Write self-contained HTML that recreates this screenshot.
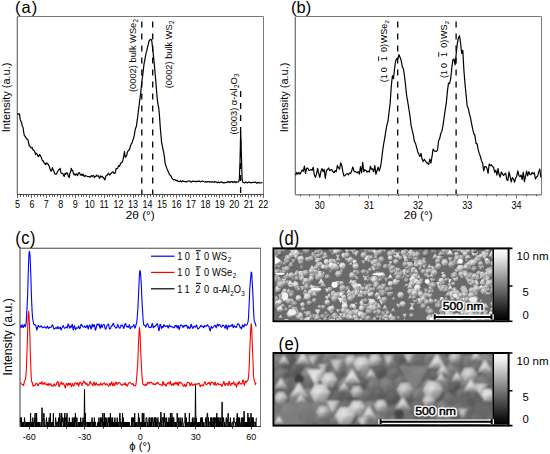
<!DOCTYPE html>
<html><head><meta charset="utf-8"><style>
html,body{margin:0;padding:0;background:#fff;width:550px;height:454px;overflow:hidden}
svg{display:block}
text{font-family:"Liberation Sans", sans-serif}
</style></head><body>
<svg xmlns="http://www.w3.org/2000/svg" width="550" height="454" viewBox="0 0 550 454" font-family='"Liberation Sans", sans-serif'><path d="M17.5 194.5V16.5H263.5V194.5" fill="none" stroke="#7a7a7a" stroke-width="1"/>
<path d="M17.0 194.5H264.0" fill="none" stroke="#484848" stroke-width="1"/>
<path d="M16.5 17V194" stroke="#d4d4d4" stroke-width="1" fill="none"/>
<path d="M17.5 195v3M31.5 195v3M46.5 195v3M60.5 195v3M75.5 195v3M89.5 195v3M104.5 195v3M118.5 195v3M133.5 195v3M147.5 195v3M162.5 195v3M176.5 195v3M190.5 195v3M205.5 195v3M219.5 195v3M234.5 195v3M248.5 195v3M263.5 195v3" stroke="#666" stroke-width="1" fill="none"/>
<path d="M20.5 195v1.8M23.5 195v1.8M26.5 195v1.8M28.5 195v1.8M34.5 195v1.8M37.5 195v1.8M40.5 195v1.8M43.5 195v1.8M49.5 195v1.8M52.5 195v1.8M54.5 195v1.8M57.5 195v1.8M63.5 195v1.8M66.5 195v1.8M69.5 195v1.8M72.5 195v1.8M78.5 195v1.8M81.5 195v1.8M83.5 195v1.8M86.5 195v1.8M92.5 195v1.8M95.5 195v1.8M98.5 195v1.8M101.5 195v1.8M107.5 195v1.8M109.5 195v1.8M112.5 195v1.8M115.5 195v1.8M121.5 195v1.8M124.5 195v1.8M127.5 195v1.8M130.5 195v1.8M135.5 195v1.8M138.5 195v1.8M141.5 195v1.8M144.5 195v1.8M150.5 195v1.8M153.5 195v1.8M156.5 195v1.8M159.5 195v1.8M164.5 195v1.8M167.5 195v1.8M170.5 195v1.8M173.5 195v1.8M179.5 195v1.8M182.5 195v1.8M185.5 195v1.8M188.5 195v1.8M193.5 195v1.8M196.5 195v1.8M199.5 195v1.8M202.5 195v1.8M208.5 195v1.8M211.5 195v1.8M214.5 195v1.8M216.5 195v1.8M222.5 195v1.8M225.5 195v1.8M228.5 195v1.8M231.5 195v1.8M237.5 195v1.8M240.5 195v1.8M242.5 195v1.8M245.5 195v1.8M251.5 195v1.8M254.5 195v1.8M257.5 195v1.8M260.5 195v1.8" stroke="#555" stroke-width="1" fill="none"/>
<text x="17.4" y="207.6" font-size="9" text-anchor="middle" fill="#000" transform="matrix(1.0 0 0 1.15 0.00 -31.14)">5</text>
<text x="31.9" y="207.6" font-size="9" text-anchor="middle" fill="#000" transform="matrix(1.0 0 0 1.15 0.00 -31.14)">6</text>
<text x="46.3" y="207.6" font-size="9" text-anchor="middle" fill="#000" transform="matrix(1.0 0 0 1.15 0.00 -31.14)">7</text>
<text x="60.8" y="207.6" font-size="9" text-anchor="middle" fill="#000" transform="matrix(1.0 0 0 1.15 0.00 -31.14)">8</text>
<text x="75.2" y="207.6" font-size="9" text-anchor="middle" fill="#000" transform="matrix(1.0 0 0 1.15 0.00 -31.14)">9</text>
<text x="89.7" y="207.6" font-size="9" text-anchor="middle" fill="#000" transform="matrix(1.0 0 0 1.15 0.00 -31.14)">10</text>
<text x="104.2" y="207.6" font-size="9" text-anchor="middle" fill="#000" transform="matrix(1.0 0 0 1.15 0.00 -31.14)">11</text>
<text x="118.6" y="207.6" font-size="9" text-anchor="middle" fill="#000" transform="matrix(1.0 0 0 1.15 0.00 -31.14)">12</text>
<text x="133.1" y="207.6" font-size="9" text-anchor="middle" fill="#000" transform="matrix(1.0 0 0 1.15 0.00 -31.14)">13</text>
<text x="147.5" y="207.6" font-size="9" text-anchor="middle" fill="#000" transform="matrix(1.0 0 0 1.15 0.00 -31.14)">14</text>
<text x="162.0" y="207.6" font-size="9" text-anchor="middle" fill="#000" transform="matrix(1.0 0 0 1.15 0.00 -31.14)">15</text>
<text x="176.5" y="207.6" font-size="9" text-anchor="middle" fill="#000" transform="matrix(1.0 0 0 1.15 0.00 -31.14)">16</text>
<text x="190.9" y="207.6" font-size="9" text-anchor="middle" fill="#000" transform="matrix(1.0 0 0 1.15 0.00 -31.14)">17</text>
<text x="205.4" y="207.6" font-size="9" text-anchor="middle" fill="#000" transform="matrix(1.0 0 0 1.15 0.00 -31.14)">18</text>
<text x="219.8" y="207.6" font-size="9" text-anchor="middle" fill="#000" transform="matrix(1.0 0 0 1.15 0.00 -31.14)">19</text>
<text x="234.3" y="207.6" font-size="9" text-anchor="middle" fill="#000" transform="matrix(1.0 0 0 1.15 0.00 -31.14)">20</text>
<text x="248.8" y="207.6" font-size="9" text-anchor="middle" fill="#000" transform="matrix(1.0 0 0 1.15 0.00 -31.14)">21</text>
<text x="263.2" y="207.6" font-size="9" text-anchor="middle" fill="#000" transform="matrix(1.0 0 0 1.15 0.00 -31.14)">22</text>
<text x="140.3" y="218.6" font-size="11.8" text-anchor="middle" fill="#000">2θ (°)</text>
<text x="10.2" y="97.4" font-size="11" text-anchor="middle" fill="#000" transform="rotate(-90 10.2 97.4)">Intensity (a.u.)</text>
<text x="15.0" y="13.0" font-size="16.5" text-anchor="start" fill="#000" transform="matrix(1.0 0 0 0.95 0.00 0.65)" letter-spacing="1">(a)</text>
<path d="M17.4 113.6L18.1 114.3L18.8 113.8L19.5 114.3L20.2 119.2L20.9 121.2L21.6 122.7L22.3 126.2L23.0 127.3L23.7 132.0L24.4 136.0L25.1 136.0L25.8 137.9L26.5 138.0L27.2 139.4L27.9 139.6L28.6 143.1L29.3 146.0L30.0 146.2L30.7 147.5L31.4 148.0L32.1 147.3L32.8 149.6L33.5 149.9L34.2 150.9L34.9 152.0L35.6 154.5L36.3 153.2L37.0 153.9L37.7 155.7L38.4 156.6L39.1 155.4L39.8 154.4L40.5 156.5L41.2 156.8L41.9 159.2L42.6 160.9L43.3 160.9L44.0 162.8L44.7 163.4L45.4 164.5L46.1 162.9L46.8 163.8L47.5 163.4L48.2 164.4L48.9 165.6L49.6 167.4L50.3 169.8L51.0 171.1L51.7 170.1L52.4 167.7L53.1 169.5L53.8 171.1L54.5 173.1L55.2 174.2L55.9 174.2L56.6 173.8L57.3 172.0L58.0 171.0L58.7 169.7L59.4 169.6L60.1 168.3L60.8 171.9L61.5 173.5L62.2 173.5L62.9 173.4L63.6 175.8L64.3 176.3L65.0 173.4L65.7 174.4L66.4 172.8L67.1 172.8L67.8 174.3L68.5 176.6L69.2 177.5L69.9 173.1L70.6 172.1L71.3 168.3L72.0 170.2L72.7 170.6L73.4 173.3L74.1 174.8L74.8 173.9L75.5 175.3L76.2 173.9L76.9 174.3L77.6 175.6L78.3 173.2L79.0 172.6L79.7 173.1L80.4 175.0L81.1 175.1L81.8 174.1L82.5 175.4L83.2 174.2L83.9 176.1L84.6 176.3L85.3 175.4L86.0 175.9L86.7 176.2L87.4 176.6L88.1 176.6L88.8 176.6L89.5 176.7L90.2 177.2L90.9 176.0L91.6 175.7L92.3 176.5L93.0 175.5L93.7 175.8L94.4 177.6L95.1 176.5L95.8 176.4L96.5 175.0L97.2 175.9L97.9 176.2L98.6 175.8L99.3 178.2L100.0 178.0L100.7 175.9L101.4 176.6L102.1 176.3L102.8 177.5L103.5 177.4L104.2 179.0L104.9 179.8L105.6 176.8L106.3 175.4L107.0 175.3L107.7 174.4L108.4 173.2L109.1 174.2L109.8 175.0L110.5 173.9L111.2 173.3L111.9 172.5L112.6 171.9L113.3 172.1L114.0 173.5L114.7 173.5L115.4 172.4L116.1 168.6L116.8 168.7L117.5 168.4L118.2 166.6L118.9 165.7L119.6 166.4L120.3 164.1L121.0 162.9L121.7 162.5L122.4 162.1L123.1 159.2L123.8 155.7L124.5 151.7L125.2 157.2L125.9 156.6L126.6 155.8L127.3 152.4L128.0 151.0L128.7 150.2L129.4 149.6L130.1 147.3L130.8 145.3L131.5 143.4L132.2 142.6L132.9 139.9L133.6 138.0L134.3 135.2L135.0 130.6L135.7 127.9L136.4 126.3L137.1 120.9L137.8 116.0L138.5 109.6L139.2 104.5L139.9 99.2L140.6 94.2L141.3 86.5L142.0 80.5L142.7 75.5L143.4 69.1L144.1 63.4L144.8 60.1L145.5 56.1L146.2 52.6L146.9 50.2L147.6 46.9L148.3 44.3L149.0 40.9L149.7 40.4L150.4 39.4L151.1 39.3L151.8 40.9L152.5 47.1L153.2 53.7L153.9 60.4L154.6 67.4L155.3 75.7L156.0 83.7L156.7 92.5L157.4 100.3L158.1 104.7L158.8 108.3L159.5 116.0L160.2 126.4L160.9 134.5L161.6 142.3L162.3 145.8L163.0 149.3L163.7 152.4L164.4 156.9L165.1 163.0L165.8 165.5L166.5 167.3L167.2 169.4L167.9 170.9L168.6 172.4L169.3 174.3L170.0 175.0L170.7 175.7L171.4 176.7L172.1 178.4L172.8 179.0L173.5 179.9L174.2 179.6L174.9 179.6L175.6 180.2L176.3 180.7L177.0 180.2L177.7 181.1L178.4 181.4L179.1 181.5L179.8 181.6L180.5 180.7L181.2 181.5L181.9 181.8L182.6 180.9L183.3 181.2L184.0 181.3L184.7 181.6L185.4 181.5L186.1 181.6L186.8 181.9L187.5 181.0L188.2 181.0L188.9 181.1L189.6 181.1L190.3 181.0L191.0 182.1L191.7 182.0L192.4 181.1L193.1 181.5L193.8 181.3L194.5 181.3L195.2 181.4L195.9 181.7L196.6 181.6L197.3 181.4L198.0 181.1L198.7 181.3L199.4 181.1L200.1 181.6L200.8 181.8L201.5 181.4L202.2 181.1L202.9 181.2L203.6 181.5L204.3 181.8L205.0 182.0L205.7 181.6L206.4 182.1L207.1 181.9L207.8 181.7L208.5 181.7L209.2 181.8L209.9 182.1L210.6 181.8L211.3 182.2L212.0 181.9L212.7 181.7L213.4 182.0L214.1 182.3L214.8 181.5L215.5 182.0L216.2 182.0L216.9 182.6L217.6 182.7L218.3 182.0L219.0 182.7L219.7 182.6L220.4 182.0L221.1 182.2L221.8 181.9L222.5 182.7L223.2 182.6L223.9 182.9L224.6 182.7L225.3 182.6L226.0 182.6L226.7 182.4L227.4 181.8L228.1 182.4L228.8 181.7L229.5 181.8L230.2 182.6L230.9 181.7L231.6 181.7L232.3 181.7L233.0 182.6L233.7 181.8L234.4 181.5L235.1 182.5L235.8 181.6L236.5 182.5L237.2 182.0L237.9 182.0L238.6 182.0L239.3 179.5L240.0 162.0L240.7 131.6L241.4 154.7L242.1 179.1L242.8 182.5L243.5 182.5L244.2 182.8L244.9 183.0L245.6 182.0L246.3 182.3L247.0 182.6L247.7 182.9L248.4 182.2L249.1 182.2L249.8 182.3L250.5 182.7L251.2 182.9L251.9 182.5L252.6 182.4L253.3 182.5L254.0 182.4L254.7 182.5L255.4 182.1L256.1 182.6L256.8 183.2L257.5 182.5L258.2 182.9L258.9 182.3L259.6 182.9L260.3 183.0L261.0 182.9L261.7 182.7L262.4 182.7" fill="none" stroke="#000" stroke-width="1.2" stroke-linejoin="round"/>
<path d="M141.8 21.5V194M152.7 21.5V194M240.6 91V194" stroke="#000" stroke-width="1.3" stroke-dasharray="6 6" fill="none"/>
<g transform="rotate(-90 136.2 92.0)"><text x="136.20" y="92.00" font-size="9.30" fill="#000">(</text><text x="139.30" y="92.00" font-size="9.30" fill="#000">0</text><text x="144.47" y="92.00" font-size="9.30" fill="#000">0</text><text x="149.64" y="92.00" font-size="9.30" fill="#000">0</text><text x="154.81" y="92.00" font-size="9.30" fill="#000">2</text><text x="159.99" y="92.00" font-size="9.30" fill="#000">)</text><text x="165.67" y="92.00" font-size="9.30" fill="#000">b</text><text x="170.84" y="92.00" font-size="9.30" fill="#000">u</text><text x="176.01" y="92.00" font-size="9.30" fill="#000">l</text><text x="178.08" y="92.00" font-size="9.30" fill="#000">k</text><text x="185.31" y="92.00" font-size="9.30" fill="#000">W</text><text x="194.09" y="92.00" font-size="9.30" fill="#000">S</text><text x="200.29" y="92.00" font-size="9.30" fill="#000">e</text><text x="205.76" y="94.05" font-size="6.32" fill="#000">2</text></g>
<g transform="rotate(-90 172.0 88.3)"><text x="172.00" y="88.30" font-size="9.30" fill="#000">(</text><text x="175.10" y="88.30" font-size="9.30" fill="#000">0</text><text x="180.27" y="88.30" font-size="9.30" fill="#000">0</text><text x="185.44" y="88.30" font-size="9.30" fill="#000">0</text><text x="190.61" y="88.30" font-size="9.30" fill="#000">2</text><text x="195.79" y="88.30" font-size="9.30" fill="#000">)</text><text x="201.47" y="88.30" font-size="9.30" fill="#000">b</text><text x="206.64" y="88.30" font-size="9.30" fill="#000">u</text><text x="211.81" y="88.30" font-size="9.30" fill="#000">l</text><text x="213.88" y="88.30" font-size="9.30" fill="#000">k</text><text x="221.11" y="88.30" font-size="9.30" fill="#000">W</text><text x="229.89" y="88.30" font-size="9.30" fill="#000">S</text><text x="236.39" y="90.35" font-size="6.32" fill="#000">2</text></g>
<g transform="rotate(-90 237.0 134.6)"><text x="237.00" y="134.60" font-size="9.30" fill="#000">(</text><text x="240.10" y="134.60" font-size="9.30" fill="#000">0</text><text x="245.27" y="134.60" font-size="9.30" fill="#000">0</text><text x="250.44" y="134.60" font-size="9.30" fill="#000">0</text><text x="255.61" y="134.60" font-size="9.30" fill="#000">3</text><text x="260.79" y="134.60" font-size="9.30" fill="#000">)</text><text x="266.47" y="134.60" font-size="9.30" fill="#000">α</text><text x="271.84" y="134.60" font-size="9.30" fill="#000">-</text><text x="274.94" y="134.60" font-size="9.30" fill="#000">A</text><text x="281.14" y="134.60" font-size="9.30" fill="#000">l</text><text x="283.51" y="136.65" font-size="6.32" fill="#000">2</text><text x="287.03" y="134.60" font-size="9.30" fill="#000">O</text><text x="294.56" y="136.65" font-size="6.32" fill="#000">3</text></g>
<path d="M295.5 194.7V16.5H541.5V194.7" fill="none" stroke="#7a7a7a" stroke-width="1"/>
<path d="M295.0 194.7H542.0" fill="none" stroke="#8c8c8c" stroke-width="1.4"/>
<path d="M294.5 17V194" stroke="#d0d0d0" stroke-width="1" fill="none"/>
<path d="M319.5 195v3.5M368.5 195v3.5M418.5 195v3.5M467.5 195v3.5M516.5 195v3.5" stroke="#777" stroke-width="1" fill="none"/>
<path d="M300.5 195v1.2M309.5 195v1.2M329.5 195v1.2M339.5 195v1.2M349.5 195v1.2M359.5 195v1.2M378.5 195v1.2M388.5 195v1.2M398.5 195v1.2M408.5 195v1.2M427.5 195v1.2M437.5 195v1.2M447.5 195v1.2M457.5 195v1.2M477.5 195v1.2M486.5 195v1.2M496.5 195v1.2M506.5 195v1.2M526.5 195v1.2M536.5 195v1.2" stroke="#444" stroke-width="1" fill="none"/>
<text x="319.8" y="208.9" font-size="9" text-anchor="middle" fill="#000" transform="matrix(1.0 0 0 1.15 0.00 -31.33)">30</text>
<text x="368.9" y="208.9" font-size="9" text-anchor="middle" fill="#000" transform="matrix(1.0 0 0 1.15 0.00 -31.33)">31</text>
<text x="418.1" y="208.9" font-size="9" text-anchor="middle" fill="#000" transform="matrix(1.0 0 0 1.15 0.00 -31.33)">32</text>
<text x="467.2" y="208.9" font-size="9" text-anchor="middle" fill="#000" transform="matrix(1.0 0 0 1.15 0.00 -31.33)">33</text>
<text x="516.4" y="208.9" font-size="9" text-anchor="middle" fill="#000" transform="matrix(1.0 0 0 1.15 0.00 -31.33)">34</text>
<text x="418.2" y="219.4" font-size="11.8" text-anchor="middle" fill="#000">2θ (°)</text>
<text x="288.0" y="97.4" font-size="11" text-anchor="middle" fill="#000" transform="rotate(-90 288.0 97.4)">Intensity (a.u.)</text>
<text x="291.0" y="13.2" font-size="16.5" text-anchor="start" fill="#000" transform="matrix(1.0 0 0 0.95 0.00 0.66)">(b)</text>
<path d="M295.6 175.3L296.7 172.4L297.8 174.1L298.9 172.5L300.0 174.1L301.1 172.1L302.2 169.9L303.3 171.3L304.4 166.2L305.5 173.3L306.6 168.3L307.7 168.1L308.8 170.1L309.9 170.4L311.0 169.4L312.1 170.3L313.2 167.3L314.3 174.8L315.4 177.3L316.5 174.1L317.6 168.3L318.7 173.3L319.8 177.5L320.9 171.4L322.0 168.5L323.1 171.7L324.2 169.3L325.3 178.3L326.4 170.8L327.5 169.5L328.6 168.0L329.7 170.7L330.8 169.7L331.9 169.9L333.0 171.8L334.1 172.7L335.2 170.6L336.3 171.5L337.4 165.4L338.5 167.9L339.6 169.2L340.7 162.9L341.8 165.3L342.9 171.9L344.0 176.1L345.1 175.4L346.2 174.0L347.3 173.8L348.4 174.8L349.5 173.0L350.6 173.4L351.7 170.8L352.8 167.0L353.9 170.9L355.0 171.7L356.1 171.8L357.2 172.9L358.3 171.7L359.4 174.1L360.5 166.7L361.6 173.0L362.7 162.3L363.8 171.7L364.9 169.7L366.0 170.4L367.1 172.2L368.2 171.1L369.3 172.2L370.4 166.3L371.5 169.3L372.6 168.8L373.7 171.9L374.8 165.6L375.9 174.2L377.0 170.8L378.1 167.1L379.2 170.8L380.3 167.8L381.4 161.5L382.5 152.0L383.6 144.3L384.7 138.2L385.8 131.4L386.9 124.9L388.0 121.2L389.1 111.8L390.2 102.8L391.3 86.0L392.4 75.8L393.5 78.7L394.6 68.4L395.7 60.6L396.8 58.5L397.9 58.6L399.0 54.6L400.1 57.5L401.2 60.5L402.3 66.9L403.4 68.7L404.5 76.1L405.6 85.8L406.7 96.0L407.8 102.1L408.9 109.0L410.0 116.4L411.1 125.3L412.2 130.3L413.3 134.9L414.4 141.5L415.5 143.4L416.6 147.4L417.7 151.7L418.8 154.3L419.9 156.4L421.0 153.4L422.1 159.3L423.2 161.5L424.3 159.3L425.4 160.8L426.5 162.6L427.6 163.1L428.7 164.3L429.8 159.0L430.9 163.1L432.0 156.6L433.1 149.2L434.2 150.9L435.3 151.2L436.4 151.5L437.5 150.1L438.6 140.8L439.7 138.6L440.8 133.4L441.9 131.2L443.0 125.7L444.1 117.5L445.2 109.9L446.3 103.1L447.4 91.4L448.5 83.2L449.6 83.3L450.7 78.7L451.8 67.9L452.9 59.7L454.0 59.1L455.1 64.9L456.2 53.7L457.3 43.7L458.4 37.9L459.5 35.7L460.6 43.3L461.7 53.5L462.8 50.3L463.9 70.1L465.0 83.9L466.1 94.8L467.2 106.2L468.3 108.4L469.4 113.6L470.5 117.9L471.6 123.6L472.7 129.2L473.8 133.6L474.9 135.4L476.0 143.4L477.1 143.9L478.2 149.9L479.3 153.4L480.4 156.5L481.5 160.7L482.6 162.9L483.7 170.8L484.8 166.6L485.9 166.5L487.0 168.5L488.1 173.3L489.2 164.1L490.3 165.7L491.4 164.8L492.5 166.4L493.6 167.5L494.7 172.3L495.8 170.4L496.9 175.1L498.0 168.6L499.1 174.6L500.2 177.2L501.3 172.1L502.4 173.8L503.5 175.5L504.6 174.2L505.7 173.1L506.8 179.8L507.9 180.4L509.0 171.8L510.1 176.4L511.2 182.0L512.3 177.6L513.4 179.0L514.5 182.1L515.6 178.3L516.7 176.2L517.8 170.9L518.9 175.6L520.0 176.7L521.1 175.0L522.2 179.7L523.3 172.0L524.4 181.6L525.5 176.5L526.6 171.2L527.7 175.9L528.8 171.6L529.9 174.2L531.0 174.7L532.1 172.4L533.2 173.9L534.3 172.7L535.4 179.0L536.5 177.0L537.6 176.3L538.7 172.0L539.8 169.0L540.9 177.5" fill="none" stroke="#000" stroke-width="1.2" stroke-linejoin="round"/>
<path d="M397.7 21.5V194M456.1 21.5V194" stroke="#000" stroke-width="1.3" stroke-dasharray="6 6" fill="none"/>
<g transform="rotate(-90 386.8 82.3)"><text x="386.80" y="82.30" font-size="9.00" fill="#000">(</text><text x="389.80" y="82.30" font-size="9.00" fill="#000">1</text><text x="396.80" y="82.30" font-size="9.00" fill="#000">0</text><text x="407.81" y="82.30" font-size="9.00" fill="#000">1</text><text x="417.01" y="82.30" font-size="9.00" fill="#000">0</text><text x="422.02" y="82.30" font-size="9.00" fill="#000">)</text><text x="425.82" y="82.30" font-size="9.00" fill="#000">W</text><text x="434.31" y="82.30" font-size="9.00" fill="#000">S</text><text x="440.31" y="82.30" font-size="9.00" fill="#000">e</text><text x="445.62" y="84.28" font-size="6.12" fill="#000">2</text><path d="M407.99 74.11h4.68" stroke="#000" stroke-width="0.9" fill="none"/></g>
<g transform="rotate(-90 446.9 78.0)"><text x="446.90" y="78.00" font-size="9.00" fill="#000">(</text><text x="449.90" y="78.00" font-size="9.00" fill="#000">1</text><text x="456.90" y="78.00" font-size="9.00" fill="#000">0</text><text x="467.91" y="78.00" font-size="9.00" fill="#000">1</text><text x="477.11" y="78.00" font-size="9.00" fill="#000">0</text><text x="482.12" y="78.00" font-size="9.00" fill="#000">)</text><text x="485.92" y="78.00" font-size="9.00" fill="#000">W</text><text x="494.41" y="78.00" font-size="9.00" fill="#000">S</text><text x="500.71" y="79.98" font-size="6.12" fill="#000">2</text><path d="M468.09 69.81h4.68" stroke="#000" stroke-width="0.9" fill="none"/></g>
<path d="M20.0 426.5V248.3H260.5V426.5" fill="none" stroke="#7a7a7a" stroke-width="1"/>
<path d="M19.5 426.5H261.0" fill="none" stroke="#3a3a3a" stroke-width="1"/>
<path d="M20 248.3V426.5" stroke="#9c9c9c" stroke-width="2" fill="none"/>
<path d="M19 248.3H261" stroke="#777" stroke-width="1.3" fill="none"/>
<path d="M29.5 427v2.5M84.5 427v2.5M140.5 427v2.5M195.5 427v2.5M251.5 427v2.5" stroke="#3a3a3a" stroke-width="1" fill="none"/>
<path d="M47.5 427v1.8M66.5 427v1.8M103.5 427v1.8M121.5 427v1.8M158.5 427v1.8M177.5 427v1.8M214.5 427v1.8M232.5 427v1.8" stroke="#3a3a3a" stroke-width="1" fill="none"/>
<text x="29.3" y="439.7" font-size="9" text-anchor="middle" fill="#000" transform="matrix(1.0 0 0 1.1 0.00 -43.97)">-60</text>
<text x="84.8" y="439.7" font-size="9" text-anchor="middle" fill="#000" transform="matrix(1.0 0 0 1.1 0.00 -43.97)">-30</text>
<text x="140.3" y="439.7" font-size="9" text-anchor="middle" fill="#000" transform="matrix(1.0 0 0 1.1 0.00 -43.97)">0</text>
<text x="195.8" y="439.7" font-size="9" text-anchor="middle" fill="#000" transform="matrix(1.0 0 0 1.1 0.00 -43.97)">30</text>
<text x="251.3" y="439.7" font-size="9" text-anchor="middle" fill="#000" transform="matrix(1.0 0 0 1.1 0.00 -43.97)">60</text>
<text x="140.0" y="450.3" font-size="11.3" text-anchor="middle" fill="#000">ϕ (°)</text>
<text x="12.0" y="336.9" font-size="12.2" text-anchor="middle" fill="#000" transform="rotate(-90 12.0 336.9)">Intensity (a.u.)</text>
<text x="15.2" y="244.4" font-size="16.5" text-anchor="start" fill="#000" transform="matrix(1.0 0 0 1.12 0.00 -29.33)" letter-spacing="0.5">(c)</text>
<path d="M20.3 325.4L20.8 326.8L21.2 327.5L21.7 325.8L22.1 324.7L22.6 326.0L23.1 327.6L23.5 327.3L24.0 325.0L24.4 324.5L24.9 326.1L25.4 326.6L25.8 325.3L26.3 320.9L26.7 313.0L27.2 304.4L27.7 293.7L28.1 278.1L28.6 262.8L29.0 253.4L29.5 251.2L30.0 255.1L30.4 264.1L30.9 277.3L31.3 291.9L31.8 304.9L32.3 314.4L32.7 318.9L33.2 321.3L33.6 323.8L34.1 324.6L34.6 324.5L35.0 324.7L35.5 325.2L35.9 325.8L36.4 328.1L36.9 330.2L37.3 328.7L37.8 326.7L38.2 325.3L38.7 325.8L39.2 327.0L39.6 327.0L40.1 326.9L40.5 326.3L41.0 325.8L41.5 326.1L41.9 326.9L42.4 327.8L42.8 327.4L43.3 327.0L43.8 327.4L44.2 327.2L44.7 326.9L45.1 327.2L45.6 327.6L46.1 328.2L46.5 328.0L47.0 326.6L47.4 326.1L47.9 327.2L48.4 328.3L48.8 328.4L49.3 327.3L49.7 327.2L50.2 327.5L50.7 327.2L51.1 327.0L51.6 326.5L52.0 325.4L52.5 324.8L53.0 325.8L53.4 327.8L53.9 329.0L54.3 329.0L54.8 328.6L55.3 328.3L55.7 327.8L56.2 327.5L56.6 328.4L57.1 328.7L57.6 326.7L58.0 326.6L58.5 328.4L58.9 328.4L59.4 328.2L59.9 327.4L60.3 327.1L60.8 329.5L61.2 329.9L61.7 328.1L62.2 327.5L62.6 326.6L63.1 325.5L63.5 326.1L64.0 327.5L64.5 328.3L64.9 327.9L65.4 327.7L65.8 327.6L66.3 326.8L66.8 327.6L67.2 328.0L67.7 325.8L68.1 323.9L68.6 324.6L69.1 326.6L69.5 328.1L70.0 327.9L70.4 326.2L70.9 326.3L71.4 327.1L71.8 325.4L72.3 324.3L72.7 327.4L73.2 330.0L73.7 328.4L74.1 325.8L74.6 325.7L75.0 327.9L75.5 329.7L76.0 328.6L76.4 327.8L76.9 328.2L77.3 328.3L77.8 328.1L78.3 326.5L78.7 326.0L79.2 327.8L79.6 328.8L80.1 328.2L80.6 326.2L81.0 324.3L81.5 324.4L81.9 325.1L82.4 325.9L82.9 326.7L83.3 326.9L83.8 327.2L84.2 326.8L84.7 326.2L85.2 326.7L85.6 327.5L86.1 327.4L86.5 326.3L87.0 325.2L87.5 325.8L87.9 328.3L88.4 328.9L88.8 326.8L89.3 325.2L89.8 325.0L90.2 326.1L90.7 328.0L91.1 329.1L91.6 327.5L92.1 324.4L92.5 324.2L93.0 326.8L93.4 326.6L93.9 324.9L94.4 324.9L94.8 326.7L95.3 330.1L95.7 330.0L96.2 327.6L96.7 325.4L97.1 324.0L97.6 324.3L98.0 325.0L98.5 325.1L99.0 324.0L99.4 325.0L99.9 328.2L100.3 328.3L100.8 325.3L101.3 324.6L101.7 327.1L102.2 327.4L102.6 325.5L103.1 324.8L103.6 324.7L104.0 324.4L104.5 325.8L104.9 327.9L105.4 329.1L105.9 329.1L106.3 327.5L106.8 325.8L107.2 325.3L107.7 325.1L108.2 324.0L108.6 324.2L109.1 327.1L109.5 328.9L110.0 328.9L110.5 328.6L110.9 327.1L111.4 325.9L111.8 326.0L112.3 325.5L112.8 324.1L113.2 323.2L113.7 323.9L114.1 325.8L114.6 326.4L115.1 326.8L115.5 327.9L116.0 327.8L116.4 327.9L116.9 327.7L117.4 325.2L117.8 324.3L118.3 325.9L118.7 326.9L119.2 327.7L119.7 328.1L120.1 328.2L120.6 326.7L121.0 325.0L121.5 325.8L122.0 325.7L122.4 325.1L122.9 326.0L123.3 327.6L123.8 328.5L124.3 327.2L124.7 324.9L125.2 323.6L125.6 323.5L126.1 325.4L126.6 326.7L127.0 326.1L127.5 326.5L127.9 327.4L128.4 327.3L128.9 325.7L129.3 324.7L129.8 326.2L130.2 328.6L130.7 328.6L131.2 327.1L131.6 326.7L132.1 326.9L132.5 326.7L133.0 326.2L133.5 325.3L133.9 324.6L134.4 326.0L134.8 328.1L135.3 327.7L135.8 325.9L136.2 324.4L136.7 322.6L137.1 318.8L137.6 312.5L138.1 304.9L138.5 295.2L139.0 284.1L139.4 275.2L139.9 270.4L140.4 271.6L140.8 277.0L141.3 284.3L141.7 294.6L142.2 304.9L142.7 312.8L143.1 319.7L143.6 324.1L144.0 325.4L144.5 325.3L145.0 325.4L145.4 326.4L145.9 327.2L146.3 325.9L146.8 324.3L147.3 323.9L147.7 323.8L148.2 325.0L148.6 327.1L149.1 327.4L149.6 327.2L150.0 327.6L150.5 327.0L150.9 327.4L151.4 326.9L151.9 324.4L152.3 323.4L152.8 325.1L153.2 327.7L153.7 327.7L154.2 326.4L154.6 326.8L155.1 326.4L155.5 325.6L156.0 325.5L156.5 324.8L156.9 323.8L157.4 323.7L157.8 324.9L158.3 327.5L158.8 330.6L159.2 330.5L159.7 326.7L160.1 324.2L160.6 324.6L161.1 326.3L161.5 328.5L162.0 327.8L162.4 326.5L162.9 327.4L163.4 326.7L163.8 324.7L164.3 324.9L164.7 326.0L165.2 326.5L165.7 326.5L166.1 326.3L166.6 326.2L167.0 325.5L167.5 326.0L168.0 327.9L168.4 328.0L168.9 326.3L169.3 324.9L169.8 325.9L170.3 326.6L170.7 326.1L171.2 326.8L171.6 326.9L172.1 326.7L172.6 326.7L173.0 327.3L173.5 327.7L173.9 327.6L174.4 327.6L174.9 326.0L175.3 325.4L175.8 326.2L176.2 325.5L176.7 326.0L177.2 328.0L177.6 327.4L178.1 325.5L178.5 327.1L179.0 329.5L179.5 328.7L179.9 326.6L180.4 325.5L180.8 325.2L181.3 324.9L181.8 325.5L182.2 326.1L182.7 326.9L183.1 327.6L183.6 326.1L184.1 325.3L184.5 326.3L185.0 325.7L185.4 325.3L185.9 325.9L186.4 325.5L186.8 325.1L187.3 326.9L187.7 328.4L188.2 327.0L188.7 326.6L189.1 328.1L189.6 328.4L190.0 328.2L190.5 326.8L191.0 324.3L191.4 324.5L191.9 326.4L192.3 327.8L192.8 328.5L193.3 327.6L193.7 326.5L194.2 326.3L194.6 326.4L195.1 327.0L195.6 327.2L196.0 326.0L196.5 324.9L196.9 325.7L197.4 327.9L197.9 329.1L198.3 328.8L198.8 328.4L199.2 327.9L199.7 327.3L200.2 326.7L200.6 325.6L201.1 325.3L201.5 326.0L202.0 326.6L202.5 326.2L202.9 326.3L203.4 327.6L203.8 327.8L204.3 325.9L204.8 325.5L205.2 326.3L205.7 326.0L206.1 326.1L206.6 326.1L207.1 325.1L207.5 324.8L208.0 326.0L208.4 325.8L208.9 326.4L209.4 328.7L209.8 330.4L210.3 331.0L210.7 328.7L211.2 326.4L211.7 327.3L212.1 328.3L212.6 327.6L213.0 327.3L213.5 326.8L214.0 325.9L214.4 325.9L214.9 325.3L215.3 325.3L215.8 327.1L216.3 327.8L216.7 326.4L217.2 324.4L217.6 324.1L218.1 325.9L218.6 325.7L219.0 324.6L219.5 324.7L219.9 324.8L220.4 325.7L220.9 326.8L221.3 327.1L221.8 327.0L222.2 326.2L222.7 325.1L223.2 325.2L223.6 325.6L224.1 326.1L224.5 327.0L225.0 328.2L225.5 327.2L225.9 324.8L226.4 325.4L226.8 327.8L227.3 329.4L227.8 327.9L228.2 325.4L228.7 325.7L229.1 326.7L229.6 326.7L230.1 325.8L230.5 325.7L231.0 326.2L231.4 326.0L231.9 324.8L232.4 324.4L232.8 326.5L233.3 327.8L233.7 326.4L234.2 325.5L234.7 326.5L235.1 327.1L235.6 326.6L236.0 327.2L236.5 327.4L237.0 325.7L237.4 324.2L237.9 323.7L238.3 324.3L238.8 324.8L239.3 324.7L239.7 326.2L240.2 328.0L240.6 327.2L241.1 327.5L241.6 328.8L242.0 326.7L242.5 324.8L242.9 325.5L243.4 326.6L243.9 327.1L244.3 325.7L244.8 324.3L245.2 324.4L245.7 325.1L246.2 325.2L246.6 325.1L247.1 324.5L247.5 323.3L248.0 322.1L248.5 317.7L248.9 309.3L249.4 298.7L249.8 288.6L250.3 281.8L250.8 276.5L251.2 272.1L251.7 272.9L252.1 279.7L252.6 288.9L253.1 299.3L253.5 310.0L254.0 318.1L254.4 321.7L254.9 322.4L255.4 323.4L255.8 325.4L256.3 326.4" fill="none" stroke="#0000ff" stroke-width="1.1" stroke-linejoin="round"/>
<path d="M20.3 382.5L20.8 383.3L21.2 383.6L21.7 383.9L22.1 384.8L22.6 384.5L23.1 384.7L23.5 385.5L24.0 383.6L24.4 381.1L24.9 380.2L25.4 379.7L25.8 377.3L26.3 370.6L26.7 359.8L27.2 345.6L27.7 329.5L28.1 316.3L28.6 311.2L29.0 314.3L29.5 325.2L30.0 341.3L30.4 356.3L30.9 368.9L31.3 378.5L31.8 382.2L32.3 382.5L32.7 384.6L33.2 386.4L33.6 385.5L34.1 385.1L34.6 385.5L35.0 385.4L35.5 384.8L35.9 383.7L36.4 383.2L36.9 383.5L37.3 384.1L37.8 385.7L38.2 385.8L38.7 384.3L39.2 383.7L39.6 382.9L40.1 382.7L40.5 383.5L41.0 383.9L41.5 382.2L41.9 381.7L42.4 384.1L42.8 384.2L43.3 383.6L43.8 384.2L44.2 383.0L44.7 382.5L45.1 384.1L45.6 384.4L46.1 383.9L46.5 384.8L47.0 384.4L47.4 384.0L47.9 385.6L48.4 384.8L48.8 383.3L49.3 384.1L49.7 385.1L50.2 384.5L50.7 383.7L51.1 385.1L51.6 386.1L52.0 385.8L52.5 385.9L53.0 386.3L53.4 385.7L53.9 384.2L54.3 383.9L54.8 385.4L55.3 386.0L55.7 385.1L56.2 384.9L56.6 383.6L57.1 381.9L57.6 381.7L58.0 381.6L58.5 383.6L58.9 386.5L59.4 386.6L59.9 384.9L60.3 384.3L60.8 383.0L61.2 382.0L61.7 383.7L62.2 384.5L62.6 383.6L63.1 383.1L63.5 383.6L64.0 384.9L64.5 385.7L64.9 387.1L65.4 387.9L65.8 385.4L66.3 383.6L66.8 383.4L67.2 384.0L67.7 385.7L68.1 385.0L68.6 383.1L69.1 384.2L69.5 384.7L70.0 383.2L70.4 383.3L70.9 385.2L71.4 386.8L71.8 385.6L72.3 383.6L72.7 384.3L73.2 385.6L73.7 385.9L74.1 385.5L74.6 383.5L75.0 382.9L75.5 383.3L76.0 383.1L76.4 383.9L76.9 384.4L77.3 382.9L77.8 382.9L78.3 385.6L78.7 386.1L79.2 384.3L79.6 382.6L80.1 382.0L80.6 383.1L81.0 382.9L81.5 383.9L81.9 385.5L82.4 383.9L82.9 382.8L83.3 381.9L83.8 380.8L84.2 381.9L84.7 383.0L85.2 382.5L85.6 383.1L86.1 384.5L86.5 383.6L87.0 383.4L87.5 385.1L87.9 385.9L88.4 385.2L88.8 384.7L89.3 384.6L89.8 382.6L90.2 381.2L90.7 382.4L91.1 383.6L91.6 383.9L92.1 384.0L92.5 385.2L93.0 385.6L93.4 383.4L93.9 382.0L94.4 383.3L94.8 385.2L95.3 385.3L95.7 383.6L96.2 382.8L96.7 384.1L97.1 384.8L97.6 384.6L98.0 385.3L98.5 385.2L99.0 384.2L99.4 384.3L99.9 385.3L100.3 384.1L100.8 382.9L101.3 383.9L101.7 384.7L102.2 385.2L102.6 384.5L103.1 383.6L103.6 383.7L104.0 383.2L104.5 382.9L104.9 384.1L105.4 385.1L105.9 384.6L106.3 383.7L106.8 383.7L107.2 384.6L107.7 385.3L108.2 385.5L108.6 386.2L109.1 385.8L109.5 383.5L110.0 383.5L110.5 385.2L110.9 384.5L111.4 382.2L111.8 381.9L112.3 384.0L112.8 385.9L113.2 385.1L113.7 383.1L114.1 384.0L114.6 385.5L115.1 384.2L115.5 382.6L116.0 382.0L116.4 382.9L116.9 384.5L117.4 384.2L117.8 383.0L118.3 382.8L118.7 382.9L119.2 382.5L119.7 382.5L120.1 383.4L120.6 384.1L121.0 384.6L121.5 385.2L122.0 385.5L122.4 384.8L122.9 384.5L123.3 384.0L123.8 384.0L124.3 384.7L124.7 383.2L125.2 382.7L125.6 385.0L126.1 385.2L126.6 384.4L127.0 385.4L127.5 386.1L127.9 384.8L128.4 383.3L128.9 383.1L129.3 382.7L129.8 382.5L130.2 382.7L130.7 383.1L131.2 383.7L131.6 383.8L132.1 384.4L132.5 384.3L133.0 383.6L133.5 384.3L133.9 385.6L134.4 385.6L134.8 385.3L135.3 385.9L135.8 385.5L136.2 382.7L136.7 377.4L137.1 372.1L137.6 365.5L138.1 354.5L138.5 343.1L139.0 333.3L139.4 327.6L139.9 331.6L140.4 342.0L140.8 352.7L141.3 363.1L141.7 372.1L142.2 378.4L142.7 382.8L143.1 384.7L143.6 384.5L144.0 384.6L144.5 385.1L145.0 385.5L145.4 384.8L145.9 384.0L146.3 385.3L146.8 385.1L147.3 383.2L147.7 382.4L148.2 382.2L148.6 383.1L149.1 383.7L149.6 382.6L150.0 382.1L150.5 382.3L150.9 382.4L151.4 382.3L151.9 382.8L152.3 384.0L152.8 383.7L153.2 383.6L153.7 384.4L154.2 384.5L154.6 384.1L155.1 384.0L155.5 384.7L156.0 383.8L156.5 383.0L156.9 383.3L157.4 382.2L157.8 382.3L158.3 383.5L158.8 383.9L159.2 384.3L159.7 384.6L160.1 384.5L160.6 384.8L161.1 384.9L161.5 385.1L162.0 385.8L162.4 384.7L162.9 381.5L163.4 381.9L163.8 384.6L164.3 384.6L164.7 384.0L165.2 384.2L165.7 385.5L166.1 386.3L166.6 384.6L167.0 383.8L167.5 383.5L168.0 382.4L168.4 382.4L168.9 383.3L169.3 384.1L169.8 383.4L170.3 381.3L170.7 382.2L171.2 384.9L171.6 385.3L172.1 384.7L172.6 383.7L173.0 384.2L173.5 385.3L173.9 383.4L174.4 382.8L174.9 384.3L175.3 383.6L175.8 382.4L176.2 383.7L176.7 384.1L177.2 382.5L177.6 383.1L178.1 385.7L178.5 385.3L179.0 382.2L179.5 382.0L179.9 383.2L180.4 382.6L180.8 382.3L181.3 383.3L181.8 383.8L182.2 383.7L182.7 384.9L183.1 385.9L183.6 386.3L184.1 386.0L184.5 384.3L185.0 384.3L185.4 385.9L185.9 386.6L186.4 385.6L186.8 383.8L187.3 382.6L187.7 382.1L188.2 382.4L188.7 382.6L189.1 382.8L189.6 383.9L190.0 385.3L190.5 385.5L191.0 383.9L191.4 382.8L191.9 383.6L192.3 385.0L192.8 385.4L193.3 385.2L193.7 384.7L194.2 384.2L194.6 384.8L195.1 385.1L195.6 383.7L196.0 383.7L196.5 384.5L196.9 384.0L197.4 384.1L197.9 384.0L198.3 383.4L198.8 383.4L199.2 383.4L199.7 384.8L200.2 386.8L200.6 386.6L201.1 385.0L201.5 385.0L202.0 385.1L202.5 385.1L202.9 385.9L203.4 385.5L203.8 384.3L204.3 382.8L204.8 381.8L205.2 382.0L205.7 383.4L206.1 384.7L206.6 384.8L207.1 384.6L207.5 383.6L208.0 382.9L208.4 383.5L208.9 382.8L209.4 382.1L209.8 383.9L210.3 385.3L210.7 383.8L211.2 382.2L211.7 381.9L212.1 382.2L212.6 382.6L213.0 382.8L213.5 383.5L214.0 384.9L214.4 385.0L214.9 382.4L215.3 382.1L215.8 385.0L216.3 385.2L216.7 384.2L217.2 383.9L217.6 383.1L218.1 383.6L218.6 384.5L219.0 384.2L219.5 384.3L219.9 384.7L220.4 384.3L220.9 384.2L221.3 385.2L221.8 386.5L222.2 385.7L222.7 384.2L223.2 383.4L223.6 381.6L224.1 381.7L224.5 384.0L225.0 385.6L225.5 384.9L225.9 383.5L226.4 384.0L226.8 383.8L227.3 383.5L227.8 385.1L228.2 385.4L228.7 382.9L229.1 381.3L229.6 382.4L230.1 384.3L230.5 385.5L231.0 385.0L231.4 383.7L231.9 383.1L232.4 383.8L232.8 384.0L233.3 382.4L233.7 381.9L234.2 383.3L234.7 384.9L235.1 384.5L235.6 383.8L236.0 385.6L236.5 387.2L237.0 385.6L237.4 383.1L237.9 383.7L238.3 384.2L238.8 382.0L239.3 381.5L239.7 383.2L240.2 384.0L240.6 383.5L241.1 383.7L241.6 384.1L242.0 383.7L242.5 381.7L242.9 379.8L243.4 380.6L243.9 383.6L244.3 385.5L244.8 384.2L245.2 381.6L245.7 381.1L246.2 382.2L246.6 381.8L247.1 380.8L247.5 380.8L248.0 379.9L248.5 377.2L248.9 371.7L249.4 362.1L249.8 350.0L250.3 337.6L250.8 327.5L251.2 323.5L251.7 328.2L252.1 339.0L252.6 351.3L253.1 364.2L253.5 375.1L254.0 379.6L254.4 380.0L254.9 382.5L255.4 384.6L255.8 383.6L256.3 383.0" fill="none" stroke="#ff0000" stroke-width="1.1" stroke-linejoin="round"/>
<path d="M20.3 422.1L20.7 417.6L21.1 426.6L21.4 417.6L21.8 426.6L22.2 422.1L22.6 426.6L23.0 422.1L23.3 426.6L23.7 422.1L24.1 426.6L24.5 417.6L24.9 422.1L25.2 422.1L25.6 426.6L26.0 422.1L26.4 426.6L26.8 422.1L27.1 426.6L27.5 422.1L27.9 426.6L28.3 422.1L28.7 426.6L29.0 422.1L29.4 426.6L29.8 422.1L30.2 426.6L30.6 413.1L30.9 426.6L31.3 422.1L31.7 426.6L32.1 422.1L32.5 426.6L32.8 417.6L33.2 426.6L33.6 422.1L34.0 426.6L34.4 422.1L34.7 417.6L35.1 413.1L35.5 426.6L35.9 417.6L36.3 426.6L36.6 413.1L37.0 426.6L37.4 422.1L37.8 426.6L38.2 422.1L38.5 426.6L38.9 422.1L39.3 426.6L39.7 422.1L40.1 426.6L40.4 426.6L40.8 426.6L41.2 422.1L41.6 426.6L42.0 407.7L42.3 417.6L42.7 422.1L43.1 426.6L43.5 417.6L43.9 413.1L44.2 417.6L44.6 426.6L45.0 426.6L45.4 426.6L45.8 426.6L46.1 422.1L46.5 417.6L46.9 426.6L47.3 422.1L47.7 426.6L48.0 422.1L48.4 426.6L48.8 422.1L49.2 417.6L49.6 422.1L49.9 426.6L50.3 413.1L50.7 426.6L51.1 426.6L51.5 426.6L51.8 422.1L52.2 426.6L52.6 422.1L53.0 426.6L53.4 413.1L53.7 426.6L54.1 426.6L54.5 426.6L54.9 426.6L55.3 426.6L55.6 417.6L56.0 422.1L56.4 422.1L56.8 426.6L57.2 426.6L57.5 422.1L57.9 422.1L58.3 426.6L58.7 417.6L59.1 426.6L59.4 422.1L59.8 413.0L60.2 417.6L60.6 426.6L61.0 422.1L61.3 426.6L61.7 413.1L62.1 422.1L62.5 417.6L62.9 422.1L63.2 426.6L63.6 426.6L64.0 417.6L64.4 426.6L64.8 413.1L65.1 426.6L65.5 417.6L65.9 417.6L66.3 417.6L66.7 426.6L67.0 413.1L67.4 426.6L67.8 426.6L68.2 426.6L68.6 422.1L68.9 426.6L69.3 417.6L69.7 426.6L70.1 422.1L70.5 426.6L70.8 422.1L71.2 426.6L71.6 422.1L72.0 426.6L72.4 417.6L72.7 426.6L73.1 422.1L73.5 426.6L73.9 417.6L74.3 426.6L74.6 417.6L75.0 426.6L75.4 413.1L75.8 422.1L76.2 422.1L76.5 426.6L76.9 417.6L77.3 426.6L77.7 426.6L78.1 426.6L78.4 422.1L78.8 426.6L79.2 422.1L79.6 426.6L80.0 422.1L80.3 426.6L80.7 417.6L81.1 426.6L81.5 422.1L81.9 426.6L82.2 422.1L82.6 426.6L83.0 417.6L83.4 422.1L83.8 422.1L84.1 426.6L84.5 389.3L84.9 426.6L85.3 413.1L85.7 426.6L86.0 422.1L86.4 422.1L86.8 422.1L87.2 426.6L87.6 422.1L87.9 426.6L88.3 422.1L88.7 426.6L89.1 422.1L89.5 426.6L89.8 422.1L90.2 426.6L90.6 422.1L91.0 426.6L91.4 422.1L91.7 422.1L92.1 417.6L92.5 426.6L92.9 422.1L93.3 426.6L93.6 422.1L94.0 426.6L94.4 417.6L94.8 426.6L95.2 422.1L95.5 422.1L95.9 426.6L96.3 426.6L96.7 426.6L97.1 426.6L97.4 426.6L97.8 422.1L98.2 422.1L98.6 426.6L99.0 417.6L99.3 426.6L99.7 422.1L100.1 426.6L100.5 417.6L100.9 426.6L101.2 417.6L101.6 422.1L102.0 422.1L102.4 426.6L102.8 413.1L103.1 426.6L103.5 422.1L103.9 426.6L104.3 413.1L104.7 426.6L105.0 417.6L105.4 426.6L105.8 422.1L106.2 417.6L106.6 422.1L106.9 426.6L107.3 422.1L107.7 426.6L108.1 417.6L108.5 422.1L108.8 417.6L109.2 426.6L109.6 417.6L110.0 426.6L110.4 413.1L110.7 426.6L111.1 422.1L111.5 426.6L111.9 417.6L112.3 426.6L112.6 417.6L113.0 426.6L113.4 422.1L113.8 426.6L114.2 422.1L114.5 426.6L114.9 417.6L115.3 426.6L115.7 422.1L116.1 426.6L116.4 422.1L116.8 426.6L117.2 417.6L117.6 426.6L118.0 422.1L118.3 426.6L118.7 422.1L119.1 426.6L119.5 417.6L119.9 413.0L120.2 417.6L120.6 426.6L121.0 422.1L121.4 426.6L121.8 422.1L122.1 426.6L122.5 413.1L122.9 426.6L123.3 417.6L123.7 426.6L124.0 422.1L124.4 426.6L124.8 422.1L125.2 426.6L125.6 422.1L125.9 426.6L126.3 422.1L126.7 426.6L127.1 422.1L127.5 426.6L127.8 422.1L128.2 426.6L128.6 422.1L129.0 426.6L129.4 422.1L129.7 426.6L130.1 426.6L130.5 426.6L130.9 426.6L131.3 426.6L131.6 417.6L132.0 426.6L132.4 417.6L132.8 426.6L133.2 422.1L133.5 417.6L133.9 422.1L134.3 426.6L134.7 413.1L135.1 426.6L135.4 422.1L135.8 426.6L136.2 422.1L136.6 426.6L137.0 422.1L137.3 426.6L137.7 426.6L138.1 426.6L138.5 413.1L138.9 426.6L139.2 417.6L139.6 422.1L140.0 426.6L140.4 426.6L140.8 422.1L141.1 426.6L141.5 422.1L141.9 426.6L142.3 413.1L142.7 426.6L143.0 422.1L143.4 426.6L143.8 413.1L144.2 426.6L144.6 422.1L144.9 426.6L145.3 422.1L145.7 426.6L146.1 417.6L146.5 417.6L146.8 417.6L147.2 426.6L147.6 422.1L148.0 426.6L148.4 426.6L148.7 426.6L149.1 417.6L149.5 426.6L149.9 417.6L150.3 426.6L150.6 422.1L151.0 426.6L151.4 417.6L151.8 426.6L152.2 422.1L152.5 417.6L152.9 417.6L153.3 426.6L153.7 422.1L154.1 426.6L154.4 417.6L154.8 422.1L155.2 417.6L155.6 426.6L156.0 417.6L156.3 426.6L156.7 422.1L157.1 426.6L157.5 422.1L157.9 417.6L158.2 422.1L158.6 422.1L159.0 426.6L159.4 426.6L159.8 422.1L160.1 426.6L160.5 422.1L160.9 412.0L161.3 422.1L161.7 426.6L162.0 417.6L162.4 417.6L162.8 417.6L163.2 426.6L163.6 417.6L163.9 426.6L164.3 413.1L164.7 422.1L165.1 417.6L165.5 426.6L165.8 422.1L166.2 426.6L166.6 417.6L167.0 426.6L167.4 422.1L167.7 426.6L168.1 422.1L168.5 426.6L168.9 417.6L169.3 426.6L169.6 422.1L170.0 426.6L170.4 413.1L170.8 426.6L171.2 417.6L171.5 426.6L171.9 413.1L172.3 426.6L172.7 417.6L173.1 426.6L173.4 417.6L173.8 417.6L174.2 426.6L174.6 426.6L175.0 422.1L175.3 426.6L175.7 422.1L176.1 426.6L176.5 422.1L176.9 426.6L177.2 413.1L177.6 422.1L178.0 422.1L178.4 426.6L178.8 417.6L179.1 426.6L179.5 422.1L179.9 422.1L180.3 417.6L180.7 426.6L181.0 422.1L181.4 426.6L181.8 422.1L182.2 417.6L182.6 422.1L182.9 426.6L183.3 426.6L183.7 426.6L184.1 422.1L184.5 422.1L184.8 422.1L185.2 413.1L185.6 426.6L186.0 422.1L186.4 417.6L186.7 426.6L187.1 422.1L187.5 426.6L187.9 426.6L188.3 422.1L188.6 422.1L189.0 426.6L189.4 413.1L189.8 426.6L190.2 422.1L190.5 426.6L190.9 426.6L191.3 426.6L191.7 422.1L192.1 426.6L192.4 417.6L192.8 426.6L193.2 422.1L193.6 426.6L194.0 417.6L194.3 426.6L194.7 422.1L195.1 426.6L195.5 385.5L195.9 426.6L196.2 417.6L196.6 426.6L197.0 422.1L197.4 426.6L197.8 422.1L198.1 426.6L198.5 422.1L198.9 426.6L199.3 422.1L199.7 426.6L200.0 422.1L200.4 426.6L200.8 417.6L201.2 422.1L201.6 417.6L201.9 426.6L202.3 417.6L202.7 426.6L203.1 422.1L203.5 426.6L203.8 422.1L204.2 426.6L204.6 426.6L205.0 426.6L205.4 422.1L205.7 417.6L206.1 417.6L206.5 426.6L206.9 417.6L207.3 413.1L207.6 413.1L208.0 426.6L208.4 417.6L208.8 426.6L209.2 422.1L209.5 422.1L209.9 422.1L210.3 426.6L210.7 417.6L211.1 426.6L211.4 417.6L211.8 426.6L212.2 426.6L212.6 426.6L213.0 417.6L213.3 426.6L213.7 417.6L214.1 426.6L214.5 417.6L214.9 426.6L215.2 422.1L215.6 417.6L216.0 422.1L216.4 426.6L216.8 413.1L217.1 426.6L217.5 417.6L217.9 426.6L218.3 417.6L218.7 426.6L219.0 417.6L219.4 426.6L219.8 422.1L220.2 426.6L220.6 417.6L220.9 422.1L221.3 422.1L221.7 426.6L222.1 402.0L222.5 426.6L222.8 417.6L223.2 422.1L223.6 417.6L224.0 426.6L224.4 422.1L224.7 426.6L225.1 426.6L225.5 426.6L225.9 422.1L226.3 417.6L226.6 422.1L227.0 426.6L227.4 422.1L227.8 417.6L228.2 413.1L228.5 426.6L228.9 422.1L229.3 426.6L229.7 422.1L230.1 426.6L230.4 417.6L230.8 426.6L231.2 426.6L231.6 426.6L232.0 422.1L232.3 422.1L232.7 422.1L233.1 426.6L233.5 422.1L233.9 417.6L234.2 422.1L234.6 422.1L235.0 422.1L235.4 426.6L235.8 422.1L236.1 426.6L236.5 422.1L236.9 417.6L237.3 413.1L237.7 426.6L238.0 417.6L238.4 426.6L238.8 417.6L239.2 426.6L239.6 417.6L239.9 422.1L240.3 426.6L240.7 426.6L241.1 422.1L241.5 426.6L241.8 417.6L242.2 426.6L242.6 417.6L243.0 422.1L243.4 417.6L243.7 426.6L244.1 411.0L244.5 426.6L244.9 426.6L245.3 426.6L245.6 422.1L246.0 426.6L246.4 422.1L246.8 426.6L247.2 422.1L247.5 426.6L247.9 413.0L248.3 426.6L248.7 417.6L249.1 426.6L249.4 417.6L249.8 426.6L250.2 422.1L250.6 426.6L251.0 413.1L251.3 426.6L251.7 417.6L252.1 426.6L252.5 417.6L252.9 426.6L253.2 417.6L253.6 426.6L254.0 422.1L254.4 422.1L254.8 422.1L255.1 426.6L255.5 422.1L255.9 426.6L256.3 417.6" fill="none" stroke="#000" stroke-width="1.0"/>
<path d="M151 256.2H174.5" stroke="#0000ff" stroke-width="1.2"/>
<path d="M151 272.4H174.5" stroke="#ff0000" stroke-width="1.2"/>
<path d="M151 288.8H174.5" stroke="#000" stroke-width="1.2"/>
<g transform="matrix(1 0 0 1.17 0 -44.15)"><text x="177.30" y="259.70" font-size="9.30" fill="#000">1</text><text x="184.87" y="259.70" font-size="9.30" fill="#000">0</text><text x="195.14" y="259.70" font-size="9.30" fill="#000">1</text><text x="204.12" y="259.70" font-size="9.30" fill="#000">0</text><text x="212.09" y="259.70" font-size="9.30" fill="#000">W</text><text x="220.87" y="259.70" font-size="9.30" fill="#000">S</text><text x="227.67" y="261.75" font-size="6.32" fill="#000">2</text><path d="M195.93 252.00h4.84" stroke="#000" stroke-width="0.9" fill="none"/></g>
<g transform="matrix(1 0 0 1.17 0 -46.90)"><text x="177.30" y="275.90" font-size="9.30" fill="#000">1</text><text x="184.87" y="275.90" font-size="9.30" fill="#000">0</text><text x="195.14" y="275.90" font-size="9.30" fill="#000">1</text><text x="204.12" y="275.90" font-size="9.30" fill="#000">0</text><text x="212.09" y="275.90" font-size="9.30" fill="#000">W</text><text x="220.87" y="275.90" font-size="9.30" fill="#000">S</text><text x="227.07" y="275.90" font-size="9.30" fill="#000">e</text><text x="232.64" y="277.95" font-size="6.32" fill="#000">2</text><path d="M195.93 268.20h4.84" stroke="#000" stroke-width="0.9" fill="none"/></g>
<g transform="matrix(1 0 0 1.17 0 -49.84)"><text x="177.30" y="293.20" font-size="9.30" fill="#000">1</text><text x="184.47" y="293.20" font-size="9.30" fill="#000">1</text><text x="195.34" y="293.20" font-size="9.30" fill="#000">2</text><text x="204.12" y="293.20" font-size="9.30" fill="#000">0</text><text x="213.09" y="293.20" font-size="9.30" fill="#000">α</text><text x="218.47" y="293.20" font-size="9.30" fill="#000">-</text><text x="221.56" y="293.20" font-size="9.30" fill="#000">A</text><text x="227.77" y="293.20" font-size="9.30" fill="#000">l</text><text x="230.13" y="295.25" font-size="6.32" fill="#000">2</text><text x="233.65" y="293.20" font-size="9.30" fill="#000">O</text><text x="241.18" y="295.25" font-size="6.32" fill="#000">3</text><path d="M196.13 284.80h4.84" stroke="#000" stroke-width="0.9" fill="none"/></g>
<text x="278.6" y="245.3" font-size="16.5" text-anchor="start" fill="#000" transform="matrix(1.0 0 0 1.18 0.00 -44.15)" letter-spacing="0.3">(d)</text>
<text x="278.6" y="349.6" font-size="16.5" text-anchor="start" fill="#000" transform="matrix(1.0 0 0 1.16 0.00 -55.94)" letter-spacing="0.3">(e)</text>
<defs><radialGradient id="rg" cx=".45" cy=".42" r=".55"><stop offset="0" stop-color="#fff" stop-opacity=".5"/><stop offset="1" stop-color="#fff" stop-opacity="0"/></radialGradient><g id="H"><path d="M1 0L.5 .866L-.5 .866L-1 0L-.5-.866L.5-.866Z"/><path d="M0 0L-1 0L-.5-.866L.5-.866Z" fill="#fff" fill-opacity=".22"/><path d="M0 0L1 0L.5 .866L-.5 .866Z" fill="#000" fill-opacity=".2"/><path d="M1 0L.5 .866L-.5 .866L-1 0L-.5-.866L.5-.866Z" fill="url(#rg)"/></g><g id="U"><path d="M0-1L.866 .5L-.866 .5Z"/><path d="M0 0L0-1L-.866 .5Z" fill="#fff" fill-opacity=".22"/><path d="M0 0L.866 .5L-.866 .5Z" fill="#000" fill-opacity=".2"/><path d="M0-1L.866 .5L-.866 .5Z" fill="url(#rg)"/></g><g id="D"><path d="M0 1L-.866-.5L.866-.5Z"/><path d="M0 0L-.866-.5L.866-.5Z" fill="#fff" fill-opacity=".22"/><path d="M0 0L.866-.5L0 1Z" fill="#000" fill-opacity=".2"/><path d="M0 1L-.866-.5L.866-.5Z" fill="url(#rg)"/></g><linearGradient id="cb" x1="0" y1="0" x2="0" y2="1"><stop offset="0" stop-color="#fafafa"/><stop offset="0.1" stop-color="#ececec"/><stop offset="0.5" stop-color="#7c7c7c"/><stop offset="0.9" stop-color="#141414"/><stop offset="1" stop-color="#000"/></linearGradient><filter id="bl" x="-0.05" y="-0.1" width="1.1" height="1.2"><feGaussianBlur stdDeviation="0.75"/></filter><filter id="bl3" x="-0.1" y="-0.3" width="1.2" height="1.6"><feGaussianBlur stdDeviation="0.4"/></filter><filter id="bl2" x="-0.05" y="-0.1" width="1.1" height="1.2"><feGaussianBlur stdDeviation="1.1"/></filter><clipPath id="cd"><rect x="274.5" y="249" width="218" height="71"/></clipPath><clipPath id="ce"><rect x="274.5" y="354" width="218" height="71"/></clipPath></defs>
<g clip-path="url(#cd)"><g filter="url(#bl)"><rect x="270" y="245" width="227" height="80" fill="#6a6a6a"/><use href="#D" transform="matrix(3.31 0 0 3.31 378.8 263.4)" fill="#c0c0c0"/><use href="#D" transform="matrix(3.30 0 0 3.30 312.9 287.1)" fill="#5c5c5c"/><use href="#H" transform="matrix(3.25 0 0 3.25 367.5 258.0)" fill="#d5d5d5"/><use href="#U" transform="matrix(3.28 0 0 3.28 369.4 322.6)" fill="#959595"/><use href="#H" transform="matrix(2.90 0 0 2.90 279.6 272.0)" fill="#757575"/><use href="#H" transform="matrix(2.32 0 0 2.32 277.2 303.3)" fill="#c0c0c0"/><use href="#H" transform="matrix(2.68 0 0 2.68 373.0 289.0)" fill="#9c9c9c"/><use href="#H" transform="matrix(3.35 0 0 3.35 420.3 282.7)" fill="#6d6d6d"/><use href="#D" transform="matrix(3.45 0 0 3.45 318.5 320.6)" fill="#b9b9b9"/><use href="#U" transform="matrix(2.98 0 0 2.98 492.5 252.4)" fill="#a3a3a3"/><use href="#H" transform="matrix(3.44 0 0 3.44 316.8 317.2)" fill="#959595"/><use href="#H" transform="matrix(2.65 0 0 2.65 484.9 285.1)" fill="#9c9c9c"/><use href="#U" transform="matrix(3.21 0 0 3.21 278.0 254.1)" fill="#eeeeee"/><use href="#D" transform="matrix(3.04 0 0 3.04 272.6 252.3)" fill="#9f9f9f"/><use href="#H" transform="matrix(3.04 0 0 3.04 478.7 273.3)" fill="#8c8c8c"/><use href="#H" transform="matrix(2.44 0 0 2.44 309.6 317.2)" fill="#979797"/><use href="#U" transform="matrix(3.46 0 0 3.46 424.4 298.4)" fill="#dfdfdf"/><use href="#H" transform="matrix(3.24 0 0 3.24 476.7 259.4)" fill="#5d5d5d"/><use href="#H" transform="matrix(2.55 0 0 2.55 381.5 275.5)" fill="#cccccc"/><use href="#H" transform="matrix(2.77 0 0 2.77 397.3 280.4)" fill="#b7b7b7"/><use href="#U" transform="matrix(2.56 0 0 2.56 458.7 251.0)" fill="#8a8a8a"/><use href="#H" transform="matrix(3.10 0 0 3.10 327.4 277.0)" fill="#797979"/><use href="#D" transform="matrix(2.55 0 0 2.55 438.3 283.4)" fill="#dfdfdf"/><use href="#H" transform="matrix(3.53 0 0 3.53 475.3 283.4)" fill="#d0d0d0"/><use href="#D" transform="matrix(3.04 0 0 3.04 449.3 314.0)" fill="#979797"/><use href="#H" transform="matrix(2.39 0 0 2.39 473.3 283.2)" fill="#a6a6a6"/><use href="#H" transform="matrix(3.16 0 0 3.16 443.3 247.8)" fill="#dedede"/><use href="#H" transform="matrix(3.16 0 0 3.16 485.1 279.0)" fill="#b9b9b9"/><use href="#U" transform="matrix(2.33 0 0 2.33 301.8 254.2)" fill="#616161"/><use href="#H" transform="matrix(2.37 0 0 2.37 447.3 252.5)" fill="#898989"/><use href="#H" transform="matrix(2.89 0 0 2.89 392.1 271.6)" fill="#838383"/><use href="#H" transform="matrix(3.05 0 0 3.05 438.0 304.5)" fill="#9e9e9e"/><use href="#D" transform="matrix(2.85 0 0 2.85 448.3 247.6)" fill="#6b6b6b"/><use href="#H" transform="matrix(2.26 0 0 2.26 427.4 270.8)" fill="#949494"/><use href="#U" transform="matrix(3.34 0 0 3.34 433.9 322.3)" fill="#c0c0c0"/><use href="#H" transform="matrix(3.04 0 0 3.04 483.5 254.5)" fill="#9e9e9e"/><use href="#D" transform="matrix(3.18 0 0 3.18 487.7 270.6)" fill="#a0a0a0"/><use href="#H" transform="matrix(2.66 0 0 2.66 314.3 293.9)" fill="#808080"/><use href="#H" transform="matrix(2.35 0 0 2.35 342.9 322.5)" fill="#6e6e6e"/><use href="#U" transform="matrix(2.91 0 0 2.91 411.7 308.4)" fill="#dbdbdb"/><use href="#H" transform="matrix(3.43 0 0 3.43 377.0 286.0)" fill="#6c6c6c"/><use href="#U" transform="matrix(2.55 0 0 2.55 282.9 280.0)" fill="#b3b3b3"/><use href="#U" transform="matrix(2.53 0 0 2.53 433.4 281.7)" fill="#939393"/><use href="#H" transform="matrix(3.12 0 0 3.12 322.8 316.5)" fill="#656565"/><use href="#D" transform="matrix(3.45 0 0 3.45 381.7 301.5)" fill="#bcbcbc"/><use href="#D" transform="matrix(3.48 0 0 3.48 424.3 265.6)" fill="#939393"/><use href="#H" transform="matrix(3.20 0 0 3.20 357.2 286.8)" fill="#d2d2d2"/><use href="#D" transform="matrix(2.75 0 0 2.75 341.7 270.7)" fill="#797979"/><use href="#U" transform="matrix(3.07 0 0 3.07 311.1 286.7)" fill="#929292"/><use href="#H" transform="matrix(2.43 0 0 2.43 491.2 322.3)" fill="#979797"/><use href="#H" transform="matrix(2.46 0 0 2.46 355.0 291.2)" fill="#6f6f6f"/><use href="#D" transform="matrix(3.38 0 0 3.38 343.8 266.3)" fill="#7a7a7a"/><use href="#U" transform="matrix(2.59 0 0 2.59 316.6 292.4)" fill="#939393"/><use href="#H" transform="matrix(3.06 0 0 3.06 376.1 280.2)" fill="#898989"/><use href="#H" transform="matrix(2.34 0 0 2.34 420.9 294.3)" fill="#e5e5e5"/><use href="#H" transform="matrix(3.51 0 0 3.51 279.7 308.6)" fill="#b3b3b3"/><use href="#U" transform="matrix(2.76 0 0 2.76 288.7 291.1)" fill="#989898"/><use href="#H" transform="matrix(2.96 0 0 2.96 325.6 247.6)" fill="#717171"/><use href="#D" transform="matrix(2.20 0 0 2.20 314.4 275.2)" fill="#7c7c7c"/><use href="#H" transform="matrix(2.94 0 0 2.94 448.6 309.5)" fill="#686868"/><use href="#D" transform="matrix(2.54 0 0 2.54 365.0 314.1)" fill="#a4a4a4"/><use href="#H" transform="matrix(2.22 0 0 2.22 478.3 314.2)" fill="#a5a5a5"/><use href="#H" transform="matrix(3.58 0 0 3.58 369.2 310.3)" fill="#adadad"/><use href="#U" transform="matrix(3.05 0 0 3.05 285.3 309.0)" fill="#a9a9a9"/><use href="#H" transform="matrix(2.41 0 0 2.41 423.5 298.4)" fill="#7a7a7a"/><use href="#H" transform="matrix(3.45 0 0 3.45 338.5 294.7)" fill="#6d6d6d"/><use href="#H" transform="matrix(2.70 0 0 2.70 313.6 254.5)" fill="#909090"/><use href="#H" transform="matrix(3.15 0 0 3.15 280.3 284.6)" fill="#adadad"/><use href="#H" transform="matrix(2.70 0 0 2.70 279.2 264.7)" fill="#868686"/><use href="#H" transform="matrix(2.93 0 0 2.93 426.1 302.3)" fill="#6e6e6e"/><use href="#H" transform="matrix(2.69 0 0 2.69 319.7 250.1)" fill="#a0a0a0"/><use href="#U" transform="matrix(2.87 0 0 2.87 276.7 275.0)" fill="#c9c9c9"/><use href="#D" transform="matrix(3.15 0 0 3.15 451.9 315.9)" fill="#828282"/><use href="#U" transform="matrix(3.56 0 0 3.56 390.9 316.0)" fill="#949494"/><use href="#D" transform="matrix(2.22 0 0 2.22 480.9 307.3)" fill="#909090"/><use href="#H" transform="matrix(2.73 0 0 2.73 331.1 248.9)" fill="#b8b8b8"/><use href="#D" transform="matrix(3.43 0 0 3.43 479.6 287.8)" fill="#818181"/><use href="#H" transform="matrix(2.32 0 0 2.32 468.9 274.5)" fill="#959595"/><use href="#H" transform="matrix(3.41 0 0 3.41 350.5 298.1)" fill="#a4a4a4"/><use href="#H" transform="matrix(3.26 0 0 3.26 475.3 319.6)" fill="#e9e9e9"/><use href="#D" transform="matrix(2.95 0 0 2.95 437.4 263.2)" fill="#929292"/><use href="#U" transform="matrix(3.13 0 0 3.13 338.0 259.2)" fill="#a8a8a8"/><use href="#U" transform="matrix(3.11 0 0 3.11 443.9 304.1)" fill="#868686"/><use href="#U" transform="matrix(2.87 0 0 2.87 456.4 263.9)" fill="#656565"/><use href="#H" transform="matrix(2.40 0 0 2.40 370.2 269.9)" fill="#838383"/><use href="#D" transform="matrix(2.21 0 0 2.21 356.0 276.9)" fill="#aeaeae"/><use href="#D" transform="matrix(2.84 0 0 2.84 338.1 310.3)" fill="#9c9c9c"/><use href="#H" transform="matrix(2.28 0 0 2.28 453.2 283.7)" fill="#929292"/><use href="#H" transform="matrix(3.17 0 0 3.17 412.1 292.5)" fill="#cacaca"/><use href="#H" transform="matrix(3.29 0 0 3.29 355.6 266.0)" fill="#bebebe"/><use href="#H" transform="matrix(3.39 0 0 3.39 404.8 272.3)" fill="#b8b8b8"/><use href="#D" transform="matrix(3.36 0 0 3.36 413.3 258.1)" fill="#888888"/><use href="#U" transform="matrix(2.49 0 0 2.49 338.0 263.6)" fill="#9d9d9d"/><use href="#H" transform="matrix(2.47 0 0 2.47 416.8 275.0)" fill="#787878"/><use href="#D" transform="matrix(2.28 0 0 2.28 330.5 309.7)" fill="#b9b9b9"/><use href="#U" transform="matrix(3.21 0 0 3.21 418.0 248.6)" fill="#a6a6a6"/><use href="#H" transform="matrix(2.97 0 0 2.97 380.8 287.9)" fill="#979797"/><use href="#U" transform="matrix(2.68 0 0 2.68 413.8 274.8)" fill="#b9b9b9"/><use href="#U" transform="matrix(2.81 0 0 2.81 432.3 291.6)" fill="#848484"/><use href="#H" transform="matrix(3.46 0 0 3.46 460.1 305.9)" fill="#b8b8b8"/><use href="#H" transform="matrix(3.32 0 0 3.32 381.3 259.5)" fill="#8e8e8e"/><use href="#H" transform="matrix(2.84 0 0 2.84 338.7 320.3)" fill="#818181"/><use href="#H" transform="matrix(2.36 0 0 2.36 296.9 287.6)" fill="#959595"/><use href="#H" transform="matrix(3.04 0 0 3.04 291.0 265.4)" fill="#717171"/><use href="#H" transform="matrix(3.50 0 0 3.50 368.3 306.9)" fill="#b2b2b2"/><use href="#U" transform="matrix(3.33 0 0 3.33 361.1 319.9)" fill="#b1b1b1"/><use href="#D" transform="matrix(3.45 0 0 3.45 279.7 284.9)" fill="#bbbbbb"/><use href="#H" transform="matrix(3.10 0 0 3.10 379.5 249.9)" fill="#bcbcbc"/><use href="#H" transform="matrix(2.94 0 0 2.94 445.1 301.7)" fill="#7c7c7c"/><use href="#H" transform="matrix(2.57 0 0 2.57 354.8 284.3)" fill="#d4d4d4"/><use href="#H" transform="matrix(2.33 0 0 2.33 283.9 268.8)" fill="#8e8e8e"/><use href="#U" transform="matrix(2.63 0 0 2.63 440.0 258.4)" fill="#747474"/><use href="#D" transform="matrix(3.24 0 0 3.24 474.2 250.7)" fill="#c3c3c3"/><use href="#H" transform="matrix(2.86 0 0 2.86 426.1 294.7)" fill="#a3a3a3"/><use href="#U" transform="matrix(3.08 0 0 3.08 433.8 250.6)" fill="#a8a8a8"/><use href="#H" transform="matrix(2.80 0 0 2.80 313.6 316.4)" fill="#808080"/><use href="#H" transform="matrix(3.55 0 0 3.55 320.5 259.6)" fill="#5c5c5c"/><use href="#U" transform="matrix(2.55 0 0 2.55 461.6 320.3)" fill="#909090"/><use href="#H" transform="matrix(2.45 0 0 2.45 314.3 300.3)" fill="#929292"/><use href="#H" transform="matrix(3.38 0 0 3.38 345.3 314.7)" fill="#797979"/><use href="#U" transform="matrix(3.60 0 0 3.60 468.0 265.7)" fill="#8e8e8e"/><use href="#D" transform="matrix(3.21 0 0 3.21 455.1 306.5)" fill="#626262"/><use href="#H" transform="matrix(3.31 0 0 3.31 332.9 267.3)" fill="#a8a8a8"/><use href="#H" transform="matrix(3.45 0 0 3.45 448.2 313.3)" fill="#c3c3c3"/><use href="#U" transform="matrix(2.92 0 0 2.92 383.3 300.3)" fill="#e3e3e3"/><use href="#H" transform="matrix(3.28 0 0 3.28 356.9 317.6)" fill="#9f9f9f"/><use href="#U" transform="matrix(2.33 0 0 2.33 302.5 247.3)" fill="#999999"/><use href="#H" transform="matrix(2.36 0 0 2.36 282.8 295.4)" fill="#9e9e9e"/><use href="#H" transform="matrix(2.98 0 0 2.98 443.0 319.3)" fill="#898989"/><use href="#H" transform="matrix(3.57 0 0 3.57 428.5 310.5)" fill="#878787"/><use href="#H" transform="matrix(2.69 0 0 2.69 468.6 267.2)" fill="#a0a0a0"/><use href="#H" transform="matrix(2.33 0 0 2.33 317.7 259.2)" fill="#bebebe"/><use href="#H" transform="matrix(2.43 0 0 2.43 272.8 272.9)" fill="#909090"/><use href="#D" transform="matrix(2.24 0 0 2.24 384.5 250.2)" fill="#8e8e8e"/><use href="#D" transform="matrix(2.65 0 0 2.65 323.7 256.7)" fill="#b4b4b4"/><use href="#H" transform="matrix(3.50 0 0 3.50 441.7 254.4)" fill="#8c8c8c"/><use href="#H" transform="matrix(2.74 0 0 2.74 344.8 302.3)" fill="#bebebe"/><use href="#H" transform="matrix(2.54 0 0 2.54 438.4 302.4)" fill="#8d8d8d"/><use href="#D" transform="matrix(2.47 0 0 2.47 455.2 305.5)" fill="#dedede"/><use href="#H" transform="matrix(2.85 0 0 2.85 487.1 316.8)" fill="#b1b1b1"/><use href="#U" transform="matrix(3.57 0 0 3.57 313.7 293.8)" fill="#cccccc"/><use href="#H" transform="matrix(2.88 0 0 2.88 290.9 301.3)" fill="#d2d2d2"/><use href="#H" transform="matrix(3.06 0 0 3.06 454.2 316.1)" fill="#5a5a5a"/><use href="#H" transform="matrix(3.21 0 0 3.21 492.3 286.6)" fill="#545454"/><use href="#U" transform="matrix(3.54 0 0 3.54 466.3 322.0)" fill="#707070"/><use href="#H" transform="matrix(2.76 0 0 2.76 353.1 293.1)" fill="#989898"/><use href="#H" transform="matrix(3.27 0 0 3.27 313.6 269.7)" fill="#838383"/><use href="#D" transform="matrix(3.49 0 0 3.49 478.8 257.8)" fill="#adadad"/><use href="#H" transform="matrix(2.27 0 0 2.27 297.9 287.5)" fill="#6e6e6e"/><use href="#H" transform="matrix(2.86 0 0 2.86 470.1 282.0)" fill="#9f9f9f"/><use href="#H" transform="matrix(3.28 0 0 3.28 418.7 283.0)" fill="#b0b0b0"/><use href="#H" transform="matrix(2.88 0 0 2.88 342.6 291.8)" fill="#969696"/><use href="#U" transform="matrix(3.21 0 0 3.21 473.9 254.2)" fill="#888888"/><use href="#D" transform="matrix(2.55 0 0 2.55 366.4 287.7)" fill="#878787"/><use href="#H" transform="matrix(2.36 0 0 2.36 415.5 294.8)" fill="#8b8b8b"/><use href="#D" transform="matrix(3.18 0 0 3.18 317.3 287.9)" fill="#9e9e9e"/><use href="#U" transform="matrix(3.09 0 0 3.09 384.9 307.7)" fill="#ababab"/><use href="#H" transform="matrix(2.76 0 0 2.76 494.2 311.4)" fill="#a9a9a9"/><use href="#H" transform="matrix(2.61 0 0 2.61 368.2 248.2)" fill="#929292"/><use href="#U" transform="matrix(2.57 0 0 2.57 470.9 296.9)" fill="#b5b5b5"/><use href="#H" transform="matrix(3.45 0 0 3.45 381.6 291.6)" fill="#6a6a6a"/><use href="#H" transform="matrix(2.94 0 0 2.94 328.2 320.0)" fill="#9f9f9f"/><use href="#D" transform="matrix(3.32 0 0 3.32 313.4 272.4)" fill="#838383"/><use href="#H" transform="matrix(3.21 0 0 3.21 310.5 292.2)" fill="#afafaf"/><use href="#D" transform="matrix(3.14 0 0 3.14 279.5 250.9)" fill="#c3c3c3"/><use href="#U" transform="matrix(2.76 0 0 2.76 406.0 259.8)" fill="#c2c2c2"/><use href="#U" transform="matrix(2.40 0 0 2.40 447.2 321.6)" fill="#d9d9d9"/><use href="#H" transform="matrix(2.77 0 0 2.77 415.6 281.0)" fill="#e0e0e0"/><use href="#H" transform="matrix(3.10 0 0 3.10 298.4 297.9)" fill="#c4c4c4"/><use href="#H" transform="matrix(2.36 0 0 2.36 297.3 272.6)" fill="#939393"/><use href="#D" transform="matrix(2.76 0 0 2.76 290.8 302.3)" fill="#b9b9b9"/><use href="#H" transform="matrix(2.92 0 0 2.92 400.4 258.2)" fill="#707070"/><use href="#H" transform="matrix(2.83 0 0 2.83 373.8 278.3)" fill="#9b9b9b"/><use href="#H" transform="matrix(2.78 0 0 2.78 469.1 307.9)" fill="#acacac"/><use href="#H" transform="matrix(3.00 0 0 3.00 444.0 303.3)" fill="#858585"/><use href="#U" transform="matrix(2.80 0 0 2.80 332.6 307.4)" fill="#bcbcbc"/><use href="#H" transform="matrix(3.47 0 0 3.47 356.8 273.0)" fill="#7f7f7f"/><use href="#H" transform="matrix(3.35 0 0 3.35 459.6 268.6)" fill="#b0b0b0"/><use href="#U" transform="matrix(2.58 0 0 2.58 486.4 253.9)" fill="#aeaeae"/><use href="#H" transform="matrix(3.31 0 0 3.31 483.2 282.7)" fill="#e4e4e4"/><use href="#H" transform="matrix(2.31 0 0 2.31 358.9 287.0)" fill="#c7c7c7"/><use href="#D" transform="matrix(2.48 0 0 2.48 393.9 317.7)" fill="#aaaaaa"/><use href="#D" transform="matrix(2.76 0 0 2.76 394.4 318.9)" fill="#737373"/><use href="#U" transform="matrix(3.33 0 0 3.33 439.8 258.0)" fill="#949494"/><use href="#H" transform="matrix(3.11 0 0 3.11 454.4 248.4)" fill="#818181"/><use href="#D" transform="matrix(2.59 0 0 2.59 398.5 317.5)" fill="#717171"/><use href="#H" transform="matrix(3.27 0 0 3.27 476.2 313.7)" fill="#646464"/><use href="#U" transform="matrix(2.79 0 0 2.79 476.7 307.6)" fill="#6b6b6b"/><use href="#H" transform="matrix(2.23 0 0 2.23 437.7 267.7)" fill="#cfcfcf"/><use href="#U" transform="matrix(3.02 0 0 3.02 488.0 288.9)" fill="#8d8d8d"/><use href="#H" transform="matrix(3.01 0 0 3.01 430.3 316.2)" fill="#888888"/><use href="#D" transform="matrix(2.46 0 0 2.46 330.4 271.1)" fill="#666666"/><use href="#H" transform="matrix(3.36 0 0 3.36 471.8 290.3)" fill="#9e9e9e"/><use href="#H" transform="matrix(3.31 0 0 3.31 358.7 286.7)" fill="#e6e6e6"/><use href="#U" transform="matrix(2.32 0 0 2.32 368.5 295.5)" fill="#a0a0a0"/><use href="#H" transform="matrix(2.55 0 0 2.55 377.8 306.6)" fill="#9c9c9c"/><use href="#U" transform="matrix(2.50 0 0 2.50 326.4 297.6)" fill="#7b7b7b"/><use href="#H" transform="matrix(2.75 0 0 2.75 429.8 295.2)" fill="#a5a5a5"/><use href="#H" transform="matrix(2.56 0 0 2.56 390.3 283.5)" fill="#d4d4d4"/><use href="#H" transform="matrix(2.87 0 0 2.87 475.4 290.7)" fill="#ababab"/><use href="#H" transform="matrix(2.88 0 0 2.88 317.1 274.8)" fill="#686868"/><use href="#H" transform="matrix(2.79 0 0 2.79 301.1 273.4)" fill="#dedede"/><use href="#H" transform="matrix(3.42 0 0 3.42 352.2 275.2)" fill="#a7a7a7"/><use href="#H" transform="matrix(3.30 0 0 3.30 466.5 249.5)" fill="#868686"/><use href="#H" transform="matrix(2.77 0 0 2.77 413.8 290.9)" fill="#acacac"/><use href="#H" transform="matrix(3.24 0 0 3.24 347.6 288.9)" fill="#676767"/><use href="#D" transform="matrix(3.14 0 0 3.14 450.3 258.9)" fill="#999999"/><use href="#H" transform="matrix(2.81 0 0 2.81 306.5 320.3)" fill="#b0b0b0"/><use href="#U" transform="matrix(2.92 0 0 2.92 305.0 313.3)" fill="#666666"/><use href="#U" transform="matrix(2.91 0 0 2.91 298.6 289.4)" fill="#8d8d8d"/><use href="#U" transform="matrix(2.23 0 0 2.23 480.8 268.6)" fill="#868686"/><use href="#H" transform="matrix(2.66 0 0 2.66 455.5 261.2)" fill="#9a9a9a"/><use href="#U" transform="matrix(3.40 0 0 3.40 370.8 321.7)" fill="#919191"/><use href="#H" transform="matrix(3.06 0 0 3.06 406.5 265.5)" fill="#c9c9c9"/><use href="#D" transform="matrix(3.44 0 0 3.44 356.0 252.8)" fill="#c0c0c0"/><use href="#H" transform="matrix(3.59 0 0 3.59 463.6 288.9)" fill="#9b9b9b"/><use href="#D" transform="matrix(3.00 0 0 3.00 290.0 275.8)" fill="#c2c2c2"/><use href="#H" transform="matrix(2.62 0 0 2.62 284.7 271.6)" fill="#a1a1a1"/><use href="#H" transform="matrix(3.12 0 0 3.12 405.8 248.6)" fill="#515151"/><use href="#H" transform="matrix(3.37 0 0 3.37 371.6 307.4)" fill="#b0b0b0"/><use href="#D" transform="matrix(3.14 0 0 3.14 278.9 265.1)" fill="#979797"/><use href="#D" transform="matrix(2.49 0 0 2.49 423.9 259.1)" fill="#989898"/><use href="#H" transform="matrix(2.89 0 0 2.89 289.6 314.7)" fill="#a8a8a8"/><use href="#H" transform="matrix(3.03 0 0 3.03 379.7 279.7)" fill="#787878"/><use href="#H" transform="matrix(3.10 0 0 3.10 493.3 290.0)" fill="#909090"/><use href="#D" transform="matrix(3.08 0 0 3.08 341.2 294.4)" fill="#ececec"/><use href="#D" transform="matrix(2.70 0 0 2.70 293.4 260.5)" fill="#949494"/><use href="#H" transform="matrix(2.83 0 0 2.83 329.9 289.5)" fill="#8c8c8c"/><use href="#U" transform="matrix(2.38 0 0 2.38 368.8 321.4)" fill="#d0d0d0"/><use href="#U" transform="matrix(3.21 0 0 3.21 460.8 269.1)" fill="#a1a1a1"/><use href="#H" transform="matrix(2.33 0 0 2.33 430.9 287.4)" fill="#c9c9c9"/><use href="#H" transform="matrix(2.79 0 0 2.79 322.3 267.0)" fill="#717171"/><use href="#H" transform="matrix(2.67 0 0 2.67 274.0 322.2)" fill="#e1e1e1"/><use href="#H" transform="matrix(3.12 0 0 3.12 465.1 301.9)" fill="#c1c1c1"/><use href="#H" transform="matrix(2.40 0 0 2.40 299.7 276.8)" fill="#6a6a6a"/><use href="#U" transform="matrix(3.48 0 0 3.48 435.1 256.8)" fill="#a7a7a7"/><use href="#H" transform="matrix(2.99 0 0 2.99 385.5 266.7)" fill="#7b7b7b"/><use href="#H" transform="matrix(2.81 0 0 2.81 489.8 274.4)" fill="#8a8a8a"/><use href="#H" transform="matrix(2.90 0 0 2.90 319.9 264.5)" fill="#d8d8d8"/><use href="#H" transform="matrix(2.63 0 0 2.63 380.0 251.8)" fill="#989898"/><use href="#D" transform="matrix(3.12 0 0 3.12 367.9 278.6)" fill="#898989"/><use href="#H" transform="matrix(3.08 0 0 3.08 369.7 259.1)" fill="#c9c9c9"/><use href="#H" transform="matrix(2.83 0 0 2.83 291.2 307.7)" fill="#b5b5b5"/><use href="#H" transform="matrix(3.33 0 0 3.33 477.4 319.5)" fill="#8b8b8b"/><use href="#H" transform="matrix(3.10 0 0 3.10 332.0 261.7)" fill="#727272"/><use href="#U" transform="matrix(2.67 0 0 2.67 272.8 322.6)" fill="#666666"/><use href="#D" transform="matrix(2.66 0 0 2.66 440.9 288.9)" fill="#9e9e9e"/><use href="#D" transform="matrix(2.50 0 0 2.50 478.7 256.5)" fill="#bdbdbd"/><use href="#U" transform="matrix(3.21 0 0 3.21 449.8 247.3)" fill="#aaaaaa"/><use href="#H" transform="matrix(2.38 0 0 2.38 476.6 321.4)" fill="#626262"/><use href="#H" transform="matrix(3.33 0 0 3.33 387.0 313.2)" fill="#808080"/><use href="#H" transform="matrix(2.40 0 0 2.40 333.4 316.4)" fill="#868686"/><use href="#D" transform="matrix(3.22 0 0 3.22 486.9 275.3)" fill="#a3a3a3"/><use href="#U" transform="matrix(2.98 0 0 2.98 381.1 249.3)" fill="#c7c7c7"/><use href="#U" transform="matrix(2.35 0 0 2.35 398.9 253.3)" fill="#7b7b7b"/><use href="#U" transform="matrix(3.54 0 0 3.54 323.0 285.0)" fill="#a6a6a6"/><use href="#H" transform="matrix(3.01 0 0 3.01 312.0 275.1)" fill="#939393"/><use href="#H" transform="matrix(2.21 0 0 2.21 390.1 316.9)" fill="#bebebe"/><use href="#H" transform="matrix(2.66 0 0 2.66 336.6 267.5)" fill="#a1a1a1"/><use href="#U" transform="matrix(2.96 0 0 2.96 428.3 308.2)" fill="#8d8d8d"/><use href="#U" transform="matrix(2.24 0 0 2.24 432.9 247.0)" fill="#b9b9b9"/><use href="#H" transform="matrix(2.94 0 0 2.94 376.2 254.7)" fill="#747474"/><use href="#U" transform="matrix(2.83 0 0 2.83 344.2 316.4)" fill="#b3b3b3"/><use href="#H" transform="matrix(2.24 0 0 2.24 321.4 252.0)" fill="#767676"/><use href="#H" transform="matrix(2.84 0 0 2.84 279.4 301.4)" fill="#a6a6a6"/><use href="#H" transform="matrix(2.78 0 0 2.78 476.4 277.3)" fill="#c3c3c3"/><use href="#U" transform="matrix(3.38 0 0 3.38 316.6 318.0)" fill="#a9a9a9"/><use href="#U" transform="matrix(2.32 0 0 2.32 350.9 263.8)" fill="#b4b4b4"/><use href="#H" transform="matrix(2.23 0 0 2.23 321.8 275.5)" fill="#c8c8c8"/><use href="#D" transform="matrix(3.31 0 0 3.31 386.3 279.1)" fill="#777777"/><use href="#H" transform="matrix(3.58 0 0 3.58 287.5 280.0)" fill="#5b5b5b"/><use href="#U" transform="matrix(3.56 0 0 3.56 491.7 254.8)" fill="#e2e2e2"/><use href="#H" transform="matrix(2.27 0 0 2.27 292.1 292.6)" fill="#999999"/><use href="#H" transform="matrix(2.36 0 0 2.36 439.9 306.3)" fill="#a7a7a7"/><use href="#D" transform="matrix(3.39 0 0 3.39 476.0 302.9)" fill="#8c8c8c"/><use href="#U" transform="matrix(2.29 0 0 2.29 376.9 265.1)" fill="#a5a5a5"/><use href="#H" transform="matrix(3.05 0 0 3.05 334.9 315.3)" fill="#9a9a9a"/><use href="#H" transform="matrix(3.05 0 0 3.05 422.8 296.5)" fill="#a4a4a4"/><use href="#D" transform="matrix(3.13 0 0 3.13 478.2 315.0)" fill="#8f8f8f"/><use href="#H" transform="matrix(2.99 0 0 2.99 377.5 295.1)" fill="#9d9d9d"/><use href="#H" transform="matrix(2.48 0 0 2.48 470.9 304.3)" fill="#8f8f8f"/><use href="#D" transform="matrix(2.77 0 0 2.77 456.5 270.3)" fill="#9f9f9f"/><use href="#H" transform="matrix(3.28 0 0 3.28 298.7 316.7)" fill="#858585"/><use href="#H" transform="matrix(3.33 0 0 3.33 382.3 275.4)" fill="#a6a6a6"/><use href="#H" transform="matrix(2.23 0 0 2.23 291.2 309.5)" fill="#cfcfcf"/><use href="#D" transform="matrix(2.68 0 0 2.68 290.6 294.5)" fill="#979797"/><use href="#H" transform="matrix(2.84 0 0 2.84 455.6 278.5)" fill="#bebebe"/><use href="#H" transform="matrix(3.58 0 0 3.58 390.3 253.8)" fill="#949494"/><use href="#U" transform="matrix(2.46 0 0 2.46 457.7 250.7)" fill="#606060"/><use href="#H" transform="matrix(2.36 0 0 2.36 409.5 274.0)" fill="#cecece"/><use href="#D" transform="matrix(3.57 0 0 3.57 288.9 282.5)" fill="#e3e3e3"/><use href="#H" transform="matrix(3.51 0 0 3.51 286.1 278.0)" fill="#6a6a6a"/><use href="#H" transform="matrix(3.12 0 0 3.12 377.0 251.6)" fill="#d4d4d4"/><use href="#H" transform="matrix(2.30 0 0 2.30 394.8 254.6)" fill="#696969"/><use href="#U" transform="matrix(3.35 0 0 3.35 294.9 283.1)" fill="#808080"/><use href="#U" transform="matrix(3.26 0 0 3.26 410.4 297.4)" fill="#8e8e8e"/><use href="#D" transform="matrix(2.23 0 0 2.23 454.6 320.2)" fill="#6a6a6a"/><use href="#H" transform="matrix(2.81 0 0 2.81 467.9 251.0)" fill="#9a9a9a"/><use href="#D" transform="matrix(2.42 0 0 2.42 366.9 305.2)" fill="#989898"/><use href="#U" transform="matrix(3.40 0 0 3.40 376.4 261.1)" fill="#919191"/><use href="#U" transform="matrix(2.37 0 0 2.37 342.2 309.9)" fill="#afafaf"/><use href="#H" transform="matrix(3.57 0 0 3.57 412.0 278.5)" fill="#e2e2e2"/><use href="#H" transform="matrix(3.06 0 0 3.06 321.6 253.8)" fill="#777777"/><use href="#H" transform="matrix(2.32 0 0 2.32 443.8 275.9)" fill="#bababa"/><use href="#H" transform="matrix(2.44 0 0 2.44 301.9 319.6)" fill="#7e7e7e"/><use href="#H" transform="matrix(2.42 0 0 2.42 293.6 254.9)" fill="#a5a5a5"/><use href="#H" transform="matrix(2.22 0 0 2.22 283.4 293.1)" fill="#b0b0b0"/><use href="#U" transform="matrix(3.15 0 0 3.15 355.5 293.0)" fill="#767676"/><use href="#H" transform="matrix(3.39 0 0 3.39 370.2 286.1)" fill="#5f5f5f"/><use href="#H" transform="matrix(2.35 0 0 2.35 477.4 310.1)" fill="#7c7c7c"/><use href="#H" transform="matrix(2.82 0 0 2.82 364.3 306.9)" fill="#7d7d7d"/><use href="#U" transform="matrix(2.73 0 0 2.73 449.2 281.0)" fill="#777777"/><use href="#H" transform="matrix(3.04 0 0 3.04 410.2 257.3)" fill="#717171"/><use href="#U" transform="matrix(3.48 0 0 3.48 378.2 306.2)" fill="#c6c6c6"/><use href="#D" transform="matrix(2.51 0 0 2.51 405.0 273.0)" fill="#b5b5b5"/><use href="#U" transform="matrix(2.29 0 0 2.29 314.5 271.0)" fill="#999999"/><use href="#H" transform="matrix(3.30 0 0 3.30 417.1 263.9)" fill="#cecece"/><use href="#H" transform="matrix(2.30 0 0 2.30 369.6 300.4)" fill="#a4a4a4"/><use href="#H" transform="matrix(3.30 0 0 3.30 278.0 262.4)" fill="#7b7b7b"/><use href="#H" transform="matrix(3.43 0 0 3.43 366.0 276.6)" fill="#949494"/><use href="#H" transform="matrix(2.67 0 0 2.67 395.7 254.7)" fill="#dedede"/><use href="#H" transform="matrix(2.61 0 0 2.61 333.2 293.5)" fill="#cacaca"/><use href="#D" transform="matrix(3.31 0 0 3.31 404.4 255.4)" fill="#a5a5a5"/><use href="#H" transform="matrix(3.27 0 0 3.27 476.6 260.3)" fill="#959595"/><use href="#H" transform="matrix(3.39 0 0 3.39 307.3 282.0)" fill="#a5a5a5"/><use href="#D" transform="matrix(2.66 0 0 2.66 476.0 287.0)" fill="#979797"/><use href="#H" transform="matrix(3.53 0 0 3.53 464.6 290.7)" fill="#a1a1a1"/><use href="#U" transform="matrix(2.56 0 0 2.56 409.4 269.4)" fill="#565656"/><use href="#U" transform="matrix(2.27 0 0 2.27 285.5 259.7)" fill="#d6d6d6"/><use href="#H" transform="matrix(2.81 0 0 2.81 445.9 288.2)" fill="#8f8f8f"/><use href="#H" transform="matrix(2.93 0 0 2.93 284.0 271.2)" fill="#7b7b7b"/><use href="#U" transform="matrix(3.24 0 0 3.24 493.2 302.3)" fill="#9f9f9f"/><use href="#H" transform="matrix(2.26 0 0 2.26 449.5 285.0)" fill="#7c7c7c"/><use href="#H" transform="matrix(2.71 0 0 2.71 326.3 261.7)" fill="#d1d1d1"/><use href="#H" transform="matrix(3.18 0 0 3.18 309.4 303.1)" fill="#787878"/><use href="#U" transform="matrix(3.09 0 0 3.09 450.3 287.9)" fill="#c9c9c9"/><use href="#U" transform="matrix(2.64 0 0 2.64 342.9 309.2)" fill="#727272"/><use href="#H" transform="matrix(2.29 0 0 2.29 344.2 298.8)" fill="#8e8e8e"/><use href="#H" transform="matrix(2.58 0 0 2.58 362.7 291.6)" fill="#888888"/><use href="#H" transform="matrix(2.46 0 0 2.46 441.2 255.8)" fill="#a1a1a1"/><use href="#H" transform="matrix(2.29 0 0 2.29 317.2 261.1)" fill="#b3b3b3"/><use href="#H" transform="matrix(2.94 0 0 2.94 442.5 281.6)" fill="#808080"/><use href="#U" transform="matrix(3.23 0 0 3.23 287.5 275.4)" fill="#ababab"/><use href="#H" transform="matrix(3.20 0 0 3.20 466.5 265.7)" fill="#757575"/><use href="#D" transform="matrix(2.93 0 0 2.93 465.6 316.9)" fill="#919191"/><use href="#H" transform="matrix(2.60 0 0 2.60 461.7 267.4)" fill="#aeaeae"/><use href="#U" transform="matrix(2.40 0 0 2.40 427.1 271.5)" fill="#cecece"/><use href="#H" transform="matrix(3.09 0 0 3.09 405.2 264.2)" fill="#888888"/><use href="#H" transform="matrix(2.86 0 0 2.86 347.3 258.4)" fill="#949494"/><use href="#U" transform="matrix(3.23 0 0 3.23 360.1 295.2)" fill="#cacaca"/><use href="#H" transform="matrix(2.91 0 0 2.91 423.7 262.2)" fill="#999999"/><use href="#H" transform="matrix(3.02 0 0 3.02 438.1 267.9)" fill="#6d6d6d"/><use href="#H" transform="matrix(3.20 0 0 3.20 291.3 275.2)" fill="#a6a6a6"/><use href="#D" transform="matrix(2.87 0 0 2.87 332.8 252.6)" fill="#818181"/><use href="#D" transform="matrix(2.96 0 0 2.96 393.2 250.7)" fill="#acacac"/><use href="#H" transform="matrix(2.52 0 0 2.52 456.7 292.2)" fill="#c7c7c7"/><use href="#H" transform="matrix(3.54 0 0 3.54 332.8 249.8)" fill="#8d8d8d"/><use href="#D" transform="matrix(2.71 0 0 2.71 420.0 268.0)" fill="#898989"/><use href="#D" transform="matrix(3.17 0 0 3.17 353.4 310.6)" fill="#c4c4c4"/><use href="#U" transform="matrix(3.48 0 0 3.48 295.6 312.6)" fill="#969696"/><use href="#U" transform="matrix(2.67 0 0 2.67 434.8 315.1)" fill="#bdbdbd"/><use href="#D" transform="matrix(3.02 0 0 3.02 421.2 280.0)" fill="#939393"/><use href="#D" transform="matrix(3.54 0 0 3.54 343.9 300.8)" fill="#e5e5e5"/><use href="#D" transform="matrix(3.55 0 0 3.55 367.8 257.5)" fill="#646464"/><use href="#H" transform="matrix(3.11 0 0 3.11 296.8 278.4)" fill="#757575"/><use href="#H" transform="matrix(2.67 0 0 2.67 456.6 259.0)" fill="#868686"/><use href="#U" transform="matrix(2.29 0 0 2.29 333.2 292.6)" fill="#b6b6b6"/><use href="#H" transform="matrix(2.40 0 0 2.40 298.3 254.5)" fill="#9b9b9b"/><use href="#H" transform="matrix(3.60 0 0 3.60 278.0 279.8)" fill="#969696"/><use href="#H" transform="matrix(3.01 0 0 3.01 375.2 304.4)" fill="#939393"/><use href="#H" transform="matrix(3.38 0 0 3.38 416.0 258.9)" fill="#6d6d6d"/><use href="#U" transform="matrix(2.38 0 0 2.38 477.7 322.5)" fill="#7e7e7e"/><use href="#H" transform="matrix(3.38 0 0 3.38 277.9 302.5)" fill="#c0c0c0"/><use href="#H" transform="matrix(2.31 0 0 2.31 328.8 309.0)" fill="#757575"/><use href="#H" transform="matrix(2.22 0 0 2.22 381.1 288.4)" fill="#a9a9a9"/><use href="#H" transform="matrix(3.37 0 0 3.37 473.8 276.3)" fill="#b9b9b9"/><use href="#D" transform="matrix(2.97 0 0 2.97 290.3 307.1)" fill="#888888"/><use href="#H" transform="matrix(2.93 0 0 2.93 306.3 286.7)" fill="#979797"/><use href="#D" transform="matrix(2.98 0 0 2.98 310.2 316.2)" fill="#727272"/><use href="#D" transform="matrix(3.24 0 0 3.24 332.6 320.4)" fill="#c6c6c6"/><use href="#H" transform="matrix(3.43 0 0 3.43 474.8 252.5)" fill="#d9d9d9"/><use href="#D" transform="matrix(3.12 0 0 3.12 357.9 287.9)" fill="#838383"/><use href="#D" transform="matrix(2.91 0 0 2.91 394.4 269.0)" fill="#d1d1d1"/><use href="#H" transform="matrix(3.16 0 0 3.16 411.2 252.8)" fill="#d5d5d5"/><use href="#D" transform="matrix(3.22 0 0 3.22 481.4 304.5)" fill="#9e9e9e"/><use href="#H" transform="matrix(2.38 0 0 2.38 282.9 294.8)" fill="#c8c8c8"/><use href="#U" transform="matrix(2.70 0 0 2.70 392.5 318.8)" fill="#c1c1c1"/><use href="#U" transform="matrix(2.55 0 0 2.55 323.6 273.5)" fill="#8a8a8a"/><use href="#H" transform="matrix(2.36 0 0 2.36 302.5 304.5)" fill="#c2c2c2"/><use href="#H" transform="matrix(3.56 0 0 3.56 468.6 276.7)" fill="#969696"/><use href="#H" transform="matrix(3.17 0 0 3.17 305.8 250.5)" fill="#838383"/><use href="#H" transform="matrix(2.75 0 0 2.75 478.1 260.4)" fill="#acacac"/><use href="#U" transform="matrix(3.38 0 0 3.38 292.4 309.0)" fill="#b6b6b6"/><use href="#H" transform="matrix(3.32 0 0 3.32 451.8 293.6)" fill="#b7b7b7"/><use href="#D" transform="matrix(3.56 0 0 3.56 274.6 265.1)" fill="#d3d3d3"/><use href="#H" transform="matrix(2.31 0 0 2.31 343.2 310.3)" fill="#c0c0c0"/><use href="#H" transform="matrix(2.93 0 0 2.93 375.2 319.3)" fill="#858585"/><use href="#U" transform="matrix(3.25 0 0 3.25 418.7 277.4)" fill="#a1a1a1"/><use href="#H" transform="matrix(2.85 0 0 2.85 275.1 252.4)" fill="#939393"/><use href="#H" transform="matrix(2.71 0 0 2.71 493.7 272.6)" fill="#a2a2a2"/><use href="#H" transform="matrix(3.44 0 0 3.44 305.5 249.5)" fill="#919191"/><use href="#U" transform="matrix(3.51 0 0 3.51 442.3 317.7)" fill="#888888"/><use href="#H" transform="matrix(3.49 0 0 3.49 411.5 284.1)" fill="#a3a3a3"/><use href="#U" transform="matrix(2.39 0 0 2.39 295.5 274.2)" fill="#b5b5b5"/><use href="#U" transform="matrix(3.37 0 0 3.37 481.6 287.3)" fill="#d3d3d3"/><use href="#D" transform="matrix(2.43 0 0 2.43 303.5 282.8)" fill="#afafaf"/><use href="#D" transform="matrix(3.23 0 0 3.23 419.7 292.0)" fill="#979797"/><use href="#H" transform="matrix(3.00 0 0 3.00 443.2 285.4)" fill="#c0c0c0"/><use href="#H" transform="matrix(2.32 0 0 2.32 441.8 299.0)" fill="#c0c0c0"/><use href="#H" transform="matrix(3.41 0 0 3.41 384.2 316.8)" fill="#a1a1a1"/><use href="#D" transform="matrix(2.86 0 0 2.86 319.6 272.7)" fill="#e0e0e0"/><use href="#H" transform="matrix(3.32 0 0 3.32 475.0 250.1)" fill="#656565"/><use href="#D" transform="matrix(2.34 0 0 2.34 390.6 262.5)" fill="#bbbbbb"/><use href="#H" transform="matrix(3.44 0 0 3.44 419.4 301.1)" fill="#b3b3b3"/><use href="#H" transform="matrix(2.72 0 0 2.72 300.7 261.4)" fill="#aeaeae"/><use href="#H" transform="matrix(2.58 0 0 2.58 442.0 311.6)" fill="#cdcdcd"/><use href="#H" transform="matrix(3.08 0 0 3.08 467.7 257.7)" fill="#a5a5a5"/><use href="#D" transform="matrix(2.39 0 0 2.39 445.1 309.1)" fill="#b5b5b5"/><use href="#H" transform="matrix(2.85 0 0 2.85 485.7 253.3)" fill="#e2e2e2"/><use href="#D" transform="matrix(3.46 0 0 3.46 484.5 253.1)" fill="#c1c1c1"/><use href="#H" transform="matrix(3.08 0 0 3.08 334.2 321.9)" fill="#666666"/><use href="#H" transform="matrix(3.19 0 0 3.19 327.6 316.7)" fill="#bebebe"/><use href="#H" transform="matrix(2.20 0 0 2.20 491.3 270.1)" fill="#b7b7b7"/><use href="#D" transform="matrix(3.32 0 0 3.32 358.6 315.8)" fill="#a4a4a4"/><use href="#H" transform="matrix(3.32 0 0 3.32 372.7 279.4)" fill="#797979"/><use href="#H" transform="matrix(2.33 0 0 2.33 480.9 256.0)" fill="#bbbbbb"/><use href="#U" transform="matrix(3.21 0 0 3.21 475.8 302.8)" fill="#626262"/><use href="#U" transform="matrix(3.51 0 0 3.51 361.0 293.0)" fill="#c5c5c5"/><use href="#H" transform="matrix(2.68 0 0 2.68 418.0 287.7)" fill="#969696"/><use href="#D" transform="matrix(2.96 0 0 2.96 398.5 305.2)" fill="#9e9e9e"/><use href="#H" transform="matrix(2.48 0 0 2.48 390.2 257.8)" fill="#c9c9c9"/><use href="#H" transform="matrix(2.66 0 0 2.66 291.0 284.8)" fill="#d1d1d1"/><use href="#U" transform="matrix(2.74 0 0 2.74 446.2 299.1)" fill="#7e7e7e"/><use href="#H" transform="matrix(2.92 0 0 2.92 357.1 321.5)" fill="#8b8b8b"/><use href="#U" transform="matrix(2.28 0 0 2.28 472.8 298.0)" fill="#6c6c6c"/><use href="#D" transform="matrix(2.97 0 0 2.97 430.8 312.7)" fill="#dddddd"/><use href="#D" transform="matrix(2.71 0 0 2.71 406.9 278.1)" fill="#828282"/><use href="#H" transform="matrix(3.11 0 0 3.11 485.4 287.0)" fill="#a4a4a4"/><use href="#U" transform="matrix(2.21 0 0 2.21 430.2 300.0)" fill="#e1e1e1"/><use href="#D" transform="matrix(3.09 0 0 3.09 276.2 305.6)" fill="#595959"/><use href="#U" transform="matrix(3.23 0 0 3.23 405.8 250.0)" fill="#afafaf"/><use href="#H" transform="matrix(2.78 0 0 2.78 377.7 316.9)" fill="#575757"/><use href="#D" transform="matrix(2.53 0 0 2.53 396.5 269.1)" fill="#707070"/><use href="#D" transform="matrix(2.70 0 0 2.70 470.1 317.6)" fill="#9d9d9d"/><use href="#H" transform="matrix(2.94 0 0 2.94 413.3 269.9)" fill="#bdbdbd"/><use href="#U" transform="matrix(3.19 0 0 3.19 395.8 274.1)" fill="#949494"/><use href="#D" transform="matrix(3.56 0 0 3.56 426.2 290.2)" fill="#7c7c7c"/><use href="#U" transform="matrix(2.59 0 0 2.59 393.6 299.0)" fill="#808080"/><use href="#H" transform="matrix(2.22 0 0 2.22 331.8 312.1)" fill="#7f7f7f"/><use href="#D" transform="matrix(2.39 0 0 2.39 420.6 262.3)" fill="#afafaf"/><use href="#U" transform="matrix(3.25 0 0 3.25 494.4 318.6)" fill="#6f6f6f"/><use href="#D" transform="matrix(2.23 0 0 2.23 369.6 287.4)" fill="#5c5c5c"/><use href="#U" transform="matrix(3.59 0 0 3.59 404.4 322.2)" fill="#939393"/><use href="#D" transform="matrix(2.32 0 0 2.32 467.1 317.8)" fill="#c4c4c4"/><use href="#U" transform="matrix(2.74 0 0 2.74 487.8 293.0)" fill="#dddddd"/><use href="#D" transform="matrix(2.84 0 0 2.84 441.0 282.9)" fill="#7d7d7d"/><use href="#H" transform="matrix(3.59 0 0 3.59 465.2 313.3)" fill="#afafaf"/><use href="#U" transform="matrix(3.08 0 0 3.08 451.8 266.5)" fill="#8a8a8a"/><use href="#D" transform="matrix(3.17 0 0 3.17 340.1 320.1)" fill="#a0a0a0"/><use href="#D" transform="matrix(3.41 0 0 3.41 351.3 260.1)" fill="#a6a6a6"/><use href="#D" transform="matrix(2.49 0 0 2.49 337.6 282.8)" fill="#818181"/><use href="#U" transform="matrix(2.40 0 0 2.40 356.3 303.9)" fill="#707070"/><use href="#H" transform="matrix(3.36 0 0 3.36 468.2 300.5)" fill="#6f6f6f"/><use href="#H" transform="matrix(2.44 0 0 2.44 362.1 306.6)" fill="#8a8a8a"/><use href="#H" transform="matrix(3.50 0 0 3.50 430.5 311.7)" fill="#868686"/><use href="#U" transform="matrix(2.64 0 0 2.64 361.7 249.0)" fill="#767676"/><use href="#H" transform="matrix(3.35 0 0 3.35 377.8 266.1)" fill="#bdbdbd"/><use href="#H" transform="matrix(3.24 0 0 3.24 395.4 281.9)" fill="#b8b8b8"/><use href="#U" transform="matrix(2.83 0 0 2.83 312.0 268.0)" fill="#d3d3d3"/><use href="#U" transform="matrix(2.81 0 0 2.81 408.1 272.4)" fill="#8d8d8d"/><use href="#H" transform="matrix(2.55 0 0 2.55 442.5 322.2)" fill="#9e9e9e"/><use href="#H" transform="matrix(3.55 0 0 3.55 465.2 273.3)" fill="#868686"/><use href="#U" transform="matrix(2.75 0 0 2.75 481.4 277.6)" fill="#969696"/><use href="#U" transform="matrix(2.36 0 0 2.36 466.4 292.0)" fill="#a5a5a5"/><use href="#H" transform="matrix(2.28 0 0 2.28 316.3 272.1)" fill="#a9a9a9"/><use href="#H" transform="matrix(2.70 0 0 2.70 362.0 303.0)" fill="#bbbbbb"/><use href="#H" transform="matrix(2.29 0 0 2.29 281.3 298.2)" fill="#a6a6a6"/><use href="#H" transform="matrix(2.91 0 0 2.91 285.5 296.2)" fill="#909090"/><use href="#H" transform="matrix(3.16 0 0 3.16 378.8 265.6)" fill="#868686"/><use href="#H" transform="matrix(3.29 0 0 3.29 318.1 277.2)" fill="#9a9a9a"/><use href="#D" transform="matrix(2.88 0 0 2.88 288.5 291.3)" fill="#9d9d9d"/><use href="#U" transform="matrix(2.90 0 0 2.90 494.5 287.6)" fill="#b9b9b9"/><use href="#H" transform="matrix(2.49 0 0 2.49 447.9 280.3)" fill="#949494"/><use href="#H" transform="matrix(2.47 0 0 2.47 463.7 251.6)" fill="#929292"/><use href="#D" transform="matrix(2.54 0 0 2.54 379.3 273.2)" fill="#9a9a9a"/><use href="#D" transform="matrix(2.26 0 0 2.26 370.4 247.7)" fill="#b6b6b6"/><use href="#H" transform="matrix(2.65 0 0 2.65 451.6 314.4)" fill="#999999"/><use href="#U" transform="matrix(3.55 0 0 3.55 307.5 281.1)" fill="#949494"/><use href="#H" transform="matrix(2.56 0 0 2.56 366.5 272.1)" fill="#888888"/><use href="#H" transform="matrix(3.54 0 0 3.54 374.7 279.4)" fill="#c8c8c8"/><use href="#H" transform="matrix(3.33 0 0 3.33 299.9 315.5)" fill="#c3c3c3"/><use href="#H" transform="matrix(3.15 0 0 3.15 337.1 296.1)" fill="#ababab"/><use href="#D" transform="matrix(3.50 0 0 3.50 467.2 278.3)" fill="#818181"/><use href="#H" transform="matrix(3.45 0 0 3.45 378.4 312.3)" fill="#8f8f8f"/><use href="#U" transform="matrix(2.31 0 0 2.31 436.1 314.9)" fill="#b5b5b5"/><use href="#H" transform="matrix(3.10 0 0 3.10 294.3 305.4)" fill="#9f9f9f"/><use href="#D" transform="matrix(2.91 0 0 2.91 479.9 312.6)" fill="#b1b1b1"/><use href="#H" transform="matrix(2.76 0 0 2.76 403.4 252.4)" fill="#b0b0b0"/><use href="#D" transform="matrix(2.47 0 0 2.47 290.7 263.4)" fill="#9b9b9b"/><use href="#H" transform="matrix(3.10 0 0 3.10 408.3 275.9)" fill="#717171"/><use href="#D" transform="matrix(2.69 0 0 2.69 278.3 304.3)" fill="#717171"/><use href="#D" transform="matrix(2.61 0 0 2.61 315.8 256.8)" fill="#969696"/><use href="#D" transform="matrix(3.33 0 0 3.33 429.4 283.8)" fill="#8a8a8a"/><use href="#D" transform="matrix(2.61 0 0 2.61 479.3 260.3)" fill="#888888"/><use href="#H" transform="matrix(3.08 0 0 3.08 465.5 295.4)" fill="#a7a7a7"/><use href="#H" transform="matrix(3.27 0 0 3.27 398.9 272.1)" fill="#989898"/><use href="#H" transform="matrix(3.43 0 0 3.43 364.6 322.3)" fill="#808080"/><use href="#H" transform="matrix(3.07 0 0 3.07 423.4 271.6)" fill="#868686"/><use href="#H" transform="matrix(2.83 0 0 2.83 279.5 283.8)" fill="#7b7b7b"/><use href="#U" transform="matrix(2.89 0 0 2.89 394.6 253.8)" fill="#7b7b7b"/><use href="#H" transform="matrix(2.24 0 0 2.24 345.8 247.2)" fill="#c8c8c8"/><use href="#H" transform="matrix(2.28 0 0 2.28 319.6 307.0)" fill="#7e7e7e"/><use href="#U" transform="matrix(3.59 0 0 3.59 321.2 281.9)" fill="#d4d4d4"/><use href="#H" transform="matrix(3.48 0 0 3.48 400.6 295.1)" fill="#afafaf"/><use href="#D" transform="matrix(3.47 0 0 3.47 459.7 316.8)" fill="#707070"/><use href="#H" transform="matrix(2.99 0 0 2.99 447.5 249.8)" fill="#9f9f9f"/><use href="#H" transform="matrix(2.91 0 0 2.91 301.5 278.8)" fill="#777777"/><use href="#H" transform="matrix(2.21 0 0 2.21 356.2 322.2)" fill="#7a7a7a"/><use href="#D" transform="matrix(3.37 0 0 3.37 386.3 319.0)" fill="#afafaf"/><use href="#H" transform="matrix(2.61 0 0 2.61 452.4 295.9)" fill="#a7a7a7"/><use href="#D" transform="matrix(2.42 0 0 2.42 318.8 253.0)" fill="#7b7b7b"/><use href="#H" transform="matrix(3.28 0 0 3.28 473.7 320.2)" fill="#c3c3c3"/><use href="#D" transform="matrix(2.57 0 0 2.57 336.1 262.1)" fill="#5a5a5a"/><use href="#U" transform="matrix(2.66 0 0 2.66 284.4 263.6)" fill="#939393"/><use href="#H" transform="matrix(3.05 0 0 3.05 458.7 320.0)" fill="#999999"/><use href="#H" transform="matrix(3.56 0 0 3.56 372.1 302.0)" fill="#d0d0d0"/><use href="#U" transform="matrix(2.90 0 0 2.90 434.3 280.4)" fill="#575757"/><use href="#H" transform="matrix(3.57 0 0 3.57 419.9 262.6)" fill="#9a9a9a"/><use href="#U" transform="matrix(2.39 0 0 2.39 383.5 301.7)" fill="#c1c1c1"/><use href="#D" transform="matrix(3.23 0 0 3.23 280.3 295.8)" fill="#888888"/><use href="#H" transform="matrix(3.27 0 0 3.27 441.9 316.7)" fill="#929292"/><use href="#D" transform="matrix(3.57 0 0 3.57 456.9 307.7)" fill="#939393"/><use href="#H" transform="matrix(2.45 0 0 2.45 430.0 291.7)" fill="#858585"/><use href="#D" transform="matrix(2.81 0 0 2.81 274.8 263.9)" fill="#898989"/><use href="#D" transform="matrix(2.75 0 0 2.75 341.1 314.5)" fill="#b8b8b8"/><use href="#H" transform="matrix(2.97 0 0 2.97 441.2 280.5)" fill="#bfbfbf"/><use href="#D" transform="matrix(2.47 0 0 2.47 343.2 265.1)" fill="#aeaeae"/><use href="#H" transform="matrix(2.44 0 0 2.44 402.1 276.4)" fill="#acacac"/><use href="#U" transform="matrix(2.60 0 0 2.60 416.2 271.5)" fill="#d0d0d0"/><use href="#H" transform="matrix(3.42 0 0 3.42 449.8 317.0)" fill="#bfbfbf"/><use href="#U" transform="matrix(3.46 0 0 3.46 406.8 285.2)" fill="#8b8b8b"/><use href="#H" transform="matrix(2.42 0 0 2.42 329.4 248.2)" fill="#a0a0a0"/><use href="#H" transform="matrix(3.02 0 0 3.02 376.0 265.2)" fill="#bebebe"/><use href="#H" transform="matrix(2.98 0 0 2.98 395.8 261.6)" fill="#9d9d9d"/><use href="#D" transform="matrix(3.30 0 0 3.30 451.6 307.3)" fill="#b9b9b9"/><use href="#H" transform="matrix(2.97 0 0 2.97 415.5 300.6)" fill="#838383"/><use href="#D" transform="matrix(3.45 0 0 3.45 426.6 250.2)" fill="#787878"/><use href="#H" transform="matrix(2.98 0 0 2.98 469.8 311.4)" fill="#cacaca"/><use href="#H" transform="matrix(2.37 0 0 2.37 280.6 263.0)" fill="#939393"/><use href="#H" transform="matrix(3.49 0 0 3.49 300.6 258.4)" fill="#bebebe"/><use href="#H" transform="matrix(2.64 0 0 2.64 298.7 253.9)" fill="#6b6b6b"/><use href="#U" transform="matrix(2.67 0 0 2.67 392.2 319.4)" fill="#8f8f8f"/><use href="#D" transform="matrix(2.95 0 0 2.95 306.6 250.9)" fill="#cbcbcb"/><use href="#H" transform="matrix(2.75 0 0 2.75 353.5 307.6)" fill="#9f9f9f"/><use href="#D" transform="matrix(3.27 0 0 3.27 380.4 317.0)" fill="#767676"/><use href="#D" transform="matrix(2.73 0 0 2.73 347.1 250.0)" fill="#d4d4d4"/><use href="#H" transform="matrix(3.50 0 0 3.50 363.3 302.8)" fill="#959595"/><use href="#H" transform="matrix(2.35 0 0 2.35 393.2 267.6)" fill="#838383"/><use href="#H" transform="matrix(2.97 0 0 2.97 295.7 284.4)" fill="#cdcdcd"/><use href="#H" transform="matrix(3.29 0 0 3.29 460.9 257.8)" fill="#8f8f8f"/><use href="#D" transform="matrix(2.37 0 0 2.37 413.4 270.1)" fill="#a2a2a2"/><use href="#H" transform="matrix(2.94 0 0 2.94 428.9 318.5)" fill="#b1b1b1"/><use href="#D" transform="matrix(2.97 0 0 2.97 409.2 263.7)" fill="#d3d3d3"/><use href="#D" transform="matrix(2.91 0 0 2.91 354.0 295.8)" fill="#9f9f9f"/><use href="#H" transform="matrix(2.95 0 0 2.95 474.9 297.8)" fill="#7f7f7f"/><use href="#H" transform="matrix(2.79 0 0 2.79 302.6 274.1)" fill="#b2b2b2"/><use href="#D" transform="matrix(3.49 0 0 3.49 274.3 256.5)" fill="#9d9d9d"/><use href="#H" transform="matrix(2.68 0 0 2.68 361.5 308.1)" fill="#cfcfcf"/><use href="#U" transform="matrix(3.47 0 0 3.47 481.1 265.6)" fill="#cfcfcf"/><use href="#H" transform="matrix(3.36 0 0 3.36 476.1 288.7)" fill="#b5b5b5"/><use href="#U" transform="matrix(2.83 0 0 2.83 467.8 318.4)" fill="#9b9b9b"/><use href="#H" transform="matrix(2.70 0 0 2.70 417.4 247.6)" fill="#8e8e8e"/><use href="#D" transform="matrix(3.26 0 0 3.26 453.6 275.2)" fill="#cecece"/><use href="#H" transform="matrix(2.43 0 0 2.43 349.9 248.9)" fill="#c0c0c0"/><use href="#D" transform="matrix(2.23 0 0 2.23 368.4 294.0)" fill="#aaaaaa"/><use href="#U" transform="matrix(3.17 0 0 3.17 409.8 286.8)" fill="#bdbdbd"/><use href="#H" transform="matrix(2.95 0 0 2.95 318.3 255.4)" fill="#888888"/><use href="#H" transform="matrix(3.47 0 0 3.47 277.8 290.8)" fill="#666666"/><use href="#D" transform="matrix(2.50 0 0 2.50 423.8 306.9)" fill="#5c5c5c"/><use href="#H" transform="matrix(2.87 0 0 2.87 471.1 314.2)" fill="#b6b6b6"/><use href="#D" transform="matrix(3.46 0 0 3.46 487.5 318.6)" fill="#656565"/><use href="#H" transform="matrix(3.12 0 0 3.12 433.4 247.2)" fill="#7e7e7e"/><use href="#H" transform="matrix(3.55 0 0 3.55 356.7 312.3)" fill="#a4a4a4"/><use href="#H" transform="matrix(3.54 0 0 3.54 342.6 288.1)" fill="#989898"/><use href="#H" transform="matrix(2.90 0 0 2.90 373.3 262.6)" fill="#adadad"/><use href="#H" transform="matrix(3.52 0 0 3.52 365.7 293.3)" fill="#838383"/><use href="#H" transform="matrix(2.32 0 0 2.32 491.2 313.2)" fill="#d8d8d8"/><use href="#H" transform="matrix(3.34 0 0 3.34 464.5 295.0)" fill="#909090"/><use href="#H" transform="matrix(3.43 0 0 3.43 310.8 258.7)" fill="#878787"/><use href="#D" transform="matrix(2.31 0 0 2.31 293.0 278.5)" fill="#6b6b6b"/><use href="#H" transform="matrix(2.77 0 0 2.77 284.3 272.1)" fill="#787878"/><use href="#H" transform="matrix(2.99 0 0 2.99 491.1 269.3)" fill="#838383"/><use href="#D" transform="matrix(2.65 0 0 2.65 308.6 317.9)" fill="#e6e6e6"/><use href="#H" transform="matrix(2.99 0 0 2.99 295.7 310.3)" fill="#858585"/><use href="#U" transform="matrix(3.28 0 0 3.28 448.0 294.1)" fill="#b5b5b5"/><use href="#H" transform="matrix(3.36 0 0 3.36 365.8 273.0)" fill="#8c8c8c"/><use href="#H" transform="matrix(3.32 0 0 3.32 410.3 291.6)" fill="#9f9f9f"/><use href="#H" transform="matrix(2.78 0 0 2.78 463.1 300.1)" fill="#f2f2f2"/><use href="#D" transform="matrix(2.57 0 0 2.57 492.0 322.5)" fill="#959595"/><use href="#U" transform="matrix(3.42 0 0 3.42 470.4 304.4)" fill="#969696"/><use href="#H" transform="matrix(3.03 0 0 3.03 373.1 250.7)" fill="#858585"/><use href="#H" transform="matrix(2.33 0 0 2.33 277.8 270.9)" fill="#8b8b8b"/><use href="#D" transform="matrix(2.86 0 0 2.86 457.2 314.4)" fill="#a4a4a4"/><use href="#H" transform="matrix(2.39 0 0 2.39 492.3 309.5)" fill="#808080"/><use href="#H" transform="matrix(2.99 0 0 2.99 282.8 306.9)" fill="#737373"/><use href="#H" transform="matrix(2.32 0 0 2.32 463.6 294.8)" fill="#cccccc"/><use href="#H" transform="matrix(2.80 0 0 2.80 370.3 258.7)" fill="#cacaca"/><use href="#D" transform="matrix(2.80 0 0 2.80 416.3 275.8)" fill="#959595"/><use href="#H" transform="matrix(2.91 0 0 2.91 487.7 262.0)" fill="#ababab"/><use href="#H" transform="matrix(3.14 0 0 3.14 330.8 308.7)" fill="#c3c3c3"/><use href="#U" transform="matrix(2.33 0 0 2.33 382.0 274.1)" fill="#b4b4b4"/><use href="#H" transform="matrix(3.35 0 0 3.35 342.3 265.6)" fill="#d0d0d0"/><use href="#H" transform="matrix(2.37 0 0 2.37 412.6 271.5)" fill="#8a8a8a"/><use href="#H" transform="matrix(2.89 0 0 2.89 333.2 261.6)" fill="#bdbdbd"/><use href="#U" transform="matrix(3.09 0 0 3.09 379.4 322.6)" fill="#959595"/><use href="#D" transform="matrix(2.74 0 0 2.74 358.1 321.5)" fill="#888888"/><use href="#H" transform="matrix(2.24 0 0 2.24 343.9 296.8)" fill="#c0c0c0"/><use href="#H" transform="matrix(3.17 0 0 3.17 414.4 292.9)" fill="#bbbbbb"/><use href="#U" transform="matrix(2.83 0 0 2.83 374.3 307.2)" fill="#c6c6c6"/><use href="#H" transform="matrix(3.24 0 0 3.24 363.2 302.4)" fill="#d3d3d3"/><use href="#H" transform="matrix(2.34 0 0 2.34 492.5 304.0)" fill="#8b8b8b"/><use href="#D" transform="matrix(2.32 0 0 2.32 405.2 252.1)" fill="#949494"/><use href="#H" transform="matrix(3.57 0 0 3.57 283.2 248.1)" fill="#b2b2b2"/><use href="#H" transform="matrix(2.27 0 0 2.27 303.0 309.1)" fill="#8e8e8e"/><use href="#U" transform="matrix(3.28 0 0 3.28 316.1 252.3)" fill="#838383"/><use href="#D" transform="matrix(2.88 0 0 2.88 296.6 314.7)" fill="#a1a1a1"/><use href="#H" transform="matrix(2.82 0 0 2.82 286.0 298.7)" fill="#9d9d9d"/><use href="#H" transform="matrix(2.79 0 0 2.79 476.2 299.2)" fill="#8e8e8e"/><use href="#D" transform="matrix(2.61 0 0 2.61 344.6 300.8)" fill="#777777"/><use href="#U" transform="matrix(3.42 0 0 3.42 355.6 320.2)" fill="#a1a1a1"/><use href="#U" transform="matrix(2.42 0 0 2.42 364.9 285.1)" fill="#5a5a5a"/><use href="#U" transform="matrix(3.10 0 0 3.10 393.3 310.6)" fill="#888888"/><use href="#U" transform="matrix(3.58 0 0 3.58 379.0 288.0)" fill="#9d9d9d"/><use href="#D" transform="matrix(2.96 0 0 2.96 327.2 289.9)" fill="#bdbdbd"/><use href="#H" transform="matrix(3.36 0 0 3.36 292.0 313.4)" fill="#adadad"/><use href="#H" transform="matrix(2.34 0 0 2.34 380.0 275.8)" fill="#959595"/><use href="#D" transform="matrix(2.84 0 0 2.84 337.8 282.4)" fill="#acacac"/><use href="#U" transform="matrix(2.83 0 0 2.83 390.3 276.8)" fill="#e2e2e2"/><use href="#D" transform="matrix(2.23 0 0 2.23 442.8 273.0)" fill="#afafaf"/><use href="#H" transform="matrix(3.35 0 0 3.35 352.8 306.7)" fill="#d4d4d4"/><use href="#H" transform="matrix(2.95 0 0 2.95 391.1 267.8)" fill="#acacac"/><use href="#D" transform="matrix(2.62 0 0 2.62 449.7 280.6)" fill="#dfdfdf"/><use href="#D" transform="matrix(3.47 0 0 3.47 427.1 247.4)" fill="#b6b6b6"/><use href="#H" transform="matrix(2.22 0 0 2.22 323.5 266.7)" fill="#e9e9e9"/><use href="#H" transform="matrix(3.25 0 0 3.25 273.1 253.1)" fill="#a1a1a1"/><use href="#D" transform="matrix(2.26 0 0 2.26 343.8 303.4)" fill="#cdcdcd"/><use href="#H" transform="matrix(2.90 0 0 2.90 452.7 299.1)" fill="#767676"/><use href="#D" transform="matrix(3.39 0 0 3.39 353.4 251.3)" fill="#adadad"/><use href="#D" transform="matrix(2.51 0 0 2.51 440.7 317.4)" fill="#dadada"/><use href="#H" transform="matrix(3.32 0 0 3.32 441.8 288.4)" fill="#aaaaaa"/><use href="#D" transform="matrix(3.44 0 0 3.44 318.6 250.9)" fill="#787878"/><use href="#H" transform="matrix(3.55 0 0 3.55 316.8 322.7)" fill="#636363"/><use href="#H" transform="matrix(3.18 0 0 3.18 330.9 261.6)" fill="#a0a0a0"/><use href="#U" transform="matrix(2.42 0 0 2.42 351.7 249.8)" fill="#c5c5c5"/><use href="#H" transform="matrix(2.25 0 0 2.25 354.6 261.7)" fill="#d6d6d6"/><use href="#H" transform="matrix(2.54 0 0 2.54 375.1 312.2)" fill="#828282"/><use href="#H" transform="matrix(3.09 0 0 3.09 491.7 320.6)" fill="#9d9d9d"/><use href="#H" transform="matrix(3.53 0 0 3.53 483.8 291.2)" fill="#a1a1a1"/><use href="#D" transform="matrix(2.95 0 0 2.95 476.8 314.0)" fill="#787878"/><use href="#H" transform="matrix(3.20 0 0 3.20 445.1 290.6)" fill="#6a6a6a"/><use href="#H" transform="matrix(2.60 0 0 2.60 339.2 250.4)" fill="#9b9b9b"/><use href="#H" transform="matrix(3.47 0 0 3.47 389.8 293.0)" fill="#9b9b9b"/><use href="#H" transform="matrix(2.64 0 0 2.64 353.6 284.5)" fill="#b4b4b4"/><use href="#H" transform="matrix(2.37 0 0 2.37 323.2 307.1)" fill="#898989"/><use href="#H" transform="matrix(2.58 0 0 2.58 483.1 283.5)" fill="#8a8a8a"/><use href="#D" transform="matrix(2.32 0 0 2.32 461.8 251.0)" fill="#d2d2d2"/><use href="#U" transform="matrix(3.26 0 0 3.26 334.6 320.7)" fill="#c8c8c8"/><use href="#H" transform="matrix(2.43 0 0 2.43 472.7 278.8)" fill="#727272"/><use href="#D" transform="matrix(2.58 0 0 2.58 492.8 255.6)" fill="#8a8a8a"/><use href="#U" transform="matrix(3.34 0 0 3.34 380.0 321.3)" fill="#7a7a7a"/><use href="#D" transform="matrix(3.39 0 0 3.39 383.7 285.5)" fill="#979797"/><use href="#H" transform="matrix(2.76 0 0 2.76 454.8 274.2)" fill="#969696"/><use href="#H" transform="matrix(3.40 0 0 3.40 494.8 257.4)" fill="#aeaeae"/><use href="#D" transform="matrix(3.09 0 0 3.09 363.1 255.7)" fill="#656565"/><use href="#H" transform="matrix(2.63 0 0 2.63 334.5 266.1)" fill="#7e7e7e"/><use href="#H" transform="matrix(3.28 0 0 3.28 488.4 290.9)" fill="#cecece"/><use href="#U" transform="matrix(2.60 0 0 2.60 431.6 275.5)" fill="#cecece"/><use href="#H" transform="matrix(2.23 0 0 2.23 294.5 307.0)" fill="#bdbdbd"/><use href="#H" transform="matrix(2.33 0 0 2.33 354.9 271.8)" fill="#868686"/><use href="#H" transform="matrix(3.03 0 0 3.03 335.8 295.4)" fill="#b1b1b1"/><use href="#H" transform="matrix(2.72 0 0 2.72 374.9 261.6)" fill="#aeaeae"/><use href="#H" transform="matrix(3.57 0 0 3.57 423.4 306.4)" fill="#787878"/><use href="#H" transform="matrix(3.58 0 0 3.58 308.4 314.0)" fill="#8b8b8b"/><use href="#H" transform="matrix(3.42 0 0 3.42 419.8 247.2)" fill="#b1b1b1"/><use href="#H" transform="matrix(2.70 0 0 2.70 311.1 278.4)" fill="#b7b7b7"/><use href="#H" transform="matrix(3.15 0 0 3.15 279.7 253.5)" fill="#585858"/><use href="#H" transform="matrix(3.12 0 0 3.12 325.5 319.4)" fill="#616161"/><use href="#H" transform="matrix(3.07 0 0 3.07 474.4 302.0)" fill="#b1b1b1"/><use href="#H" transform="matrix(2.67 0 0 2.67 291.3 294.7)" fill="#8a8a8a"/><use href="#U" transform="matrix(2.63 0 0 2.63 476.2 294.0)" fill="#868686"/><use href="#D" transform="matrix(2.45 0 0 2.45 495.0 249.2)" fill="#aeaeae"/><use href="#U" transform="matrix(3.09 0 0 3.09 441.9 254.4)" fill="#666666"/><use href="#D" transform="matrix(3.41 0 0 3.41 302.3 273.9)" fill="#b7b7b7"/><use href="#H" transform="matrix(3.04 0 0 3.04 363.2 247.2)" fill="#9f9f9f"/><use href="#D" transform="matrix(2.73 0 0 2.73 363.5 261.7)" fill="#8c8c8c"/><use href="#D" transform="matrix(2.76 0 0 2.76 367.6 286.1)" fill="#a5a5a5"/><use href="#H" transform="matrix(2.96 0 0 2.96 327.2 302.2)" fill="#b6b6b6"/><use href="#H" transform="matrix(2.79 0 0 2.79 369.0 249.5)" fill="#b6b6b6"/><use href="#U" transform="matrix(3.03 0 0 3.03 386.4 316.5)" fill="#9c9c9c"/><use href="#H" transform="matrix(3.45 0 0 3.45 451.0 308.7)" fill="#b2b2b2"/><use href="#U" transform="matrix(3.09 0 0 3.09 436.7 266.6)" fill="#a1a1a1"/><use href="#H" transform="matrix(2.29 0 0 2.29 290.3 306.7)" fill="#747474"/><use href="#H" transform="matrix(3.36 0 0 3.36 366.7 303.3)" fill="#aeaeae"/><use href="#U" transform="matrix(2.96 0 0 2.96 329.1 295.9)" fill="#acacac"/><use href="#U" transform="matrix(3.39 0 0 3.39 455.8 249.3)" fill="#a7a7a7"/><use href="#H" transform="matrix(2.64 0 0 2.64 441.7 310.4)" fill="#9a9a9a"/><use href="#U" transform="matrix(3.55 0 0 3.55 450.0 252.7)" fill="#dcdcdc"/><use href="#D" transform="matrix(3.58 0 0 3.58 366.3 257.7)" fill="#e2e2e2"/><use href="#U" transform="matrix(2.88 0 0 2.88 379.1 297.9)" fill="#d6d6d6"/><use href="#H" transform="matrix(3.14 0 0 3.14 461.2 274.1)" fill="#a7a7a7"/><use href="#H" transform="matrix(2.49 0 0 2.49 487.2 318.6)" fill="#939393"/><use href="#H" transform="matrix(2.52 0 0 2.52 352.9 317.4)" fill="#6a6a6a"/><use href="#H" transform="matrix(3.38 0 0 3.38 376.2 284.6)" fill="#969696"/><use href="#H" transform="matrix(2.84 0 0 2.84 422.3 247.4)" fill="#898989"/><use href="#H" transform="matrix(2.34 0 0 2.34 327.7 315.4)" fill="#5f5f5f"/><use href="#H" transform="matrix(3.53 0 0 3.53 488.9 270.8)" fill="#979797"/><use href="#D" transform="matrix(2.52 0 0 2.52 428.6 247.7)" fill="#6f6f6f"/><use href="#H" transform="matrix(3.41 0 0 3.41 347.7 311.6)" fill="#9b9b9b"/><use href="#H" transform="matrix(3.27 0 0 3.27 384.2 299.5)" fill="#929292"/><use href="#U" transform="matrix(3.13 0 0 3.13 305.3 291.8)" fill="#909090"/><use href="#H" transform="matrix(2.69 0 0 2.69 316.2 289.0)" fill="#959595"/><use href="#H" transform="matrix(3.43 0 0 3.43 359.7 314.9)" fill="#616161"/><use href="#H" transform="matrix(3.02 0 0 3.02 275.0 278.8)" fill="#888888"/><use href="#H" transform="matrix(2.68 0 0 2.68 301.9 278.4)" fill="#a6a6a6"/><use href="#H" transform="matrix(2.86 0 0 2.86 444.7 249.6)" fill="#b9b9b9"/><use href="#H" transform="matrix(3.29 0 0 3.29 460.5 300.8)" fill="#818181"/><use href="#H" transform="matrix(3.01 0 0 3.01 370.5 293.4)" fill="#dedede"/><use href="#H" transform="matrix(2.92 0 0 2.92 367.5 319.5)" fill="#b6b6b6"/><use href="#D" transform="matrix(2.66 0 0 2.66 411.2 251.6)" fill="#6b6b6b"/><use href="#D" transform="matrix(3.29 0 0 3.29 312.7 287.4)" fill="#cfcfcf"/><use href="#H" transform="matrix(3.27 0 0 3.27 326.8 267.2)" fill="#8d8d8d"/><use href="#U" transform="matrix(2.98 0 0 2.98 349.2 294.7)" fill="#c3c3c3"/><use href="#H" transform="matrix(2.56 0 0 2.56 492.8 263.3)" fill="#929292"/><use href="#H" transform="matrix(3.05 0 0 3.05 295.9 312.6)" fill="#b1b1b1"/><use href="#H" transform="matrix(2.28 0 0 2.28 374.2 308.5)" fill="#a2a2a2"/><use href="#H" transform="matrix(3.12 0 0 3.12 294.0 310.9)" fill="#929292"/><use href="#H" transform="matrix(2.59 0 0 2.59 411.6 315.5)" fill="#7a7a7a"/><use href="#U" transform="matrix(2.71 0 0 2.71 288.3 313.4)" fill="#b2b2b2"/><use href="#H" transform="matrix(2.41 0 0 2.41 417.2 248.4)" fill="#727272"/><use href="#H" transform="matrix(3.00 0 0 3.00 471.9 282.3)" fill="#cccccc"/><use href="#D" transform="matrix(3.08 0 0 3.08 457.3 257.3)" fill="#929292"/><use href="#U" transform="matrix(2.44 0 0 2.44 318.0 269.2)" fill="#a5a5a5"/><use href="#D" transform="matrix(2.23 0 0 2.23 357.4 278.4)" fill="#787878"/><use href="#D" transform="matrix(2.65 0 0 2.65 292.1 291.8)" fill="#7a7a7a"/><use href="#D" transform="matrix(2.23 0 0 2.23 321.0 249.6)" fill="#828282"/><use href="#H" transform="matrix(3.56 0 0 3.56 317.6 290.5)" fill="#8a8a8a"/><use href="#U" transform="matrix(3.46 0 0 3.46 305.7 298.0)" fill="#929292"/><use href="#D" transform="matrix(2.56 0 0 2.56 448.9 291.0)" fill="#5f5f5f"/><use href="#U" transform="matrix(3.35 0 0 3.35 348.9 292.1)" fill="#c6c6c6"/><use href="#H" transform="matrix(2.63 0 0 2.63 465.1 253.7)" fill="#bebebe"/><use href="#H" transform="matrix(3.05 0 0 3.05 481.0 247.0)" fill="#929292"/><use href="#U" transform="matrix(2.46 0 0 2.46 283.2 282.9)" fill="#e7e7e7"/><use href="#H" transform="matrix(2.77 0 0 2.77 362.4 248.6)" fill="#898989"/><use href="#H" transform="matrix(2.89 0 0 2.89 461.2 320.7)" fill="#d0d0d0"/><use href="#H" transform="matrix(3.49 0 0 3.49 433.6 248.0)" fill="#9b9b9b"/><use href="#U" transform="matrix(2.83 0 0 2.83 494.3 252.6)" fill="#a6a6a6"/><use href="#U" transform="matrix(2.80 0 0 2.80 437.6 305.0)" fill="#ececec"/><use href="#H" transform="matrix(3.35 0 0 3.35 351.4 316.1)" fill="#b2b2b2"/><use href="#U" transform="matrix(3.30 0 0 3.30 368.8 291.4)" fill="#b7b7b7"/><use href="#H" transform="matrix(3.11 0 0 3.11 360.6 314.1)" fill="#d7d7d7"/><use href="#U" transform="matrix(2.92 0 0 2.92 351.1 282.0)" fill="#c0c0c0"/><use href="#H" transform="matrix(3.60 0 0 3.60 451.5 264.4)" fill="#929292"/><use href="#D" transform="matrix(2.36 0 0 2.36 431.8 279.5)" fill="#b3b3b3"/><use href="#H" transform="matrix(3.18 0 0 3.18 479.4 259.7)" fill="#6a6a6a"/><use href="#U" transform="matrix(2.80 0 0 2.80 286.1 322.4)" fill="#cecece"/><use href="#H" transform="matrix(2.21 0 0 2.21 279.5 302.0)" fill="#dbdbdb"/><use href="#D" transform="matrix(2.32 0 0 2.32 397.1 269.5)" fill="#cacaca"/><use href="#U" transform="matrix(2.63 0 0 2.63 284.1 300.5)" fill="#a2a2a2"/><use href="#H" transform="matrix(2.32 0 0 2.32 315.1 270.7)" fill="#b9b9b9"/><use href="#D" transform="matrix(2.45 0 0 2.45 365.6 252.6)" fill="#7a7a7a"/><use href="#U" transform="matrix(3.16 0 0 3.16 356.3 291.2)" fill="#989898"/><use href="#H" transform="matrix(3.25 0 0 3.25 350.7 313.6)" fill="#9b9b9b"/><use href="#D" transform="matrix(3.09 0 0 3.09 438.9 257.4)" fill="#bababa"/><use href="#H" transform="matrix(3.57 0 0 3.57 474.4 269.2)" fill="#6a6a6a"/><use href="#H" transform="matrix(2.91 0 0 2.91 370.9 257.7)" fill="#888888"/><use href="#U" transform="matrix(3.28 0 0 3.28 459.4 249.7)" fill="#c2c2c2"/><use href="#U" transform="matrix(3.39 0 0 3.39 410.7 251.8)" fill="#bebebe"/><use href="#H" transform="matrix(2.48 0 0 2.48 466.0 266.9)" fill="#bbbbbb"/><use href="#H" transform="matrix(3.40 0 0 3.40 494.6 263.7)" fill="#d2d2d2"/><use href="#H" transform="matrix(2.23 0 0 2.23 422.8 248.1)" fill="#707070"/><use href="#H" transform="matrix(2.57 0 0 2.57 446.3 279.9)" fill="#747474"/><use href="#H" transform="matrix(3.55 0 0 3.55 273.5 272.6)" fill="#656565"/><use href="#H" transform="matrix(2.25 0 0 2.25 462.4 312.9)" fill="#b5b5b5"/><use href="#H" transform="matrix(2.89 0 0 2.89 400.9 274.3)" fill="#6d6d6d"/><use href="#D" transform="matrix(2.67 0 0 2.67 452.7 276.7)" fill="#888888"/><use href="#H" transform="matrix(3.24 0 0 3.24 288.9 301.2)" fill="#929292"/><use href="#H" transform="matrix(3.43 0 0 3.43 334.3 298.5)" fill="#9b9b9b"/><use href="#D" transform="matrix(2.41 0 0 2.41 281.8 273.4)" fill="#7d7d7d"/><use href="#D" transform="matrix(3.58 0 0 3.58 340.8 299.6)" fill="#e2e2e2"/><use href="#D" transform="matrix(3.50 0 0 3.50 383.4 313.1)" fill="#757575"/><use href="#H" transform="matrix(2.65 0 0 2.65 362.2 316.8)" fill="#606060"/><use href="#H" transform="matrix(2.22 0 0 2.22 486.7 259.9)" fill="#d5d5d5"/><use href="#H" transform="matrix(3.12 0 0 3.12 431.7 268.7)" fill="#b5b5b5"/><use href="#H" transform="matrix(2.72 0 0 2.72 472.8 309.5)" fill="#bbbbbb"/><use href="#H" transform="matrix(3.02 0 0 3.02 334.6 266.0)" fill="#d2d2d2"/><use href="#D" transform="matrix(2.87 0 0 2.87 494.6 298.4)" fill="#d6d6d6"/><use href="#H" transform="matrix(2.73 0 0 2.73 488.3 289.9)" fill="#6c6c6c"/><use href="#U" transform="matrix(2.84 0 0 2.84 467.8 307.7)" fill="#c6c6c6"/><use href="#H" transform="matrix(3.54 0 0 3.54 433.0 285.2)" fill="#8d8d8d"/><use href="#H" transform="matrix(2.90 0 0 2.90 491.7 281.8)" fill="#7b7b7b"/><use href="#H" transform="matrix(3.40 0 0 3.40 276.2 272.1)" fill="#8a8a8a"/><use href="#H" transform="matrix(3.37 0 0 3.37 294.6 303.8)" fill="#707070"/><use href="#H" transform="matrix(2.88 0 0 2.88 438.4 265.7)" fill="#acacac"/><use href="#H" transform="matrix(2.85 0 0 2.85 426.5 275.0)" fill="#787878"/><use href="#H" transform="matrix(2.99 0 0 2.99 468.9 263.8)" fill="#b3b3b3"/><use href="#U" transform="matrix(2.81 0 0 2.81 486.5 273.6)" fill="#bfbfbf"/><use href="#H" transform="matrix(3.24 0 0 3.24 449.9 316.5)" fill="#bdbdbd"/><use href="#H" transform="matrix(3.08 0 0 3.08 402.7 303.8)" fill="#bbbbbb"/><use href="#D" transform="matrix(3.16 0 0 3.16 354.0 282.0)" fill="#c3c3c3"/><use href="#H" transform="matrix(2.60 0 0 2.60 366.1 288.8)" fill="#a9a9a9"/><use href="#H" transform="matrix(3.35 0 0 3.35 398.7 322.8)" fill="#818181"/><use href="#H" transform="matrix(2.66 0 0 2.66 353.9 249.9)" fill="#a9a9a9"/><use href="#H" transform="matrix(2.31 0 0 2.31 469.3 280.7)" fill="#a2a2a2"/><use href="#H" transform="matrix(2.88 0 0 2.88 311.4 270.9)" fill="#a8a8a8"/><use href="#H" transform="matrix(3.26 0 0 3.26 337.1 317.3)" fill="#585858"/><use href="#D" transform="matrix(3.48 0 0 3.48 484.7 256.2)" fill="#b0b0b0"/><use href="#U" transform="matrix(3.19 0 0 3.19 276.3 298.7)" fill="#979797"/><use href="#U" transform="matrix(3.41 0 0 3.41 423.0 298.9)" fill="#bebebe"/><use href="#H" transform="matrix(2.21 0 0 2.21 375.8 285.9)" fill="#939393"/><use href="#U" transform="matrix(2.34 0 0 2.34 481.0 301.0)" fill="#737373"/><use href="#H" transform="matrix(2.23 0 0 2.23 325.5 256.5)" fill="#9c9c9c"/><use href="#U" transform="matrix(3.58 0 0 3.58 485.7 306.3)" fill="#b1b1b1"/><use href="#D" transform="matrix(3.42 0 0 3.42 466.6 259.7)" fill="#505050"/><use href="#D" transform="matrix(3.11 0 0 3.11 310.8 321.2)" fill="#b6b6b6"/><use href="#D" transform="matrix(2.52 0 0 2.52 327.2 297.6)" fill="#c3c3c3"/><use href="#H" transform="matrix(3.42 0 0 3.42 398.3 277.1)" fill="#898989"/><use href="#H" transform="matrix(3.30 0 0 3.30 438.6 305.9)" fill="#757575"/><use href="#H" transform="matrix(2.36 0 0 2.36 275.3 250.4)" fill="#9d9d9d"/><use href="#H" transform="matrix(2.83 0 0 2.83 437.8 260.9)" fill="#979797"/><use href="#H" transform="matrix(2.59 0 0 2.59 282.7 306.1)" fill="#7b7b7b"/><use href="#D" transform="matrix(2.67 0 0 2.67 286.4 320.3)" fill="#b3b3b3"/><use href="#D" transform="matrix(3.59 0 0 3.59 471.6 262.1)" fill="#a8a8a8"/><use href="#H" transform="matrix(2.75 0 0 2.75 291.2 254.9)" fill="#b5b5b5"/><use href="#U" transform="matrix(2.62 0 0 2.62 486.6 250.1)" fill="#6d6d6d"/><use href="#D" transform="matrix(2.23 0 0 2.23 284.4 280.2)" fill="#c7c7c7"/><use href="#D" transform="matrix(2.73 0 0 2.73 471.7 294.4)" fill="#9a9a9a"/><use href="#H" transform="matrix(2.68 0 0 2.68 454.5 289.9)" fill="#949494"/><use href="#H" transform="matrix(2.71 0 0 2.71 417.2 253.9)" fill="#9f9f9f"/><use href="#H" transform="matrix(3.22 0 0 3.22 482.9 275.2)" fill="#b3b3b3"/><use href="#H" transform="matrix(3.41 0 0 3.41 365.6 300.9)" fill="#5d5d5d"/><use href="#H" transform="matrix(3.12 0 0 3.12 409.8 254.2)" fill="#b0b0b0"/><use href="#D" transform="matrix(2.82 0 0 2.82 427.5 321.9)" fill="#8a8a8a"/><use href="#H" transform="matrix(3.55 0 0 3.55 444.7 262.4)" fill="#b5b5b5"/><use href="#H" transform="matrix(3.51 0 0 3.51 425.6 253.6)" fill="#6d6d6d"/><use href="#H" transform="matrix(2.20 0 0 2.20 371.4 290.1)" fill="#949494"/><use href="#H" transform="matrix(2.68 0 0 2.68 417.0 254.7)" fill="#909090"/><use href="#H" transform="matrix(2.93 0 0 2.93 332.9 249.2)" fill="#838383"/><use href="#H" transform="matrix(2.22 0 0 2.22 486.2 312.2)" fill="#8a8a8a"/><use href="#H" transform="matrix(2.93 0 0 2.93 278.1 262.5)" fill="#8c8c8c"/><use href="#D" transform="matrix(3.27 0 0 3.27 405.5 257.9)" fill="#c5c5c5"/><use href="#H" transform="matrix(2.78 0 0 2.78 414.2 297.7)" fill="#727272"/><use href="#H" transform="matrix(2.26 0 0 2.26 458.9 300.3)" fill="#cbcbcb"/><use href="#H" transform="matrix(3.33 0 0 3.33 419.8 264.1)" fill="#b8b8b8"/><use href="#H" transform="matrix(2.86 0 0 2.86 420.5 294.0)" fill="#b2b2b2"/><use href="#D" transform="matrix(2.49 0 0 2.49 476.9 258.7)" fill="#b5b5b5"/><use href="#U" transform="matrix(2.89 0 0 2.89 286.8 295.6)" fill="#979797"/><use href="#H" transform="matrix(2.98 0 0 2.98 318.6 265.0)" fill="#9e9e9e"/><use href="#H" transform="matrix(2.29 0 0 2.29 287.5 282.3)" fill="#868686"/><use href="#H" transform="matrix(2.57 0 0 2.57 473.0 282.5)" fill="#959595"/><use href="#H" transform="matrix(2.32 0 0 2.32 487.5 250.6)" fill="#a2a2a2"/><use href="#U" transform="matrix(2.31 0 0 2.31 415.3 264.0)" fill="#dbdbdb"/><use href="#D" transform="matrix(2.61 0 0 2.61 472.7 250.7)" fill="#a3a3a3"/><use href="#U" transform="matrix(2.99 0 0 2.99 280.6 308.4)" fill="#e8e8e8"/><use href="#H" transform="matrix(2.34 0 0 2.34 456.5 258.9)" fill="#d6d6d6"/><use href="#H" transform="matrix(2.92 0 0 2.92 390.4 289.2)" fill="#717171"/><use href="#H" transform="matrix(2.61 0 0 2.61 431.1 301.2)" fill="#a4a4a4"/><use href="#H" transform="matrix(2.46 0 0 2.46 456.5 254.1)" fill="#adadad"/><use href="#H" transform="matrix(2.72 0 0 2.72 316.2 267.6)" fill="#959595"/><use href="#U" transform="matrix(2.79 0 0 2.79 453.2 322.9)" fill="#6b6b6b"/><use href="#U" transform="matrix(2.98 0 0 2.98 356.4 293.2)" fill="#d1d1d1"/><use href="#H" transform="matrix(3.04 0 0 3.04 375.9 251.4)" fill="#c8c8c8"/><use href="#H" transform="matrix(2.71 0 0 2.71 282.0 282.5)" fill="#797979"/><use href="#D" transform="matrix(2.38 0 0 2.38 377.0 272.7)" fill="#818181"/><use href="#H" transform="matrix(3.18 0 0 3.18 287.8 257.8)" fill="#a1a1a1"/><use href="#D" transform="matrix(3.46 0 0 3.46 317.8 311.3)" fill="#d2d2d2"/><use href="#H" transform="matrix(2.22 0 0 2.22 371.1 289.4)" fill="#999999"/><use href="#D" transform="matrix(2.84 0 0 2.84 482.1 273.1)" fill="#bebebe"/><use href="#H" transform="matrix(3.06 0 0 3.06 295.5 252.4)" fill="#dddddd"/><use href="#H" transform="matrix(3.40 0 0 3.40 383.1 292.9)" fill="#8e8e8e"/><use href="#U" transform="matrix(3.16 0 0 3.16 290.1 313.2)" fill="#e4e4e4"/><use href="#U" transform="matrix(2.49 0 0 2.49 462.0 277.3)" fill="#848484"/><use href="#H" transform="matrix(2.70 0 0 2.70 430.0 270.5)" fill="#919191"/><use href="#H" transform="matrix(2.25 0 0 2.25 284.7 290.6)" fill="#b4b4b4"/><use href="#H" transform="matrix(2.42 0 0 2.42 435.8 301.0)" fill="#848484"/><use href="#U" transform="matrix(2.40 0 0 2.40 458.8 260.6)" fill="#d2d2d2"/><use href="#H" transform="matrix(2.58 0 0 2.58 376.8 248.2)" fill="#7e7e7e"/><use href="#U" transform="matrix(2.59 0 0 2.59 325.1 254.3)" fill="#b2b2b2"/><use href="#H" transform="matrix(3.04 0 0 3.04 305.8 280.7)" fill="#a9a9a9"/><use href="#H" transform="matrix(3.24 0 0 3.24 344.7 305.9)" fill="#dfdfdf"/><use href="#H" transform="matrix(3.31 0 0 3.31 363.6 255.0)" fill="#a0a0a0"/><use href="#D" transform="matrix(3.22 0 0 3.22 439.5 286.9)" fill="#a0a0a0"/><use href="#H" transform="matrix(3.34 0 0 3.34 471.1 295.2)" fill="#adadad"/><use href="#H" transform="matrix(3.01 0 0 3.01 387.3 289.6)" fill="#767676"/><use href="#U" transform="matrix(2.69 0 0 2.69 351.4 308.2)" fill="#565656"/><use href="#H" transform="matrix(2.69 0 0 2.69 343.9 255.3)" fill="#cfcfcf"/><use href="#H" transform="matrix(2.22 0 0 2.22 456.5 302.7)" fill="#969696"/><use href="#H" transform="matrix(2.61 0 0 2.61 491.5 271.1)" fill="#7d7d7d"/><use href="#D" transform="matrix(3.39 0 0 3.39 302.5 287.7)" fill="#959595"/><use href="#H" transform="matrix(2.51 0 0 2.51 431.7 319.5)" fill="#f7f7f7"/><use href="#H" transform="matrix(3.26 0 0 3.26 406.6 280.6)" fill="#606060"/><use href="#H" transform="matrix(3.02 0 0 3.02 454.4 275.4)" fill="#909090"/><use href="#D" transform="matrix(3.09 0 0 3.09 310.8 316.3)" fill="#7c7c7c"/><use href="#H" transform="matrix(3.47 0 0 3.47 349.0 316.4)" fill="#949494"/><use href="#U" transform="matrix(3.29 0 0 3.29 397.8 256.0)" fill="#d8d8d8"/><use href="#H" transform="matrix(2.84 0 0 2.84 480.7 263.6)" fill="#969696"/><use href="#D" transform="matrix(3.18 0 0 3.18 295.9 256.0)" fill="#b5b5b5"/><use href="#U" transform="matrix(2.27 0 0 2.27 280.5 316.9)" fill="#c1c1c1"/><use href="#U" transform="matrix(2.48 0 0 2.48 446.3 289.9)" fill="#979797"/><use href="#H" transform="matrix(3.29 0 0 3.29 472.8 262.4)" fill="#c6c6c6"/><use href="#U" transform="matrix(3.01 0 0 3.01 288.2 247.1)" fill="#dadada"/><use href="#D" transform="matrix(3.10 0 0 3.10 389.6 265.2)" fill="#838383"/><use href="#U" transform="matrix(2.56 0 0 2.56 444.0 283.4)" fill="#676767"/><use href="#U" transform="matrix(2.31 0 0 2.31 418.2 266.0)" fill="#646464"/><use href="#U" transform="matrix(2.30 0 0 2.30 335.0 317.5)" fill="#ababab"/><use href="#D" transform="matrix(3.24 0 0 3.24 301.6 266.8)" fill="#595959"/><use href="#H" transform="matrix(3.37 0 0 3.37 320.0 275.6)" fill="#aaaaaa"/><use href="#U" transform="matrix(2.99 0 0 2.99 377.0 294.8)" fill="#b1b1b1"/><use href="#U" transform="matrix(2.51 0 0 2.51 325.8 313.2)" fill="#7b7b7b"/><use href="#D" transform="matrix(2.72 0 0 2.72 404.8 315.2)" fill="#a8a8a8"/><use href="#H" transform="matrix(3.02 0 0 3.02 407.9 272.2)" fill="#727272"/><use href="#D" transform="matrix(2.83 0 0 2.83 353.2 248.0)" fill="#929292"/><use href="#H" transform="matrix(2.91 0 0 2.91 382.8 294.3)" fill="#6c6c6c"/><use href="#H" transform="matrix(3.11 0 0 3.11 460.5 295.2)" fill="#a0a0a0"/><use href="#D" transform="matrix(2.67 0 0 2.67 407.3 254.5)" fill="#6a6a6a"/><use href="#H" transform="matrix(3.54 0 0 3.54 305.5 273.0)" fill="#919191"/><use href="#U" transform="matrix(3.42 0 0 3.42 414.5 255.3)" fill="#9e9e9e"/><use href="#H" transform="matrix(2.74 0 0 2.74 307.0 251.1)" fill="#8a8a8a"/><use href="#H" transform="matrix(2.77 0 0 2.77 362.9 315.4)" fill="#9f9f9f"/><use href="#D" transform="matrix(3.42 0 0 3.42 374.0 267.8)" fill="#c8c8c8"/><use href="#H" transform="matrix(3.31 0 0 3.31 486.8 280.1)" fill="#696969"/><use href="#H" transform="matrix(2.60 0 0 2.60 366.1 249.5)" fill="#9d9d9d"/><use href="#U" transform="matrix(3.34 0 0 3.34 429.5 267.1)" fill="#9b9b9b"/><use href="#H" transform="matrix(2.65 0 0 2.65 335.6 251.3)" fill="#d8d8d8"/><use href="#H" transform="matrix(2.47 0 0 2.47 341.6 283.2)" fill="#9a9a9a"/><use href="#U" transform="matrix(3.53 0 0 3.53 485.0 313.9)" fill="#9c9c9c"/><use href="#H" transform="matrix(2.79 0 0 2.79 278.2 288.1)" fill="#cecece"/><use href="#U" transform="matrix(2.93 0 0 2.93 375.8 257.4)" fill="#898989"/><use href="#D" transform="matrix(3.09 0 0 3.09 305.3 294.3)" fill="#909090"/><use href="#D" transform="matrix(2.52 0 0 2.52 337.9 256.1)" fill="#a7a7a7"/><use href="#H" transform="matrix(2.95 0 0 2.95 287.4 261.8)" fill="#6c6c6c"/><use href="#H" transform="matrix(2.83 0 0 2.83 348.9 247.3)" fill="#929292"/><use href="#H" transform="matrix(2.39 0 0 2.39 307.4 259.1)" fill="#a3a3a3"/><use href="#H" transform="matrix(2.88 0 0 2.88 355.4 286.6)" fill="#d3d3d3"/><use href="#U" transform="matrix(2.64 0 0 2.64 358.5 292.0)" fill="#959595"/><use href="#D" transform="matrix(3.44 0 0 3.44 451.2 293.8)" fill="#bcbcbc"/><use href="#H" transform="matrix(2.65 0 0 2.65 426.9 302.1)" fill="#979797"/><use href="#H" transform="matrix(2.50 0 0 2.50 363.3 317.8)" fill="#7e7e7e"/><use href="#H" transform="matrix(2.32 0 0 2.32 283.7 283.1)" fill="#a9a9a9"/><use href="#D" transform="matrix(2.43 0 0 2.43 428.2 276.1)" fill="#a6a6a6"/><use href="#U" transform="matrix(2.40 0 0 2.40 414.9 275.6)" fill="#cccccc"/><use href="#U" transform="matrix(2.94 0 0 2.94 350.6 317.4)" fill="#bfbfbf"/><use href="#H" transform="matrix(2.80 0 0 2.80 356.7 320.2)" fill="#8a8a8a"/><use href="#H" transform="matrix(3.41 0 0 3.41 349.8 259.6)" fill="#ababab"/><use href="#U" transform="matrix(3.22 0 0 3.22 483.7 319.8)" fill="#b3b3b3"/><use href="#H" transform="matrix(3.55 0 0 3.55 280.1 285.0)" fill="#898989"/><use href="#H" transform="matrix(3.47 0 0 3.47 391.2 322.2)" fill="#a6a6a6"/><use href="#H" transform="matrix(2.29 0 0 2.29 307.3 250.0)" fill="#a6a6a6"/><use href="#H" transform="matrix(2.90 0 0 2.90 274.7 278.9)" fill="#a0a0a0"/><use href="#H" transform="matrix(3.40 0 0 3.40 460.3 268.0)" fill="#c1c1c1"/><use href="#H" transform="matrix(2.86 0 0 2.86 331.1 265.2)" fill="#e2e2e2"/><use href="#H" transform="matrix(2.62 0 0 2.62 461.5 317.9)" fill="#cecece"/><use href="#D" transform="matrix(2.82 0 0 2.82 464.8 272.3)" fill="#a5a5a5"/><use href="#H" transform="matrix(3.29 0 0 3.29 336.2 285.0)" fill="#919191"/><use href="#D" transform="matrix(2.80 0 0 2.80 416.0 261.6)" fill="#989898"/><use href="#H" transform="matrix(2.95 0 0 2.95 338.7 318.5)" fill="#bebebe"/><use href="#H" transform="matrix(3.21 0 0 3.21 334.9 285.8)" fill="#767676"/><use href="#H" transform="matrix(2.44 0 0 2.44 458.1 298.4)" fill="#9c9c9c"/><use href="#H" transform="matrix(2.42 0 0 2.42 375.1 265.6)" fill="#8c8c8c"/><use href="#U" transform="matrix(2.40 0 0 2.40 454.6 291.8)" fill="#d6d6d6"/><use href="#D" transform="matrix(3.53 0 0 3.53 487.6 278.3)" fill="#ababab"/><use href="#D" transform="matrix(2.45 0 0 2.45 377.3 278.7)" fill="#777777"/><use href="#H" transform="matrix(3.43 0 0 3.43 280.6 284.3)" fill="#a8a8a8"/><use href="#D" transform="matrix(2.89 0 0 2.89 471.1 274.2)" fill="#848484"/><use href="#H" transform="matrix(2.64 0 0 2.64 362.9 288.8)" fill="#898989"/><use href="#U" transform="matrix(2.22 0 0 2.22 365.6 279.2)" fill="#c7c7c7"/><use href="#D" transform="matrix(2.88 0 0 2.88 292.5 251.5)" fill="#c3c3c3"/><use href="#H" transform="matrix(3.43 0 0 3.43 286.8 268.9)" fill="#8c8c8c"/><use href="#H" transform="matrix(3.41 0 0 3.41 346.9 255.3)" fill="#8f8f8f"/><use href="#H" transform="matrix(3.17 0 0 3.17 363.6 272.0)" fill="#797979"/><use href="#D" transform="matrix(2.59 0 0 2.59 354.8 316.5)" fill="#c4c4c4"/><use href="#H" transform="matrix(3.46 0 0 3.46 434.1 272.4)" fill="#a6a6a6"/><use href="#U" transform="matrix(3.22 0 0 3.22 290.0 283.5)" fill="#d1d1d1"/><use href="#H" transform="matrix(3.32 0 0 3.32 368.1 318.3)" fill="#808080"/><use href="#H" transform="matrix(3.41 0 0 3.41 417.3 287.6)" fill="#e4e4e4"/><use href="#H" transform="matrix(2.32 0 0 2.32 465.6 274.5)" fill="#c2c2c2"/><use href="#D" transform="matrix(3.40 0 0 3.40 458.0 261.7)" fill="#8b8b8b"/><use href="#H" transform="matrix(2.31 0 0 2.31 398.4 269.8)" fill="#8a8a8a"/><use href="#H" transform="matrix(3.40 0 0 3.40 307.4 296.4)" fill="#cccccc"/><use href="#H" transform="matrix(2.94 0 0 2.94 410.6 264.7)" fill="#a9a9a9"/><use href="#H" transform="matrix(2.30 0 0 2.30 290.7 314.6)" fill="#d2d2d2"/><use href="#H" transform="matrix(3.57 0 0 3.57 483.6 319.5)" fill="#7b7b7b"/><use href="#D" transform="matrix(3.19 0 0 3.19 469.2 306.3)" fill="#bcbcbc"/><use href="#H" transform="matrix(3.54 0 0 3.54 490.6 272.6)" fill="#aaaaaa"/><use href="#H" transform="matrix(3.30 0 0 3.30 467.1 299.6)" fill="#8a8a8a"/><use href="#D" transform="matrix(3.05 0 0 3.05 412.5 304.5)" fill="#969696"/><use href="#D" transform="matrix(2.97 0 0 2.97 286.3 247.8)" fill="#777777"/><use href="#H" transform="matrix(3.39 0 0 3.39 488.8 283.0)" fill="#b3b3b3"/><use href="#U" transform="matrix(2.59 0 0 2.59 337.1 317.0)" fill="#7e7e7e"/><use href="#H" transform="matrix(3.56 0 0 3.56 338.4 273.9)" fill="#a3a3a3"/><use href="#H" transform="matrix(3.39 0 0 3.39 457.2 258.2)" fill="#949494"/></g><g filter="url(#bl3)"><polygon points="274.5,256 281,260.5 274.5,264.5" fill="#fff"/><ellipse cx="280" cy="273.8" rx="4.6" ry="1.0" fill="#fff"/><ellipse cx="316" cy="289.2" rx="5.4" ry="1.3" fill="#fff"/><ellipse cx="285" cy="296.3" rx="3" ry="4" fill="#f4f4f4"/><ellipse cx="292" cy="312.3" rx="4" ry="3" fill="#f0f0f0"/><circle cx="334.5" cy="284.7" r="3" fill="#fff"/><ellipse cx="378" cy="274.2" rx="5.8" ry="1.3" fill="#fff"/><circle cx="427.2" cy="281.3" r="2.4" fill="#fff"/><circle cx="460.3" cy="261.2" r="2.5" fill="#fff"/><circle cx="455.3" cy="295.6" r="2.2" fill="#eee"/><ellipse cx="473" cy="299.5" rx="4" ry="2.5" fill="#eee"/></g></g>
<g clip-path="url(#ce)"><g filter="url(#bl2)"><rect x="268" y="348" width="231" height="84" fill="#747474"/><path d="M264.1 344.9L271.1 353.0L272.4 348.0Z" fill="#545454" stroke="#545454" stroke-width=".5"/><path d="M264.1 344.9L272.4 348.0L268.0 348.0Z" fill="#555555" stroke="#555555" stroke-width=".5"/><path d="M264.1 344.9L268.0 348.0L268.0 355.6Z" fill="#545454" stroke="#545454" stroke-width=".5"/><path d="M264.1 344.9L268.0 355.6L271.1 353.0Z" fill="#545454" stroke="#545454" stroke-width=".5"/><polygon points="271.1,353.0 272.4,348.0 268.0,348.0 268.0,355.6" fill="none" stroke="#3a3a3a" stroke-width=".8" stroke-opacity=".35"/><path d="M281.1 349.5L287.4 348.0L272.4 348.0Z" fill="#868686" stroke="#868686" stroke-width=".5"/><path d="M281.1 349.5L272.4 348.0L271.1 353.0Z" fill="#818181" stroke="#818181" stroke-width=".5"/><path d="M281.1 349.5L271.1 353.0L283.1 356.3Z" fill="#777777" stroke="#777777" stroke-width=".5"/><path d="M281.1 349.5L283.1 356.3L289.5 353.5Z" fill="#6f6f6f" stroke="#6f6f6f" stroke-width=".5"/><path d="M281.1 349.5L289.5 353.5L287.4 348.0Z" fill="#727272" stroke="#727272" stroke-width=".5"/><polygon points="287.4,348.0 272.4,348.0 271.1,353.0 283.1,356.3 289.5,353.5" fill="none" stroke="#3a3a3a" stroke-width=".8" stroke-opacity=".35"/><path d="M293.1 344.9L289.5 353.5L294.6 355.3Z" fill="#5d5d5d" stroke="#5d5d5d" stroke-width=".5"/><path d="M293.1 344.9L294.6 355.3L299.3 351.0Z" fill="#5a5a5a" stroke="#5a5a5a" stroke-width=".5"/><path d="M293.1 344.9L299.3 351.0L300.3 348.0Z" fill="#5a5a5a" stroke="#5a5a5a" stroke-width=".5"/><path d="M293.1 344.9L300.3 348.0L287.4 348.0Z" fill="#5a5a5a" stroke="#5a5a5a" stroke-width=".5"/><path d="M293.1 344.9L287.4 348.0L289.5 353.5Z" fill="#626262" stroke="#626262" stroke-width=".5"/><polygon points="289.5,353.5 294.6,355.3 299.3,351.0 300.3,348.0 287.4,348.0" fill="none" stroke="#3a3a3a" stroke-width=".8" stroke-opacity=".35"/><path d="M307.9 350.1L299.3 351.0L311.5 355.9Z" fill="#777777" stroke="#777777" stroke-width=".5"/><path d="M307.9 350.1L311.5 355.9L314.5 351.8Z" fill="#6f6f6f" stroke="#6f6f6f" stroke-width=".5"/><path d="M307.9 350.1L314.5 351.8L314.5 348.0Z" fill="#747474" stroke="#747474" stroke-width=".5"/><path d="M307.9 350.1L314.5 348.0L300.3 348.0Z" fill="#858585" stroke="#858585" stroke-width=".5"/><path d="M307.9 350.1L300.3 348.0L299.3 351.0Z" fill="#828282" stroke="#828282" stroke-width=".5"/><polygon points="299.3,351.0 311.5,355.9 314.5,351.8 314.5,348.0 300.3,348.0" fill="none" stroke="#3a3a3a" stroke-width=".8" stroke-opacity=".35"/><path d="M321.2 349.9L314.5 351.8L323.0 355.2Z" fill="#696969" stroke="#696969" stroke-width=".5"/><path d="M321.2 349.9L323.0 355.2L330.8 349.7Z" fill="#626262" stroke="#626262" stroke-width=".5"/><path d="M321.2 349.9L330.8 349.7L330.4 348.0Z" fill="#666666" stroke="#666666" stroke-width=".5"/><path d="M321.2 349.9L330.4 348.0L314.5 348.0Z" fill="#717171" stroke="#717171" stroke-width=".5"/><path d="M321.2 349.9L314.5 348.0L314.5 351.8Z" fill="#747474" stroke="#747474" stroke-width=".5"/><polygon points="314.5,351.8 323.0,355.2 330.8,349.7 330.4,348.0 314.5,348.0" fill="none" stroke="#3a3a3a" stroke-width=".8" stroke-opacity=".35"/><path d="M339.3 345.1L330.8 349.7L335.6 353.9Z" fill="#5c5c5c" stroke="#5c5c5c" stroke-width=".5"/><path d="M339.3 345.1L335.6 353.9L344.9 351.1Z" fill="#545454" stroke="#545454" stroke-width=".5"/><path d="M339.3 345.1L344.9 351.1L345.5 348.0Z" fill="#535353" stroke="#535353" stroke-width=".5"/><path d="M339.3 345.1L345.5 348.0L330.4 348.0Z" fill="#595959" stroke="#595959" stroke-width=".5"/><path d="M339.3 345.1L330.4 348.0L330.8 349.7Z" fill="#616161" stroke="#616161" stroke-width=".5"/><polygon points="330.8,349.7 335.6,353.9 344.9,351.1 345.5,348.0 330.4,348.0" fill="none" stroke="#3a3a3a" stroke-width=".8" stroke-opacity=".35"/><path d="M352.3 347.6L344.9 351.1L352.8 356.9Z" fill="#595959" stroke="#595959" stroke-width=".5"/><path d="M352.3 347.6L352.8 356.9L357.1 354.7Z" fill="#535353" stroke="#535353" stroke-width=".5"/><path d="M352.3 347.6L357.1 354.7L359.4 348.0Z" fill="#535353" stroke="#535353" stroke-width=".5"/><path d="M352.3 347.6L359.4 348.0L345.5 348.0Z" fill="#535353" stroke="#535353" stroke-width=".5"/><path d="M352.3 347.6L345.5 348.0L344.9 351.1Z" fill="#636363" stroke="#636363" stroke-width=".5"/><polygon points="344.9,351.1 352.8,356.9 357.1,354.7 359.4,348.0 345.5,348.0" fill="none" stroke="#3a3a3a" stroke-width=".8" stroke-opacity=".35"/><path d="M365.3 352.0L371.0 348.0L359.4 348.0Z" fill="#848484" stroke="#848484" stroke-width=".5"/><path d="M365.3 352.0L359.4 348.0L357.1 354.7Z" fill="#838383" stroke="#838383" stroke-width=".5"/><path d="M365.3 352.0L357.1 354.7L368.6 360.2Z" fill="#757575" stroke="#757575" stroke-width=".5"/><path d="M365.3 352.0L368.6 360.2L375.1 354.0Z" fill="#6f6f6f" stroke="#6f6f6f" stroke-width=".5"/><path d="M365.3 352.0L375.1 354.0L371.0 348.0Z" fill="#757575" stroke="#757575" stroke-width=".5"/><polygon points="371.0,348.0 359.4,348.0 357.1,354.7 368.6,360.2 375.1,354.0" fill="none" stroke="#3a3a3a" stroke-width=".8" stroke-opacity=".35"/><path d="M376.7 344.2L386.3 351.3L386.8 348.0Z" fill="#666666" stroke="#666666" stroke-width=".5"/><path d="M376.7 344.2L386.8 348.0L371.0 348.0Z" fill="#656565" stroke="#656565" stroke-width=".5"/><path d="M376.7 344.2L371.0 348.0L375.1 354.0Z" fill="#6c6c6c" stroke="#6c6c6c" stroke-width=".5"/><path d="M376.7 344.2L375.1 354.0L382.9 354.0Z" fill="#666666" stroke="#666666" stroke-width=".5"/><path d="M376.7 344.2L382.9 354.0L386.3 351.3Z" fill="#656565" stroke="#656565" stroke-width=".5"/><polygon points="386.3,351.3 386.8,348.0 371.0,348.0 375.1,354.0 382.9,354.0" fill="none" stroke="#3a3a3a" stroke-width=".8" stroke-opacity=".35"/><path d="M397.5 347.2L401.9 351.7L401.6 348.0Z" fill="#636363" stroke="#636363" stroke-width=".5"/><path d="M397.5 347.2L401.6 348.0L386.8 348.0Z" fill="#737373" stroke="#737373" stroke-width=".5"/><path d="M397.5 347.2L386.8 348.0L386.3 351.3Z" fill="#737373" stroke="#737373" stroke-width=".5"/><path d="M397.5 347.2L386.3 351.3L391.6 353.6Z" fill="#707070" stroke="#707070" stroke-width=".5"/><path d="M397.5 347.2L391.6 353.6L401.9 351.7Z" fill="#666666" stroke="#666666" stroke-width=".5"/><polygon points="401.9,351.7 401.6,348.0 386.8,348.0 386.3,351.3 391.6,353.6" fill="none" stroke="#3a3a3a" stroke-width=".8" stroke-opacity=".35"/><path d="M405.6 346.6L401.9 351.7L408.4 355.4Z" fill="#606060" stroke="#606060" stroke-width=".5"/><path d="M405.6 346.6L408.4 355.4L412.2 352.5Z" fill="#5e5e5e" stroke="#5e5e5e" stroke-width=".5"/><path d="M405.6 346.6L412.2 352.5L413.6 348.0Z" fill="#5f5f5f" stroke="#5f5f5f" stroke-width=".5"/><path d="M405.6 346.6L413.6 348.0L401.6 348.0Z" fill="#5e5e5e" stroke="#5e5e5e" stroke-width=".5"/><path d="M405.6 346.6L401.6 348.0L401.9 351.7Z" fill="#696969" stroke="#696969" stroke-width=".5"/><polygon points="401.9,351.7 408.4,355.4 412.2,352.5 413.6,348.0 401.6,348.0" fill="none" stroke="#3a3a3a" stroke-width=".8" stroke-opacity=".35"/><path d="M420.9 351.6L423.2 358.7L427.9 350.0Z" fill="#6b6b6b" stroke="#6b6b6b" stroke-width=".5"/><path d="M420.9 351.6L427.9 350.0L427.0 348.0Z" fill="#737373" stroke="#737373" stroke-width=".5"/><path d="M420.9 351.6L427.0 348.0L413.6 348.0Z" fill="#818181" stroke="#818181" stroke-width=".5"/><path d="M420.9 351.6L413.6 348.0L412.2 352.5Z" fill="#7f7f7f" stroke="#7f7f7f" stroke-width=".5"/><path d="M420.9 351.6L412.2 352.5L423.2 358.7Z" fill="#747474" stroke="#747474" stroke-width=".5"/><polygon points="423.2,358.7 427.9,350.0 427.0,348.0 413.6,348.0 412.2,352.5" fill="none" stroke="#3a3a3a" stroke-width=".8" stroke-opacity=".35"/><path d="M433.7 345.7L427.9 350.0L439.7 353.5Z" fill="#656565" stroke="#656565" stroke-width=".5"/><path d="M433.7 345.7L439.7 353.5L441.3 352.9Z" fill="#636363" stroke="#636363" stroke-width=".5"/><path d="M433.7 345.7L441.3 352.9L442.0 348.0Z" fill="#636363" stroke="#636363" stroke-width=".5"/><path d="M433.7 345.7L442.0 348.0L427.0 348.0Z" fill="#636363" stroke="#636363" stroke-width=".5"/><path d="M433.7 345.7L427.0 348.0L427.9 350.0Z" fill="#707070" stroke="#707070" stroke-width=".5"/><polygon points="427.9,350.0 439.7,353.5 441.3,352.9 442.0,348.0 427.0,348.0" fill="none" stroke="#3a3a3a" stroke-width=".8" stroke-opacity=".35"/><path d="M450.7 348.4L459.4 348.0L442.0 348.0Z" fill="#676767" stroke="#676767" stroke-width=".5"/><path d="M450.7 348.4L442.0 348.0L441.3 352.9Z" fill="#626262" stroke="#626262" stroke-width=".5"/><path d="M450.7 348.4L441.3 352.9L448.7 358.0Z" fill="#5b5b5b" stroke="#5b5b5b" stroke-width=".5"/><path d="M450.7 348.4L448.7 358.0L458.7 352.5Z" fill="#525252" stroke="#525252" stroke-width=".5"/><path d="M450.7 348.4L458.7 352.5L459.4 348.0Z" fill="#545454" stroke="#545454" stroke-width=".5"/><polygon points="459.4,348.0 442.0,348.0 441.3,352.9 448.7,358.0 458.7,352.5" fill="none" stroke="#3a3a3a" stroke-width=".8" stroke-opacity=".35"/><path d="M467.6 350.7L475.9 354.8L472.1 348.0Z" fill="#6b6b6b" stroke="#6b6b6b" stroke-width=".5"/><path d="M467.6 350.7L472.1 348.0L459.4 348.0Z" fill="#7f7f7f" stroke="#7f7f7f" stroke-width=".5"/><path d="M467.6 350.7L459.4 348.0L458.7 352.5Z" fill="#7b7b7b" stroke="#7b7b7b" stroke-width=".5"/><path d="M467.6 350.7L458.7 352.5L461.5 355.0Z" fill="#777777" stroke="#777777" stroke-width=".5"/><path d="M467.6 350.7L461.5 355.0L475.9 354.8Z" fill="#686868" stroke="#686868" stroke-width=".5"/><polygon points="475.9,354.8 472.1,348.0 459.4,348.0 458.7,352.5 461.5,355.0" fill="none" stroke="#3a3a3a" stroke-width=".8" stroke-opacity=".35"/><path d="M476.8 345.6L478.4 356.5L484.7 351.9Z" fill="#5c5c5c" stroke="#5c5c5c" stroke-width=".5"/><path d="M476.8 345.6L484.7 351.9L486.0 348.0Z" fill="#5d5d5d" stroke="#5d5d5d" stroke-width=".5"/><path d="M476.8 345.6L486.0 348.0L472.1 348.0Z" fill="#5c5c5c" stroke="#5c5c5c" stroke-width=".5"/><path d="M476.8 345.6L472.1 348.0L475.9 354.8Z" fill="#626262" stroke="#626262" stroke-width=".5"/><path d="M476.8 345.6L475.9 354.8L478.4 356.5Z" fill="#5e5e5e" stroke="#5e5e5e" stroke-width=".5"/><polygon points="478.4,356.5 484.7,351.9 486.0,348.0 472.1,348.0 475.9,354.8" fill="none" stroke="#3a3a3a" stroke-width=".8" stroke-opacity=".35"/><path d="M494.7 351.9L484.7 351.9L495.6 359.4Z" fill="#7c7c7c" stroke="#7c7c7c" stroke-width=".5"/><path d="M494.7 351.9L495.6 359.4L499.0 354.5Z" fill="#717171" stroke="#717171" stroke-width=".5"/><path d="M494.7 351.9L499.0 354.5L499.0 352.9Z" fill="#727272" stroke="#727272" stroke-width=".5"/><path d="M494.7 351.9L499.0 352.9L497.7 348.0Z" fill="#797979" stroke="#797979" stroke-width=".5"/><path d="M494.7 351.9L497.7 348.0L486.0 348.0Z" fill="#888888" stroke="#888888" stroke-width=".5"/><path d="M494.7 351.9L486.0 348.0L484.7 351.9Z" fill="#868686" stroke="#868686" stroke-width=".5"/><polygon points="484.7,351.9 495.6,359.4 499.0,354.5 499.0,352.9 497.7,348.0 486.0,348.0" fill="none" stroke="#3a3a3a" stroke-width=".8" stroke-opacity=".35"/><path d="M502.2 349.9L499.0 352.9L499.0 348.0Z" fill="#767676" stroke="#767676" stroke-width=".5"/><path d="M502.2 349.9L499.0 348.0L497.7 348.0Z" fill="#7b7b7b" stroke="#7b7b7b" stroke-width=".5"/><path d="M502.2 349.9L497.7 348.0L499.0 352.9Z" fill="#767676" stroke="#767676" stroke-width=".5"/><polygon points="499.0,352.9 499.0,348.0 497.7,348.0" fill="none" stroke="#3a3a3a" stroke-width=".8" stroke-opacity=".35"/><path d="M277.9 361.2L271.1 353.0L268.0 355.6Z" fill="#858585" stroke="#858585" stroke-width=".5"/><path d="M277.9 361.2L268.0 355.6L268.0 364.1Z" fill="#828282" stroke="#828282" stroke-width=".5"/><path d="M277.9 361.2L268.0 364.1L274.6 369.2Z" fill="#797979" stroke="#797979" stroke-width=".5"/><path d="M277.9 361.2L274.6 369.2L281.6 367.2Z" fill="#707070" stroke="#707070" stroke-width=".5"/><path d="M277.9 361.2L281.6 367.2L283.1 356.3Z" fill="#717171" stroke="#717171" stroke-width=".5"/><path d="M277.9 361.2L283.1 356.3L271.1 353.0Z" fill="#848484" stroke="#848484" stroke-width=".5"/><polygon points="271.1,353.0 268.0,355.6 268.0,364.1 274.6,369.2 281.6,367.2 283.1,356.3" fill="none" stroke="#3a3a3a" stroke-width=".8" stroke-opacity=".35"/><path d="M286.7 362.4L294.6 355.3L289.5 353.5Z" fill="#646464" stroke="#646464" stroke-width=".5"/><path d="M286.7 362.4L289.5 353.5L283.1 356.3Z" fill="#6a6a6a" stroke="#6a6a6a" stroke-width=".5"/><path d="M286.7 362.4L283.1 356.3L281.6 367.2Z" fill="#686868" stroke="#686868" stroke-width=".5"/><path d="M286.7 362.4L281.6 367.2L288.5 370.2Z" fill="#585858" stroke="#585858" stroke-width=".5"/><path d="M286.7 362.4L288.5 370.2L295.7 359.6Z" fill="#555555" stroke="#555555" stroke-width=".5"/><path d="M286.7 362.4L295.7 359.6L294.6 355.3Z" fill="#5e5e5e" stroke="#5e5e5e" stroke-width=".5"/><polygon points="294.6,355.3 289.5,353.5 283.1,356.3 281.6,367.2 288.5,370.2 295.7,359.6" fill="none" stroke="#3a3a3a" stroke-width=".8" stroke-opacity=".35"/><path d="M304.8 357.6L311.4 365.6L311.5 355.9Z" fill="#6d6d6d" stroke="#6d6d6d" stroke-width=".5"/><path d="M304.8 357.6L311.5 355.9L299.3 351.0Z" fill="#808080" stroke="#808080" stroke-width=".5"/><path d="M304.8 357.6L299.3 351.0L294.6 355.3Z" fill="#828282" stroke="#828282" stroke-width=".5"/><path d="M304.8 357.6L294.6 355.3L295.7 359.6Z" fill="#7f7f7f" stroke="#7f7f7f" stroke-width=".5"/><path d="M304.8 357.6L295.7 359.6L305.4 366.7Z" fill="#747474" stroke="#747474" stroke-width=".5"/><path d="M304.8 357.6L305.4 366.7L311.0 366.2Z" fill="#6c6c6c" stroke="#6c6c6c" stroke-width=".5"/><path d="M304.8 357.6L311.0 366.2L311.4 365.6Z" fill="#6c6c6c" stroke="#6c6c6c" stroke-width=".5"/><polygon points="311.4,365.6 311.5,355.9 299.3,351.0 294.6,355.3 295.7,359.6 305.4,366.7 311.0,366.2" fill="none" stroke="#3a3a3a" stroke-width=".8" stroke-opacity=".35"/><path d="M318.1 357.8L311.4 365.6L322.2 363.0Z" fill="#6c6c6c" stroke="#6c6c6c" stroke-width=".5"/><path d="M318.1 357.8L322.2 363.0L323.0 355.2Z" fill="#6a6a6a" stroke="#6a6a6a" stroke-width=".5"/><path d="M318.1 357.8L323.0 355.2L314.5 351.8Z" fill="#7c7c7c" stroke="#7c7c7c" stroke-width=".5"/><path d="M318.1 357.8L314.5 351.8L311.5 355.9Z" fill="#7f7f7f" stroke="#7f7f7f" stroke-width=".5"/><path d="M318.1 357.8L311.5 355.9L311.4 365.6Z" fill="#767676" stroke="#767676" stroke-width=".5"/><polygon points="311.4,365.6 322.2,363.0 323.0,355.2 314.5,351.8 311.5,355.9" fill="none" stroke="#3a3a3a" stroke-width=".8" stroke-opacity=".35"/><path d="M327.3 358.7L330.8 349.7L323.0 355.2Z" fill="#888888" stroke="#888888" stroke-width=".5"/><path d="M327.3 358.7L323.0 355.2L322.2 363.0Z" fill="#848484" stroke="#848484" stroke-width=".5"/><path d="M327.3 358.7L322.2 363.0L329.9 367.5Z" fill="#757575" stroke="#757575" stroke-width=".5"/><path d="M327.3 358.7L329.9 367.5L335.4 364.1Z" fill="#727272" stroke="#727272" stroke-width=".5"/><path d="M327.3 358.7L335.4 364.1L335.6 353.9Z" fill="#767676" stroke="#767676" stroke-width=".5"/><path d="M327.3 358.7L335.6 353.9L330.8 349.7Z" fill="#808080" stroke="#808080" stroke-width=".5"/><polygon points="330.8,349.7 323.0,355.2 322.2,363.0 329.9,367.5 335.4,364.1 335.6,353.9" fill="none" stroke="#3a3a3a" stroke-width=".8" stroke-opacity=".35"/><path d="M343.7 359.2L352.8 356.9L344.9 351.1Z" fill="#808080" stroke="#808080" stroke-width=".5"/><path d="M343.7 359.2L344.9 351.1L335.6 353.9Z" fill="#8a8a8a" stroke="#8a8a8a" stroke-width=".5"/><path d="M343.7 359.2L335.6 353.9L335.4 364.1Z" fill="#868686" stroke="#868686" stroke-width=".5"/><path d="M343.7 359.2L335.4 364.1L345.4 368.9Z" fill="#797979" stroke="#797979" stroke-width=".5"/><path d="M343.7 359.2L345.4 368.9L351.3 363.6Z" fill="#737373" stroke="#737373" stroke-width=".5"/><path d="M343.7 359.2L351.3 363.6L352.8 356.9Z" fill="#767676" stroke="#767676" stroke-width=".5"/><polygon points="352.8,356.9 344.9,351.1 335.6,353.9 335.4,364.1 345.4,368.9 351.3,363.6" fill="none" stroke="#3a3a3a" stroke-width=".8" stroke-opacity=".35"/><path d="M360.2 362.7L368.6 360.2L357.1 354.7Z" fill="#777777" stroke="#777777" stroke-width=".5"/><path d="M360.2 362.7L357.1 354.7L352.8 356.9Z" fill="#7d7d7d" stroke="#7d7d7d" stroke-width=".5"/><path d="M360.2 362.7L352.8 356.9L351.3 363.6Z" fill="#7b7b7b" stroke="#7b7b7b" stroke-width=".5"/><path d="M360.2 362.7L351.3 363.6L361.2 369.4Z" fill="#707070" stroke="#707070" stroke-width=".5"/><path d="M360.2 362.7L361.2 369.4L368.3 365.9Z" fill="#666666" stroke="#666666" stroke-width=".5"/><path d="M360.2 362.7L368.3 365.9L368.6 360.2Z" fill="#6a6a6a" stroke="#6a6a6a" stroke-width=".5"/><polygon points="368.6,360.2 357.1,354.7 352.8,356.9 351.3,363.6 361.2,369.4 368.3,365.9" fill="none" stroke="#3a3a3a" stroke-width=".8" stroke-opacity=".35"/><path d="M376.7 363.8L382.9 354.0L375.1 354.0Z" fill="#7a7a7a" stroke="#7a7a7a" stroke-width=".5"/><path d="M376.7 363.8L375.1 354.0L368.6 360.2Z" fill="#7e7e7e" stroke="#7e7e7e" stroke-width=".5"/><path d="M376.7 363.8L368.6 360.2L368.3 365.9Z" fill="#7b7b7b" stroke="#7b7b7b" stroke-width=".5"/><path d="M376.7 363.8L368.3 365.9L371.1 368.8Z" fill="#757575" stroke="#757575" stroke-width=".5"/><path d="M376.7 363.8L371.1 368.8L384.1 366.0Z" fill="#676767" stroke="#676767" stroke-width=".5"/><path d="M376.7 363.8L384.1 366.0L382.9 354.0Z" fill="#717171" stroke="#717171" stroke-width=".5"/><polygon points="382.9,354.0 375.1,354.0 368.6,360.2 368.3,365.9 371.1,368.8 384.1,366.0" fill="none" stroke="#3a3a3a" stroke-width=".8" stroke-opacity=".35"/><path d="M390.9 362.3L386.8 369.9L397.4 366.1Z" fill="#6f6f6f" stroke="#6f6f6f" stroke-width=".5"/><path d="M390.9 362.3L397.4 366.1L398.0 364.8Z" fill="#6f6f6f" stroke="#6f6f6f" stroke-width=".5"/><path d="M390.9 362.3L398.0 364.8L391.6 353.6Z" fill="#7a7a7a" stroke="#7a7a7a" stroke-width=".5"/><path d="M390.9 362.3L391.6 353.6L386.3 351.3Z" fill="#848484" stroke="#848484" stroke-width=".5"/><path d="M390.9 362.3L386.3 351.3L382.9 354.0Z" fill="#858585" stroke="#858585" stroke-width=".5"/><path d="M390.9 362.3L382.9 354.0L384.1 366.0Z" fill="#838383" stroke="#838383" stroke-width=".5"/><path d="M390.9 362.3L384.1 366.0L386.8 369.9Z" fill="#787878" stroke="#787878" stroke-width=".5"/><polygon points="386.8,369.9 397.4,366.1 398.0,364.8 391.6,353.6 386.3,351.3 382.9,354.0 384.1,366.0" fill="none" stroke="#3a3a3a" stroke-width=".8" stroke-opacity=".35"/><path d="M399.5 357.4L398.0 364.8L407.4 360.8Z" fill="#5a5a5a" stroke="#5a5a5a" stroke-width=".5"/><path d="M399.5 357.4L407.4 360.8L408.4 355.4Z" fill="#5e5e5e" stroke="#5e5e5e" stroke-width=".5"/><path d="M399.5 357.4L408.4 355.4L401.9 351.7Z" fill="#656565" stroke="#656565" stroke-width=".5"/><path d="M399.5 357.4L401.9 351.7L391.6 353.6Z" fill="#717171" stroke="#717171" stroke-width=".5"/><path d="M399.5 357.4L391.6 353.6L398.0 364.8Z" fill="#696969" stroke="#696969" stroke-width=".5"/><polygon points="398.0,364.8 407.4,360.8 408.4,355.4 401.9,351.7 391.6,353.6" fill="none" stroke="#3a3a3a" stroke-width=".8" stroke-opacity=".35"/><path d="M416.0 360.4L424.9 365.4L423.2 358.7Z" fill="#686868" stroke="#686868" stroke-width=".5"/><path d="M416.0 360.4L423.2 358.7L412.2 352.5Z" fill="#777777" stroke="#777777" stroke-width=".5"/><path d="M416.0 360.4L412.2 352.5L408.4 355.4Z" fill="#7c7c7c" stroke="#7c7c7c" stroke-width=".5"/><path d="M416.0 360.4L408.4 355.4L407.4 360.8Z" fill="#7a7a7a" stroke="#7a7a7a" stroke-width=".5"/><path d="M416.0 360.4L407.4 360.8L412.7 368.2Z" fill="#717171" stroke="#717171" stroke-width=".5"/><path d="M416.0 360.4L412.7 368.2L424.9 365.4Z" fill="#656565" stroke="#656565" stroke-width=".5"/><polygon points="424.9,365.4 423.2,358.7 412.2,352.5 408.4,355.4 407.4,360.8 412.7,368.2" fill="none" stroke="#3a3a3a" stroke-width=".8" stroke-opacity=".35"/><path d="M430.4 356.7L429.0 368.1L430.6 367.5Z" fill="#717171" stroke="#717171" stroke-width=".5"/><path d="M430.4 356.7L430.6 367.5L439.7 353.5Z" fill="#6f6f6f" stroke="#6f6f6f" stroke-width=".5"/><path d="M430.4 356.7L439.7 353.5L427.9 350.0Z" fill="#7e7e7e" stroke="#7e7e7e" stroke-width=".5"/><path d="M430.4 356.7L427.9 350.0L423.2 358.7Z" fill="#858585" stroke="#858585" stroke-width=".5"/><path d="M430.4 356.7L423.2 358.7L424.9 365.4Z" fill="#7a7a7a" stroke="#7a7a7a" stroke-width=".5"/><path d="M430.4 356.7L424.9 365.4L429.0 368.1Z" fill="#747474" stroke="#747474" stroke-width=".5"/><polygon points="429.0,368.1 430.6,367.5 439.7,353.5 427.9,350.0 423.2,358.7 424.9,365.4" fill="none" stroke="#3a3a3a" stroke-width=".8" stroke-opacity=".35"/><path d="M440.5 363.4L448.7 358.0L441.3 352.9Z" fill="#777777" stroke="#777777" stroke-width=".5"/><path d="M440.5 363.4L441.3 352.9L439.7 353.5Z" fill="#7c7c7c" stroke="#7c7c7c" stroke-width=".5"/><path d="M440.5 363.4L439.7 353.5L430.6 367.5Z" fill="#7d7d7d" stroke="#7d7d7d" stroke-width=".5"/><path d="M440.5 363.4L430.6 367.5L444.0 370.8Z" fill="#6e6e6e" stroke="#6e6e6e" stroke-width=".5"/><path d="M440.5 363.4L444.0 370.8L449.1 361.9Z" fill="#686868" stroke="#686868" stroke-width=".5"/><path d="M440.5 363.4L449.1 361.9L448.7 358.0Z" fill="#6f6f6f" stroke="#6f6f6f" stroke-width=".5"/><polygon points="448.7,358.0 441.3,352.9 439.7,353.5 430.6,367.5 444.0,370.8 449.1,361.9" fill="none" stroke="#3a3a3a" stroke-width=".8" stroke-opacity=".35"/><path d="M457.8 361.6L464.4 367.3L461.5 355.0Z" fill="#6a6a6a" stroke="#6a6a6a" stroke-width=".5"/><path d="M457.8 361.6L461.5 355.0L458.7 352.5Z" fill="#787878" stroke="#787878" stroke-width=".5"/><path d="M457.8 361.6L458.7 352.5L448.7 358.0Z" fill="#7c7c7c" stroke="#7c7c7c" stroke-width=".5"/><path d="M457.8 361.6L448.7 358.0L449.1 361.9Z" fill="#797979" stroke="#797979" stroke-width=".5"/><path d="M457.8 361.6L449.1 361.9L460.6 369.5Z" fill="#6d6d6d" stroke="#6d6d6d" stroke-width=".5"/><path d="M457.8 361.6L460.6 369.5L464.4 367.3Z" fill="#656565" stroke="#656565" stroke-width=".5"/><polygon points="464.4,367.3 461.5,355.0 458.7,352.5 448.7,358.0 449.1,361.9 460.6,369.5" fill="none" stroke="#3a3a3a" stroke-width=".8" stroke-opacity=".35"/><path d="M467.8 359.2L468.3 367.7L478.3 357.6Z" fill="#727272" stroke="#727272" stroke-width=".5"/><path d="M467.8 359.2L478.3 357.6L478.4 356.5Z" fill="#787878" stroke="#787878" stroke-width=".5"/><path d="M467.8 359.2L478.4 356.5L475.9 354.8Z" fill="#7a7a7a" stroke="#7a7a7a" stroke-width=".5"/><path d="M467.8 359.2L475.9 354.8L461.5 355.0Z" fill="#858585" stroke="#858585" stroke-width=".5"/><path d="M467.8 359.2L461.5 355.0L464.4 367.3Z" fill="#808080" stroke="#808080" stroke-width=".5"/><path d="M467.8 359.2L464.4 367.3L468.3 367.7Z" fill="#757575" stroke="#757575" stroke-width=".5"/><polygon points="468.3,367.7 478.3,357.6 478.4,356.5 475.9,354.8 461.5,355.0 464.4,367.3" fill="none" stroke="#3a3a3a" stroke-width=".8" stroke-opacity=".35"/><path d="M488.3 361.2L496.6 363.3L495.6 359.4Z" fill="#7b7b7b" stroke="#7b7b7b" stroke-width=".5"/><path d="M488.3 361.2L495.6 359.4L484.7 351.9Z" fill="#898989" stroke="#898989" stroke-width=".5"/><path d="M488.3 361.2L484.7 351.9L478.4 356.5Z" fill="#8e8e8e" stroke="#8e8e8e" stroke-width=".5"/><path d="M488.3 361.2L478.4 356.5L478.3 357.6Z" fill="#8d8d8d" stroke="#8d8d8d" stroke-width=".5"/><path d="M488.3 361.2L478.3 357.6L484.2 367.4Z" fill="#888888" stroke="#888888" stroke-width=".5"/><path d="M488.3 361.2L484.2 367.4L496.3 363.7Z" fill="#777777" stroke="#777777" stroke-width=".5"/><path d="M488.3 361.2L496.3 363.7L496.6 363.3Z" fill="#797979" stroke="#797979" stroke-width=".5"/><polygon points="496.6,363.3 495.6,359.4 484.7,351.9 478.4,356.5 478.3,357.6 484.2,367.4 496.3,363.7" fill="none" stroke="#3a3a3a" stroke-width=".8" stroke-opacity=".35"/><path d="M502.9 357.6L495.6 359.4L496.6 363.3Z" fill="#676767" stroke="#676767" stroke-width=".5"/><path d="M502.9 357.6L496.6 363.3L499.0 363.2Z" fill="#636363" stroke="#636363" stroke-width=".5"/><path d="M502.9 357.6L499.0 363.2L499.0 354.5Z" fill="#696969" stroke="#696969" stroke-width=".5"/><path d="M502.9 357.6L499.0 354.5L495.6 359.4Z" fill="#6e6e6e" stroke="#6e6e6e" stroke-width=".5"/><polygon points="495.6,359.4 496.6,363.3 499.0,363.2 499.0,354.5" fill="none" stroke="#3a3a3a" stroke-width=".8" stroke-opacity=".35"/><path d="M267.6 374.4L274.6 379.0L274.6 369.2Z" fill="#575757" stroke="#575757" stroke-width=".5"/><path d="M267.6 374.4L274.6 369.2L268.0 364.1Z" fill="#636363" stroke="#636363" stroke-width=".5"/><path d="M267.6 374.4L268.0 364.1L268.0 381.3Z" fill="#656565" stroke="#656565" stroke-width=".5"/><path d="M267.6 374.4L268.0 381.3L274.6 379.0Z" fill="#525252" stroke="#525252" stroke-width=".5"/><polygon points="274.6,379.0 274.6,369.2 268.0,364.1 268.0,381.3" fill="none" stroke="#3a3a3a" stroke-width=".8" stroke-opacity=".35"/><path d="M281.6 374.3L290.9 376.9L288.5 370.2Z" fill="#6d6d6d" stroke="#6d6d6d" stroke-width=".5"/><path d="M281.6 374.3L288.5 370.2L281.6 367.2Z" fill="#787878" stroke="#787878" stroke-width=".5"/><path d="M281.6 374.3L281.6 367.2L274.6 369.2Z" fill="#7f7f7f" stroke="#7f7f7f" stroke-width=".5"/><path d="M281.6 374.3L274.6 369.2L274.6 379.0Z" fill="#7b7b7b" stroke="#7b7b7b" stroke-width=".5"/><path d="M281.6 374.3L274.6 379.0L278.0 381.6Z" fill="#717171" stroke="#717171" stroke-width=".5"/><path d="M281.6 374.3L278.0 381.6L290.9 376.9Z" fill="#686868" stroke="#686868" stroke-width=".5"/><polygon points="290.9,376.9 288.5,370.2 281.6,367.2 274.6,369.2 274.6,379.0 278.0,381.6" fill="none" stroke="#3a3a3a" stroke-width=".8" stroke-opacity=".35"/><path d="M296.5 368.9L295.7 359.6L288.5 370.2Z" fill="#6c6c6c" stroke="#6c6c6c" stroke-width=".5"/><path d="M296.5 368.9L288.5 370.2L290.9 376.9Z" fill="#616161" stroke="#616161" stroke-width=".5"/><path d="M296.5 368.9L290.9 376.9L291.8 377.5Z" fill="#5c5c5c" stroke="#5c5c5c" stroke-width=".5"/><path d="M296.5 368.9L291.8 377.5L300.1 374.8Z" fill="#585858" stroke="#585858" stroke-width=".5"/><path d="M296.5 368.9L300.1 374.8L305.4 366.7Z" fill="#575757" stroke="#575757" stroke-width=".5"/><path d="M296.5 368.9L305.4 366.7L295.7 359.6Z" fill="#646464" stroke="#646464" stroke-width=".5"/><polygon points="295.7,359.6 288.5,370.2 290.9,376.9 291.8,377.5 300.1,374.8 305.4,366.7" fill="none" stroke="#3a3a3a" stroke-width=".8" stroke-opacity=".35"/><path d="M306.8 375.9L305.4 366.7L300.1 374.8Z" fill="#8d8d8d" stroke="#8d8d8d" stroke-width=".5"/><path d="M306.8 375.9L300.1 374.8L310.0 385.4Z" fill="#7b7b7b" stroke="#7b7b7b" stroke-width=".5"/><path d="M306.8 375.9L310.0 385.4L315.1 375.4Z" fill="#767676" stroke="#767676" stroke-width=".5"/><path d="M306.8 375.9L315.1 375.4L311.0 366.2Z" fill="#828282" stroke="#828282" stroke-width=".5"/><path d="M306.8 375.9L311.0 366.2L305.4 366.7Z" fill="#8a8a8a" stroke="#8a8a8a" stroke-width=".5"/><polygon points="305.4,366.7 300.1,374.8 310.0,385.4 315.1,375.4 311.0,366.2" fill="none" stroke="#3a3a3a" stroke-width=".8" stroke-opacity=".35"/><path d="M321.0 369.6L315.1 375.4L324.9 376.5Z" fill="#656565" stroke="#656565" stroke-width=".5"/><path d="M321.0 369.6L324.9 376.5L328.0 374.9Z" fill="#626262" stroke="#626262" stroke-width=".5"/><path d="M321.0 369.6L328.0 374.9L329.9 367.5Z" fill="#656565" stroke="#656565" stroke-width=".5"/><path d="M321.0 369.6L329.9 367.5L322.2 363.0Z" fill="#6e6e6e" stroke="#6e6e6e" stroke-width=".5"/><path d="M321.0 369.6L322.2 363.0L311.4 365.6Z" fill="#797979" stroke="#797979" stroke-width=".5"/><path d="M321.0 369.6L311.4 365.6L311.0 366.2Z" fill="#787878" stroke="#787878" stroke-width=".5"/><path d="M321.0 369.6L311.0 366.2L315.1 375.4Z" fill="#737373" stroke="#737373" stroke-width=".5"/><polygon points="315.1,375.4 324.9,376.5 328.0,374.9 329.9,367.5 322.2,363.0 311.4,365.6 311.0,366.2" fill="none" stroke="#3a3a3a" stroke-width=".8" stroke-opacity=".35"/><path d="M336.7 373.7L335.4 364.1L329.9 367.5Z" fill="#7c7c7c" stroke="#7c7c7c" stroke-width=".5"/><path d="M336.7 373.7L329.9 367.5L328.0 374.9Z" fill="#7a7a7a" stroke="#7a7a7a" stroke-width=".5"/><path d="M336.7 373.7L328.0 374.9L337.5 382.8Z" fill="#6d6d6d" stroke="#6d6d6d" stroke-width=".5"/><path d="M336.7 373.7L337.5 382.8L346.0 374.8Z" fill="#656565" stroke="#656565" stroke-width=".5"/><path d="M336.7 373.7L346.0 374.8L345.4 368.9Z" fill="#6b6b6b" stroke="#6b6b6b" stroke-width=".5"/><path d="M336.7 373.7L345.4 368.9L335.4 364.1Z" fill="#767676" stroke="#767676" stroke-width=".5"/><polygon points="335.4,364.1 329.9,367.5 328.0,374.9 337.5,382.8 346.0,374.8 345.4,368.9" fill="none" stroke="#3a3a3a" stroke-width=".8" stroke-opacity=".35"/><path d="M354.8 371.8L361.2 369.4L351.3 363.6Z" fill="#838383" stroke="#838383" stroke-width=".5"/><path d="M354.8 371.8L351.3 363.6L345.4 368.9Z" fill="#878787" stroke="#878787" stroke-width=".5"/><path d="M354.8 371.8L345.4 368.9L346.0 374.8Z" fill="#838383" stroke="#838383" stroke-width=".5"/><path d="M354.8 371.8L346.0 374.8L354.0 380.2Z" fill="#797979" stroke="#797979" stroke-width=".5"/><path d="M354.8 371.8L354.0 380.2L359.6 376.8Z" fill="#707070" stroke="#707070" stroke-width=".5"/><path d="M354.8 371.8L359.6 376.8L361.2 369.4Z" fill="#727272" stroke="#727272" stroke-width=".5"/><polygon points="361.2,369.4 351.3,363.6 345.4,368.9 346.0,374.8 354.0,380.2 359.6,376.8" fill="none" stroke="#3a3a3a" stroke-width=".8" stroke-opacity=".35"/><path d="M366.0 374.3L368.3 365.9L361.2 369.4Z" fill="#888888" stroke="#888888" stroke-width=".5"/><path d="M366.0 374.3L361.2 369.4L359.6 376.8Z" fill="#878787" stroke="#878787" stroke-width=".5"/><path d="M366.0 374.3L359.6 376.8L368.4 380.8Z" fill="#787878" stroke="#787878" stroke-width=".5"/><path d="M366.0 374.3L368.4 380.8L373.4 377.6Z" fill="#727272" stroke="#727272" stroke-width=".5"/><path d="M366.0 374.3L373.4 377.6L371.1 368.8Z" fill="#787878" stroke="#787878" stroke-width=".5"/><path d="M366.0 374.3L371.1 368.8L368.3 365.9Z" fill="#838383" stroke="#838383" stroke-width=".5"/><polygon points="368.3,365.9 361.2,369.4 359.6,376.8 368.4,380.8 373.4,377.6 371.1,368.8" fill="none" stroke="#3a3a3a" stroke-width=".8" stroke-opacity=".35"/><path d="M378.2 371.0L371.1 368.8L373.4 377.6Z" fill="#646464" stroke="#646464" stroke-width=".5"/><path d="M378.2 371.0L373.4 377.6L379.9 379.8Z" fill="#585858" stroke="#585858" stroke-width=".5"/><path d="M378.2 371.0L379.9 379.8L386.0 376.3Z" fill="#555555" stroke="#555555" stroke-width=".5"/><path d="M378.2 371.0L386.0 376.3L386.8 369.9Z" fill="#575757" stroke="#575757" stroke-width=".5"/><path d="M378.2 371.0L386.8 369.9L384.1 366.0Z" fill="#5e5e5e" stroke="#5e5e5e" stroke-width=".5"/><path d="M378.2 371.0L384.1 366.0L371.1 368.8Z" fill="#6b6b6b" stroke="#6b6b6b" stroke-width=".5"/><polygon points="371.1,368.8 373.4,377.6 379.9,379.8 386.0,376.3 386.8,369.9 384.1,366.0" fill="none" stroke="#3a3a3a" stroke-width=".8" stroke-opacity=".35"/><path d="M394.9 373.1L386.0 376.3L392.8 380.7Z" fill="#6c6c6c" stroke="#6c6c6c" stroke-width=".5"/><path d="M394.9 373.1L392.8 380.7L401.2 374.6Z" fill="#626262" stroke="#626262" stroke-width=".5"/><path d="M394.9 373.1L401.2 374.6L397.4 366.1Z" fill="#6c6c6c" stroke="#6c6c6c" stroke-width=".5"/><path d="M394.9 373.1L397.4 366.1L386.8 369.9Z" fill="#797979" stroke="#797979" stroke-width=".5"/><path d="M394.9 373.1L386.8 369.9L386.0 376.3Z" fill="#757575" stroke="#757575" stroke-width=".5"/><polygon points="386.0,376.3 392.8,380.7 401.2,374.6 397.4,366.1 386.8,369.9" fill="none" stroke="#3a3a3a" stroke-width=".8" stroke-opacity=".35"/><path d="M404.3 368.9L401.2 374.6L409.4 377.0Z" fill="#585858" stroke="#585858" stroke-width=".5"/><path d="M404.3 368.9L409.4 377.0L409.9 376.8Z" fill="#575757" stroke="#575757" stroke-width=".5"/><path d="M404.3 368.9L409.9 376.8L412.7 368.2Z" fill="#585858" stroke="#585858" stroke-width=".5"/><path d="M404.3 368.9L412.7 368.2L407.4 360.8Z" fill="#636363" stroke="#636363" stroke-width=".5"/><path d="M404.3 368.9L407.4 360.8L398.0 364.8Z" fill="#6e6e6e" stroke="#6e6e6e" stroke-width=".5"/><path d="M404.3 368.9L398.0 364.8L397.4 366.1Z" fill="#6d6d6d" stroke="#6d6d6d" stroke-width=".5"/><path d="M404.3 368.9L397.4 366.1L401.2 374.6Z" fill="#676767" stroke="#676767" stroke-width=".5"/><polygon points="401.2,374.6 409.4,377.0 409.9,376.8 412.7,368.2 407.4,360.8 398.0,364.8 397.4,366.1" fill="none" stroke="#3a3a3a" stroke-width=".8" stroke-opacity=".35"/><path d="M419.1 373.8L428.0 378.1L429.0 368.1Z" fill="#676767" stroke="#676767" stroke-width=".5"/><path d="M419.1 373.8L429.0 368.1L424.9 365.4Z" fill="#6f6f6f" stroke="#6f6f6f" stroke-width=".5"/><path d="M419.1 373.8L424.9 365.4L412.7 368.2Z" fill="#777777" stroke="#777777" stroke-width=".5"/><path d="M419.1 373.8L412.7 368.2L409.9 376.8Z" fill="#767676" stroke="#767676" stroke-width=".5"/><path d="M419.1 373.8L409.9 376.8L421.7 383.5Z" fill="#686868" stroke="#686868" stroke-width=".5"/><path d="M419.1 373.8L421.7 383.5L428.0 378.1Z" fill="#626262" stroke="#626262" stroke-width=".5"/><polygon points="428.0,378.1 429.0,368.1 424.9,365.4 412.7,368.2 409.9,376.8 421.7,383.5" fill="none" stroke="#3a3a3a" stroke-width=".8" stroke-opacity=".35"/><path d="M437.5 375.8L444.0 370.8L430.6 367.5Z" fill="#6a6a6a" stroke="#6a6a6a" stroke-width=".5"/><path d="M437.5 375.8L430.6 367.5L429.0 368.1Z" fill="#6c6c6c" stroke="#6c6c6c" stroke-width=".5"/><path d="M437.5 375.8L429.0 368.1L428.0 378.1Z" fill="#6a6a6a" stroke="#6a6a6a" stroke-width=".5"/><path d="M437.5 375.8L428.0 378.1L437.1 383.3Z" fill="#5f5f5f" stroke="#5f5f5f" stroke-width=".5"/><path d="M437.5 375.8L437.1 383.3L446.1 376.2Z" fill="#555555" stroke="#555555" stroke-width=".5"/><path d="M437.5 375.8L446.1 376.2L444.0 370.8Z" fill="#5c5c5c" stroke="#5c5c5c" stroke-width=".5"/><polygon points="444.0,370.8 430.6,367.5 429.0,368.1 428.0,378.1 437.1,383.3 446.1,376.2" fill="none" stroke="#3a3a3a" stroke-width=".8" stroke-opacity=".35"/><path d="M452.1 370.0L460.6 369.5L449.1 361.9Z" fill="#838383" stroke="#838383" stroke-width=".5"/><path d="M452.1 370.0L449.1 361.9L444.0 370.8Z" fill="#8a8a8a" stroke="#8a8a8a" stroke-width=".5"/><path d="M452.1 370.0L444.0 370.8L446.1 376.2Z" fill="#818181" stroke="#818181" stroke-width=".5"/><path d="M452.1 370.0L446.1 376.2L451.0 378.7Z" fill="#797979" stroke="#797979" stroke-width=".5"/><path d="M452.1 370.0L451.0 378.7L457.1 377.9Z" fill="#747474" stroke="#747474" stroke-width=".5"/><path d="M452.1 370.0L457.1 377.9L460.6 369.5Z" fill="#747474" stroke="#747474" stroke-width=".5"/><polygon points="460.6,369.5 449.1,361.9 444.0,370.8 446.1,376.2 451.0,378.7 457.1,377.9" fill="none" stroke="#3a3a3a" stroke-width=".8" stroke-opacity=".35"/><path d="M466.1 375.9L475.2 377.1L468.3 367.7Z" fill="#686868" stroke="#686868" stroke-width=".5"/><path d="M466.1 375.9L468.3 367.7L464.4 367.3Z" fill="#737373" stroke="#737373" stroke-width=".5"/><path d="M466.1 375.9L464.4 367.3L460.6 369.5Z" fill="#757575" stroke="#757575" stroke-width=".5"/><path d="M466.1 375.9L460.6 369.5L457.1 377.9Z" fill="#737373" stroke="#737373" stroke-width=".5"/><path d="M466.1 375.9L457.1 377.9L460.2 381.3Z" fill="#6c6c6c" stroke="#6c6c6c" stroke-width=".5"/><path d="M466.1 375.9L460.2 381.3L474.9 377.7Z" fill="#5e5e5e" stroke="#5e5e5e" stroke-width=".5"/><path d="M466.1 375.9L474.9 377.7L475.2 377.1Z" fill="#616161" stroke="#616161" stroke-width=".5"/><polygon points="475.2,377.1 468.3,367.7 464.4,367.3 460.6,369.5 457.1,377.9 460.2,381.3 474.9,377.7" fill="none" stroke="#3a3a3a" stroke-width=".8" stroke-opacity=".35"/><path d="M476.8 368.1L483.1 374.3L484.2 367.4Z" fill="#606060" stroke="#606060" stroke-width=".5"/><path d="M476.8 368.1L484.2 367.4L478.3 357.6Z" fill="#6e6e6e" stroke="#6e6e6e" stroke-width=".5"/><path d="M476.8 368.1L478.3 357.6L468.3 367.7Z" fill="#767676" stroke="#767676" stroke-width=".5"/><path d="M476.8 368.1L468.3 367.7L475.2 377.1Z" fill="#6a6a6a" stroke="#6a6a6a" stroke-width=".5"/><path d="M476.8 368.1L475.2 377.1L483.1 374.3Z" fill="#5f5f5f" stroke="#5f5f5f" stroke-width=".5"/><polygon points="483.1,374.3 484.2,367.4 478.3,357.6 468.3,367.7 475.2,377.1" fill="none" stroke="#3a3a3a" stroke-width=".8" stroke-opacity=".35"/><path d="M491.0 370.3L498.1 374.9L496.3 363.7Z" fill="#797979" stroke="#797979" stroke-width=".5"/><path d="M491.0 370.3L496.3 363.7L484.2 367.4Z" fill="#898989" stroke="#898989" stroke-width=".5"/><path d="M491.0 370.3L484.2 367.4L483.1 374.3Z" fill="#858585" stroke="#858585" stroke-width=".5"/><path d="M491.0 370.3L483.1 374.3L489.9 379.0Z" fill="#7b7b7b" stroke="#7b7b7b" stroke-width=".5"/><path d="M491.0 370.3L489.9 379.0L498.1 374.9Z" fill="#737373" stroke="#737373" stroke-width=".5"/><polygon points="498.1,374.9 496.3,363.7 484.2,367.4 483.1,374.3 489.9,379.0" fill="none" stroke="#3a3a3a" stroke-width=".8" stroke-opacity=".35"/><path d="M503.4 368.4L496.6 363.3L496.3 363.7Z" fill="#878787" stroke="#878787" stroke-width=".5"/><path d="M503.4 368.4L496.3 363.7L498.1 374.9Z" fill="#818181" stroke="#818181" stroke-width=".5"/><path d="M503.4 368.4L498.1 374.9L499.0 375.3Z" fill="#787878" stroke="#787878" stroke-width=".5"/><path d="M503.4 368.4L499.0 375.3L499.0 363.2Z" fill="#818181" stroke="#818181" stroke-width=".5"/><path d="M503.4 368.4L499.0 363.2L496.6 363.3Z" fill="#878787" stroke="#878787" stroke-width=".5"/><polygon points="496.6,363.3 496.3,363.7 498.1,374.9 499.0,375.3 499.0,363.2" fill="none" stroke="#3a3a3a" stroke-width=".8" stroke-opacity=".35"/><path d="M272.0 386.9L275.6 392.8L279.3 390.2Z" fill="#5d5d5d" stroke="#5d5d5d" stroke-width=".5"/><path d="M272.0 386.9L279.3 390.2L278.0 381.6Z" fill="#636363" stroke="#636363" stroke-width=".5"/><path d="M272.0 386.9L278.0 381.6L274.6 379.0Z" fill="#6d6d6d" stroke="#6d6d6d" stroke-width=".5"/><path d="M272.0 386.9L274.6 379.0L268.0 381.3Z" fill="#737373" stroke="#737373" stroke-width=".5"/><path d="M272.0 386.9L268.0 381.3L268.0 390.9Z" fill="#717171" stroke="#717171" stroke-width=".5"/><path d="M272.0 386.9L268.0 390.9L275.6 392.8Z" fill="#5f5f5f" stroke="#5f5f5f" stroke-width=".5"/><polygon points="275.6,392.8 279.3,390.2 278.0,381.6 274.6,379.0 268.0,381.3 268.0,390.9" fill="none" stroke="#3a3a3a" stroke-width=".8" stroke-opacity=".35"/><path d="M285.4 384.9L291.8 377.5L290.9 376.9Z" fill="#727272" stroke="#727272" stroke-width=".5"/><path d="M285.4 384.9L290.9 376.9L278.0 381.6Z" fill="#797979" stroke="#797979" stroke-width=".5"/><path d="M285.4 384.9L278.0 381.6L279.3 390.2Z" fill="#747474" stroke="#747474" stroke-width=".5"/><path d="M285.4 384.9L279.3 390.2L289.0 394.2Z" fill="#666666" stroke="#666666" stroke-width=".5"/><path d="M285.4 384.9L289.0 394.2L294.4 389.3Z" fill="#636363" stroke="#636363" stroke-width=".5"/><path d="M285.4 384.9L294.4 389.3L291.8 377.5Z" fill="#696969" stroke="#696969" stroke-width=".5"/><polygon points="291.8,377.5 290.9,376.9 278.0,381.6 279.3,390.2 289.0,394.2 294.4,389.3" fill="none" stroke="#3a3a3a" stroke-width=".8" stroke-opacity=".35"/><path d="M300.7 381.5L291.8 377.5L294.4 389.3Z" fill="#7a7a7a" stroke="#7a7a7a" stroke-width=".5"/><path d="M300.7 381.5L294.4 389.3L300.6 390.3Z" fill="#6f6f6f" stroke="#6f6f6f" stroke-width=".5"/><path d="M300.7 381.5L300.6 390.3L309.9 386.9Z" fill="#6a6a6a" stroke="#6a6a6a" stroke-width=".5"/><path d="M300.7 381.5L309.9 386.9L310.0 385.4Z" fill="#6b6b6b" stroke="#6b6b6b" stroke-width=".5"/><path d="M300.7 381.5L310.0 385.4L300.1 374.8Z" fill="#727272" stroke="#727272" stroke-width=".5"/><path d="M300.7 381.5L300.1 374.8L291.8 377.5Z" fill="#818181" stroke="#818181" stroke-width=".5"/><polygon points="291.8,377.5 294.4,389.3 300.6,390.3 309.9,386.9 310.0,385.4 300.1,374.8" fill="none" stroke="#3a3a3a" stroke-width=".8" stroke-opacity=".35"/><path d="M319.6 382.4L323.3 388.3L324.9 376.5Z" fill="#5b5b5b" stroke="#5b5b5b" stroke-width=".5"/><path d="M319.6 382.4L324.9 376.5L315.1 375.4Z" fill="#6c6c6c" stroke="#6c6c6c" stroke-width=".5"/><path d="M319.6 382.4L315.1 375.4L310.0 385.4Z" fill="#6c6c6c" stroke="#6c6c6c" stroke-width=".5"/><path d="M319.6 382.4L310.0 385.4L309.9 386.9Z" fill="#666666" stroke="#666666" stroke-width=".5"/><path d="M319.6 382.4L309.9 386.9L316.3 392.8Z" fill="#606060" stroke="#606060" stroke-width=".5"/><path d="M319.6 382.4L316.3 392.8L323.3 388.3Z" fill="#595959" stroke="#595959" stroke-width=".5"/><polygon points="323.3,388.3 324.9,376.5 315.1,375.4 310.0,385.4 309.9,386.9 316.3,392.8" fill="none" stroke="#3a3a3a" stroke-width=".8" stroke-opacity=".35"/><path d="M328.5 383.6L334.8 389.7L337.4 388.5Z" fill="#555555" stroke="#555555" stroke-width=".5"/><path d="M328.5 383.6L337.4 388.5L337.5 382.8Z" fill="#575757" stroke="#575757" stroke-width=".5"/><path d="M328.5 383.6L337.5 382.8L328.0 374.9Z" fill="#636363" stroke="#636363" stroke-width=".5"/><path d="M328.5 383.6L328.0 374.9L324.9 376.5Z" fill="#6c6c6c" stroke="#6c6c6c" stroke-width=".5"/><path d="M328.5 383.6L324.9 376.5L323.3 388.3Z" fill="#6a6a6a" stroke="#6a6a6a" stroke-width=".5"/><path d="M328.5 383.6L323.3 388.3L334.8 389.7Z" fill="#565656" stroke="#565656" stroke-width=".5"/><polygon points="334.8,389.7 337.4,388.5 337.5,382.8 328.0,374.9 324.9,376.5 323.3,388.3" fill="none" stroke="#3a3a3a" stroke-width=".8" stroke-opacity=".35"/><path d="M346.6 384.2L354.0 380.2L346.0 374.8Z" fill="#838383" stroke="#838383" stroke-width=".5"/><path d="M346.6 384.2L346.0 374.8L337.5 382.8Z" fill="#898989" stroke="#898989" stroke-width=".5"/><path d="M346.6 384.2L337.5 382.8L337.4 388.5Z" fill="#838383" stroke="#838383" stroke-width=".5"/><path d="M346.6 384.2L337.4 388.5L342.3 392.3Z" fill="#7c7c7c" stroke="#7c7c7c" stroke-width=".5"/><path d="M346.6 384.2L342.3 392.3L354.5 387.4Z" fill="#727272" stroke="#727272" stroke-width=".5"/><path d="M346.6 384.2L354.5 387.4L354.0 380.2Z" fill="#777777" stroke="#777777" stroke-width=".5"/><polygon points="354.0,380.2 346.0,374.8 337.5,382.8 337.4,388.5 342.3,392.3 354.5,387.4" fill="none" stroke="#3a3a3a" stroke-width=".8" stroke-opacity=".35"/><path d="M361.9 383.2L359.6 376.8L354.0 380.2Z" fill="#6d6d6d" stroke="#6d6d6d" stroke-width=".5"/><path d="M361.9 383.2L354.0 380.2L354.5 387.4Z" fill="#686868" stroke="#686868" stroke-width=".5"/><path d="M361.9 383.2L354.5 387.4L359.7 392.2Z" fill="#5e5e5e" stroke="#5e5e5e" stroke-width=".5"/><path d="M361.9 383.2L359.7 392.2L366.7 388.3Z" fill="#575757" stroke="#575757" stroke-width=".5"/><path d="M361.9 383.2L366.7 388.3L368.4 380.8Z" fill="#585858" stroke="#585858" stroke-width=".5"/><path d="M361.9 383.2L368.4 380.8L359.6 376.8Z" fill="#676767" stroke="#676767" stroke-width=".5"/><polygon points="359.6,376.8 354.0,380.2 354.5,387.4 359.7,392.2 366.7,388.3 368.4,380.8" fill="none" stroke="#3a3a3a" stroke-width=".8" stroke-opacity=".35"/><path d="M373.2 385.7L373.4 377.6L368.4 380.8Z" fill="#838383" stroke="#838383" stroke-width=".5"/><path d="M373.2 385.7L368.4 380.8L366.7 388.3Z" fill="#818181" stroke="#818181" stroke-width=".5"/><path d="M373.2 385.7L366.7 388.3L372.6 391.3Z" fill="#757575" stroke="#757575" stroke-width=".5"/><path d="M373.2 385.7L372.6 391.3L379.9 387.2Z" fill="#6c6c6c" stroke="#6c6c6c" stroke-width=".5"/><path d="M373.2 385.7L379.9 387.2L379.9 379.8Z" fill="#747474" stroke="#747474" stroke-width=".5"/><path d="M373.2 385.7L379.9 379.8L373.4 377.6Z" fill="#7d7d7d" stroke="#7d7d7d" stroke-width=".5"/><polygon points="373.4,377.6 368.4,380.8 366.7,388.3 372.6,391.3 379.9,387.2 379.9,379.8" fill="none" stroke="#3a3a3a" stroke-width=".8" stroke-opacity=".35"/><path d="M386.7 385.7L379.9 379.8L379.9 387.2Z" fill="#828282" stroke="#828282" stroke-width=".5"/><path d="M386.7 385.7L379.9 387.2L385.7 393.7Z" fill="#767676" stroke="#767676" stroke-width=".5"/><path d="M386.7 385.7L385.7 393.7L395.5 388.7Z" fill="#6d6d6d" stroke="#6d6d6d" stroke-width=".5"/><path d="M386.7 385.7L395.5 388.7L392.8 380.7Z" fill="#737373" stroke="#737373" stroke-width=".5"/><path d="M386.7 385.7L392.8 380.7L386.0 376.3Z" fill="#7f7f7f" stroke="#7f7f7f" stroke-width=".5"/><path d="M386.7 385.7L386.0 376.3L379.9 379.8Z" fill="#848484" stroke="#848484" stroke-width=".5"/><polygon points="379.9,379.8 379.9,387.2 385.7,393.7 395.5,388.7 392.8,380.7 386.0,376.3" fill="none" stroke="#3a3a3a" stroke-width=".8" stroke-opacity=".35"/><path d="M400.7 381.1L392.8 380.7L395.5 388.7Z" fill="#747474" stroke="#747474" stroke-width=".5"/><path d="M400.7 381.1L395.5 388.7L400.1 391.0Z" fill="#6c6c6c" stroke="#6c6c6c" stroke-width=".5"/><path d="M400.7 381.1L400.1 391.0L403.6 389.7Z" fill="#686868" stroke="#686868" stroke-width=".5"/><path d="M400.7 381.1L403.6 389.7L409.4 377.0Z" fill="#686868" stroke="#686868" stroke-width=".5"/><path d="M400.7 381.1L409.4 377.0L401.2 374.6Z" fill="#757575" stroke="#757575" stroke-width=".5"/><path d="M400.7 381.1L401.2 374.6L392.8 380.7Z" fill="#7e7e7e" stroke="#7e7e7e" stroke-width=".5"/><polygon points="392.8,380.7 395.5,388.7 400.1,391.0 403.6,389.7 409.4,377.0 401.2,374.6" fill="none" stroke="#3a3a3a" stroke-width=".8" stroke-opacity=".35"/><path d="M412.0 386.3L411.7 393.2L421.6 384.7Z" fill="#5d5d5d" stroke="#5d5d5d" stroke-width=".5"/><path d="M412.0 386.3L421.6 384.7L421.7 383.5Z" fill="#646464" stroke="#646464" stroke-width=".5"/><path d="M412.0 386.3L421.7 383.5L409.9 376.8Z" fill="#6d6d6d" stroke="#6d6d6d" stroke-width=".5"/><path d="M412.0 386.3L409.9 376.8L409.4 377.0Z" fill="#747474" stroke="#747474" stroke-width=".5"/><path d="M412.0 386.3L409.4 377.0L403.6 389.7Z" fill="#737373" stroke="#737373" stroke-width=".5"/><path d="M412.0 386.3L403.6 389.7L411.7 393.2Z" fill="#666666" stroke="#666666" stroke-width=".5"/><polygon points="411.7,393.2 421.6,384.7 421.7,383.5 409.9,376.8 409.4,377.0 403.6,389.7" fill="none" stroke="#3a3a3a" stroke-width=".8" stroke-opacity=".35"/><path d="M431.0 387.5L421.6 384.7L427.6 396.3Z" fill="#808080" stroke="#808080" stroke-width=".5"/><path d="M431.0 387.5L427.6 396.3L438.3 388.6Z" fill="#727272" stroke="#727272" stroke-width=".5"/><path d="M431.0 387.5L438.3 388.6L437.1 383.3Z" fill="#797979" stroke="#797979" stroke-width=".5"/><path d="M431.0 387.5L437.1 383.3L428.0 378.1Z" fill="#858585" stroke="#858585" stroke-width=".5"/><path d="M431.0 387.5L428.0 378.1L421.7 383.5Z" fill="#898989" stroke="#898989" stroke-width=".5"/><path d="M431.0 387.5L421.7 383.5L421.6 384.7Z" fill="#888888" stroke="#888888" stroke-width=".5"/><polygon points="421.6,384.7 427.6,396.3 438.3,388.6 437.1,383.3 428.0,378.1 421.7,383.5" fill="none" stroke="#3a3a3a" stroke-width=".8" stroke-opacity=".35"/><path d="M444.5 384.6L448.1 391.8L451.0 378.7Z" fill="#727272" stroke="#727272" stroke-width=".5"/><path d="M444.5 384.6L451.0 378.7L446.1 376.2Z" fill="#7f7f7f" stroke="#7f7f7f" stroke-width=".5"/><path d="M444.5 384.6L446.1 376.2L437.1 383.3Z" fill="#868686" stroke="#868686" stroke-width=".5"/><path d="M444.5 384.6L437.1 383.3L438.3 388.6Z" fill="#808080" stroke="#808080" stroke-width=".5"/><path d="M444.5 384.6L438.3 388.6L444.8 393.0Z" fill="#757575" stroke="#757575" stroke-width=".5"/><path d="M444.5 384.6L444.8 393.0L448.1 391.8Z" fill="#6f6f6f" stroke="#6f6f6f" stroke-width=".5"/><polygon points="448.1,391.8 451.0,378.7 446.1,376.2 437.1,383.3 438.3,388.6 444.8,393.0" fill="none" stroke="#3a3a3a" stroke-width=".8" stroke-opacity=".35"/><path d="M454.3 386.8L457.1 377.9L451.0 378.7Z" fill="#676767" stroke="#676767" stroke-width=".5"/><path d="M454.3 386.8L451.0 378.7L448.1 391.8Z" fill="#676767" stroke="#676767" stroke-width=".5"/><path d="M454.3 386.8L448.1 391.8L454.9 394.1Z" fill="#585858" stroke="#585858" stroke-width=".5"/><path d="M454.3 386.8L454.9 394.1L461.5 386.4Z" fill="#525252" stroke="#525252" stroke-width=".5"/><path d="M454.3 386.8L461.5 386.4L460.2 381.3Z" fill="#5b5b5b" stroke="#5b5b5b" stroke-width=".5"/><path d="M454.3 386.8L460.2 381.3L457.1 377.9Z" fill="#626262" stroke="#626262" stroke-width=".5"/><polygon points="457.1,377.9 451.0,378.7 448.1,391.8 454.9,394.1 461.5,386.4 460.2,381.3" fill="none" stroke="#3a3a3a" stroke-width=".8" stroke-opacity=".35"/><path d="M468.0 383.4L460.2 381.3L461.5 386.4Z" fill="#858585" stroke="#858585" stroke-width=".5"/><path d="M468.0 383.4L461.5 386.4L469.0 390.7Z" fill="#797979" stroke="#797979" stroke-width=".5"/><path d="M468.0 383.4L469.0 390.7L475.1 387.6Z" fill="#737373" stroke="#737373" stroke-width=".5"/><path d="M468.0 383.4L475.1 387.6L474.9 377.7Z" fill="#787878" stroke="#787878" stroke-width=".5"/><path d="M468.0 383.4L474.9 377.7L460.2 381.3Z" fill="#898989" stroke="#898989" stroke-width=".5"/><polygon points="460.2,381.3 461.5,386.4 469.0,390.7 475.1,387.6 474.9,377.7" fill="none" stroke="#3a3a3a" stroke-width=".8" stroke-opacity=".35"/><path d="M482.1 383.0L475.1 387.6L482.3 392.0Z" fill="#6f6f6f" stroke="#6f6f6f" stroke-width=".5"/><path d="M482.1 383.0L482.3 392.0L489.7 387.2Z" fill="#696969" stroke="#696969" stroke-width=".5"/><path d="M482.1 383.0L489.7 387.2L489.9 379.0Z" fill="#6d6d6d" stroke="#6d6d6d" stroke-width=".5"/><path d="M482.1 383.0L489.9 379.0L483.1 374.3Z" fill="#787878" stroke="#787878" stroke-width=".5"/><path d="M482.1 383.0L483.1 374.3L475.2 377.1Z" fill="#808080" stroke="#808080" stroke-width=".5"/><path d="M482.1 383.0L475.2 377.1L474.9 377.7Z" fill="#808080" stroke="#808080" stroke-width=".5"/><path d="M482.1 383.0L474.9 377.7L475.1 387.6Z" fill="#7c7c7c" stroke="#7c7c7c" stroke-width=".5"/><polygon points="475.1,387.6 482.3,392.0 489.7,387.2 489.9,379.0 483.1,374.3 475.2,377.1 474.9,377.7" fill="none" stroke="#3a3a3a" stroke-width=".8" stroke-opacity=".35"/><path d="M497.5 383.4L498.1 374.9L489.9 379.0Z" fill="#727272" stroke="#727272" stroke-width=".5"/><path d="M497.5 383.4L489.9 379.0L489.7 387.2Z" fill="#6e6e6e" stroke="#6e6e6e" stroke-width=".5"/><path d="M497.5 383.4L489.7 387.2L495.0 390.2Z" fill="#656565" stroke="#656565" stroke-width=".5"/><path d="M497.5 383.4L495.0 390.2L499.0 388.1Z" fill="#5d5d5d" stroke="#5d5d5d" stroke-width=".5"/><path d="M497.5 383.4L499.0 388.1L499.0 375.3Z" fill="#696969" stroke="#696969" stroke-width=".5"/><path d="M497.5 383.4L499.0 375.3L498.1 374.9Z" fill="#6f6f6f" stroke="#6f6f6f" stroke-width=".5"/><polygon points="498.1,374.9 489.9,379.0 489.7,387.2 495.0,390.2 499.0,388.1 499.0,375.3" fill="none" stroke="#3a3a3a" stroke-width=".8" stroke-opacity=".35"/><path d="M269.7 396.3L275.6 392.8L268.0 390.9Z" fill="#676767" stroke="#676767" stroke-width=".5"/><path d="M269.7 396.3L268.0 390.9L268.0 404.4Z" fill="#616161" stroke="#616161" stroke-width=".5"/><path d="M269.7 396.3L268.0 404.4L273.8 402.6Z" fill="#575757" stroke="#575757" stroke-width=".5"/><path d="M269.7 396.3L273.8 402.6L275.6 392.8Z" fill="#585858" stroke="#585858" stroke-width=".5"/><polygon points="275.6,392.8 268.0,390.9 268.0,404.4 273.8,402.6" fill="none" stroke="#3a3a3a" stroke-width=".8" stroke-opacity=".35"/><path d="M279.9 398.2L281.1 406.2L288.8 401.8Z" fill="#535353" stroke="#535353" stroke-width=".5"/><path d="M279.9 398.2L288.8 401.8L289.0 394.2Z" fill="#585858" stroke="#585858" stroke-width=".5"/><path d="M279.9 398.2L289.0 394.2L279.3 390.2Z" fill="#626262" stroke="#626262" stroke-width=".5"/><path d="M279.9 398.2L279.3 390.2L275.6 392.8Z" fill="#6a6a6a" stroke="#6a6a6a" stroke-width=".5"/><path d="M279.9 398.2L275.6 392.8L273.8 402.6Z" fill="#676767" stroke="#676767" stroke-width=".5"/><path d="M279.9 398.2L273.8 402.6L281.1 406.2Z" fill="#585858" stroke="#585858" stroke-width=".5"/><polygon points="281.1,406.2 288.8,401.8 289.0,394.2 279.3,390.2 275.6,392.8 273.8,402.6" fill="none" stroke="#3a3a3a" stroke-width=".8" stroke-opacity=".35"/><path d="M297.9 398.6L300.6 390.3L294.4 389.3Z" fill="#858585" stroke="#858585" stroke-width=".5"/><path d="M297.9 398.6L294.4 389.3L289.0 394.2Z" fill="#878787" stroke="#878787" stroke-width=".5"/><path d="M297.9 398.6L289.0 394.2L288.8 401.8Z" fill="#838383" stroke="#838383" stroke-width=".5"/><path d="M297.9 398.6L288.8 401.8L294.9 406.8Z" fill="#7a7a7a" stroke="#7a7a7a" stroke-width=".5"/><path d="M297.9 398.6L294.9 406.8L302.8 401.5Z" fill="#717171" stroke="#717171" stroke-width=".5"/><path d="M297.9 398.6L302.8 401.5L300.6 390.3Z" fill="#7b7b7b" stroke="#7b7b7b" stroke-width=".5"/><polygon points="300.6,390.3 294.4,389.3 289.0,394.2 288.8,401.8 294.9,406.8 302.8,401.5" fill="none" stroke="#3a3a3a" stroke-width=".8" stroke-opacity=".35"/><path d="M306.3 396.9L316.3 392.8L309.9 386.9Z" fill="#7e7e7e" stroke="#7e7e7e" stroke-width=".5"/><path d="M306.3 396.9L309.9 386.9L300.6 390.3Z" fill="#878787" stroke="#878787" stroke-width=".5"/><path d="M306.3 396.9L300.6 390.3L302.8 401.5Z" fill="#868686" stroke="#868686" stroke-width=".5"/><path d="M306.3 396.9L302.8 401.5L311.2 403.7Z" fill="#727272" stroke="#727272" stroke-width=".5"/><path d="M306.3 396.9L311.2 403.7L316.7 395.6Z" fill="#737373" stroke="#737373" stroke-width=".5"/><path d="M306.3 396.9L316.7 395.6L316.3 392.8Z" fill="#787878" stroke="#787878" stroke-width=".5"/><polygon points="316.3,392.8 309.9,386.9 300.6,390.3 302.8,401.5 311.2,403.7 316.7,395.6" fill="none" stroke="#3a3a3a" stroke-width=".8" stroke-opacity=".35"/><path d="M327.2 394.1L327.6 402.9L327.9 402.9Z" fill="#5e5e5e" stroke="#5e5e5e" stroke-width=".5"/><path d="M327.2 394.1L327.9 402.9L334.8 389.7Z" fill="#5e5e5e" stroke="#5e5e5e" stroke-width=".5"/><path d="M327.2 394.1L334.8 389.7L323.3 388.3Z" fill="#6f6f6f" stroke="#6f6f6f" stroke-width=".5"/><path d="M327.2 394.1L323.3 388.3L316.3 392.8Z" fill="#737373" stroke="#737373" stroke-width=".5"/><path d="M327.2 394.1L316.3 392.8L316.7 395.6Z" fill="#707070" stroke="#707070" stroke-width=".5"/><path d="M327.2 394.1L316.7 395.6L327.6 402.9Z" fill="#676767" stroke="#676767" stroke-width=".5"/><polygon points="327.6,402.9 327.9,402.9 334.8,389.7 323.3,388.3 316.3,392.8 316.7,395.6" fill="none" stroke="#3a3a3a" stroke-width=".8" stroke-opacity=".35"/><path d="M335.6 398.5L337.7 405.9L343.7 398.7Z" fill="#575757" stroke="#575757" stroke-width=".5"/><path d="M335.6 398.5L343.7 398.7L342.3 392.3Z" fill="#606060" stroke="#606060" stroke-width=".5"/><path d="M335.6 398.5L342.3 392.3L337.4 388.5Z" fill="#686868" stroke="#686868" stroke-width=".5"/><path d="M335.6 398.5L337.4 388.5L334.8 389.7Z" fill="#6c6c6c" stroke="#6c6c6c" stroke-width=".5"/><path d="M335.6 398.5L334.8 389.7L327.9 402.9Z" fill="#6d6d6d" stroke="#6d6d6d" stroke-width=".5"/><path d="M335.6 398.5L327.9 402.9L337.7 405.9Z" fill="#5d5d5d" stroke="#5d5d5d" stroke-width=".5"/><polygon points="337.7,405.9 343.7,398.7 342.3,392.3 337.4,388.5 334.8,389.7 327.9,402.9" fill="none" stroke="#3a3a3a" stroke-width=".8" stroke-opacity=".35"/><path d="M350.9 395.2L354.5 387.4L342.3 392.3Z" fill="#696969" stroke="#696969" stroke-width=".5"/><path d="M350.9 395.2L342.3 392.3L343.7 398.7Z" fill="#646464" stroke="#646464" stroke-width=".5"/><path d="M350.9 395.2L343.7 398.7L351.5 402.6Z" fill="#595959" stroke="#595959" stroke-width=".5"/><path d="M350.9 395.2L351.5 402.6L359.8 399.6Z" fill="#525252" stroke="#525252" stroke-width=".5"/><path d="M350.9 395.2L359.8 399.6L359.7 392.2Z" fill="#565656" stroke="#565656" stroke-width=".5"/><path d="M350.9 395.2L359.7 392.2L354.5 387.4Z" fill="#5e5e5e" stroke="#5e5e5e" stroke-width=".5"/><polygon points="354.5,387.4 342.3,392.3 343.7,398.7 351.5,402.6 359.8,399.6 359.7,392.2" fill="none" stroke="#3a3a3a" stroke-width=".8" stroke-opacity=".35"/><path d="M368.5 395.1L359.7 392.2L359.8 399.6Z" fill="#727272" stroke="#727272" stroke-width=".5"/><path d="M368.5 395.1L359.8 399.6L362.5 402.2Z" fill="#6b6b6b" stroke="#6b6b6b" stroke-width=".5"/><path d="M368.5 395.1L362.5 402.2L374.0 400.3Z" fill="#626262" stroke="#626262" stroke-width=".5"/><path d="M368.5 395.1L374.0 400.3L372.6 391.3Z" fill="#636363" stroke="#636363" stroke-width=".5"/><path d="M368.5 395.1L372.6 391.3L366.7 388.3Z" fill="#737373" stroke="#737373" stroke-width=".5"/><path d="M368.5 395.1L366.7 388.3L359.7 392.2Z" fill="#777777" stroke="#777777" stroke-width=".5"/><polygon points="359.7,392.2 359.8,399.6 362.5,402.2 374.0,400.3 372.6,391.3 366.7,388.3" fill="none" stroke="#3a3a3a" stroke-width=".8" stroke-opacity=".35"/><path d="M377.6 393.7L374.0 400.3L380.4 403.7Z" fill="#5d5d5d" stroke="#5d5d5d" stroke-width=".5"/><path d="M377.6 393.7L380.4 403.7L383.6 402.0Z" fill="#5b5b5b" stroke="#5b5b5b" stroke-width=".5"/><path d="M377.6 393.7L383.6 402.0L385.7 393.7Z" fill="#5b5b5b" stroke="#5b5b5b" stroke-width=".5"/><path d="M377.6 393.7L385.7 393.7L379.9 387.2Z" fill="#656565" stroke="#656565" stroke-width=".5"/><path d="M377.6 393.7L379.9 387.2L372.6 391.3Z" fill="#727272" stroke="#727272" stroke-width=".5"/><path d="M377.6 393.7L372.6 391.3L374.0 400.3Z" fill="#696969" stroke="#696969" stroke-width=".5"/><polygon points="374.0,400.3 380.4,403.7 383.6,402.0 385.7,393.7 379.9,387.2 372.6,391.3" fill="none" stroke="#3a3a3a" stroke-width=".8" stroke-opacity=".35"/><path d="M392.8 397.6L383.6 402.0L394.0 406.1Z" fill="#595959" stroke="#595959" stroke-width=".5"/><path d="M392.8 397.6L394.0 406.1L399.7 400.9Z" fill="#525252" stroke="#525252" stroke-width=".5"/><path d="M392.8 397.6L399.7 400.9L400.1 391.0Z" fill="#595959" stroke="#595959" stroke-width=".5"/><path d="M392.8 397.6L400.1 391.0L395.5 388.7Z" fill="#626262" stroke="#626262" stroke-width=".5"/><path d="M392.8 397.6L395.5 388.7L385.7 393.7Z" fill="#696969" stroke="#696969" stroke-width=".5"/><path d="M392.8 397.6L385.7 393.7L383.6 402.0Z" fill="#646464" stroke="#646464" stroke-width=".5"/><polygon points="383.6,402.0 394.0,406.1 399.7,400.9 400.1,391.0 395.5,388.7 385.7,393.7" fill="none" stroke="#3a3a3a" stroke-width=".8" stroke-opacity=".35"/><path d="M406.9 398.2L411.7 393.2L403.6 389.7Z" fill="#6f6f6f" stroke="#6f6f6f" stroke-width=".5"/><path d="M406.9 398.2L403.6 389.7L400.1 391.0Z" fill="#727272" stroke="#727272" stroke-width=".5"/><path d="M406.9 398.2L400.1 391.0L399.7 400.9Z" fill="#707070" stroke="#707070" stroke-width=".5"/><path d="M406.9 398.2L399.7 400.9L409.9 405.6Z" fill="#606060" stroke="#606060" stroke-width=".5"/><path d="M406.9 398.2L409.9 405.6L414.2 400.0Z" fill="#5b5b5b" stroke="#5b5b5b" stroke-width=".5"/><path d="M406.9 398.2L414.2 400.0L411.7 393.2Z" fill="#626262" stroke="#626262" stroke-width=".5"/><polygon points="411.7,393.2 403.6,389.7 400.1,391.0 399.7,400.9 409.9,405.6 414.2,400.0" fill="none" stroke="#3a3a3a" stroke-width=".8" stroke-opacity=".35"/><path d="M418.5 394.0L427.3 399.2L427.6 396.3Z" fill="#717171" stroke="#717171" stroke-width=".5"/><path d="M418.5 394.0L427.6 396.3L421.6 384.7Z" fill="#7a7a7a" stroke="#7a7a7a" stroke-width=".5"/><path d="M418.5 394.0L421.6 384.7L411.7 393.2Z" fill="#878787" stroke="#878787" stroke-width=".5"/><path d="M418.5 394.0L411.7 393.2L414.2 400.0Z" fill="#7e7e7e" stroke="#7e7e7e" stroke-width=".5"/><path d="M418.5 394.0L414.2 400.0L425.1 400.6Z" fill="#717171" stroke="#717171" stroke-width=".5"/><path d="M418.5 394.0L425.1 400.6L427.3 399.2Z" fill="#707070" stroke="#707070" stroke-width=".5"/><polygon points="427.3,399.2 427.6,396.3 421.6,384.7 411.7,393.2 414.2,400.0 425.1,400.6" fill="none" stroke="#3a3a3a" stroke-width=".8" stroke-opacity=".35"/><path d="M437.0 395.8L438.3 388.6L427.6 396.3Z" fill="#696969" stroke="#696969" stroke-width=".5"/><path d="M437.0 395.8L427.6 396.3L427.3 399.2Z" fill="#636363" stroke="#636363" stroke-width=".5"/><path d="M437.0 395.8L427.3 399.2L435.0 404.2Z" fill="#5c5c5c" stroke="#5c5c5c" stroke-width=".5"/><path d="M437.0 395.8L435.0 404.2L443.1 398.9Z" fill="#525252" stroke="#525252" stroke-width=".5"/><path d="M437.0 395.8L443.1 398.9L444.8 393.0Z" fill="#565656" stroke="#565656" stroke-width=".5"/><path d="M437.0 395.8L444.8 393.0L438.3 388.6Z" fill="#606060" stroke="#606060" stroke-width=".5"/><polygon points="438.3,388.6 427.6,396.3 427.3,399.2 435.0,404.2 443.1,398.9 444.8,393.0" fill="none" stroke="#3a3a3a" stroke-width=".8" stroke-opacity=".35"/><path d="M450.0 399.5L443.1 398.9L450.5 406.5Z" fill="#6a6a6a" stroke="#6a6a6a" stroke-width=".5"/><path d="M450.0 399.5L450.5 406.5L458.8 401.9Z" fill="#606060" stroke="#606060" stroke-width=".5"/><path d="M450.0 399.5L458.8 401.9L454.9 394.1Z" fill="#676767" stroke="#676767" stroke-width=".5"/><path d="M450.0 399.5L454.9 394.1L448.1 391.8Z" fill="#737373" stroke="#737373" stroke-width=".5"/><path d="M450.0 399.5L448.1 391.8L444.8 393.0Z" fill="#777777" stroke="#777777" stroke-width=".5"/><path d="M450.0 399.5L444.8 393.0L443.1 398.9Z" fill="#777777" stroke="#777777" stroke-width=".5"/><polygon points="443.1,398.9 450.5,406.5 458.8,401.9 454.9,394.1 448.1,391.8 444.8,393.0" fill="none" stroke="#3a3a3a" stroke-width=".8" stroke-opacity=".35"/><path d="M462.2 393.5L461.5 386.4L454.9 394.1Z" fill="#7b7b7b" stroke="#7b7b7b" stroke-width=".5"/><path d="M462.2 393.5L454.9 394.1L458.8 401.9Z" fill="#6f6f6f" stroke="#6f6f6f" stroke-width=".5"/><path d="M462.2 393.5L458.8 401.9L462.1 403.0Z" fill="#676767" stroke="#676767" stroke-width=".5"/><path d="M462.2 393.5L462.1 403.0L467.0 401.0Z" fill="#646464" stroke="#646464" stroke-width=".5"/><path d="M462.2 393.5L467.0 401.0L469.0 390.7Z" fill="#656565" stroke="#656565" stroke-width=".5"/><path d="M462.2 393.5L469.0 390.7L461.5 386.4Z" fill="#747474" stroke="#747474" stroke-width=".5"/><polygon points="461.5,386.4 454.9,394.1 458.8,401.9 462.1,403.0 467.0,401.0 469.0,390.7" fill="none" stroke="#3a3a3a" stroke-width=".8" stroke-opacity=".35"/><path d="M474.3 395.9L469.0 390.7L467.0 401.0Z" fill="#696969" stroke="#696969" stroke-width=".5"/><path d="M474.3 395.9L467.0 401.0L476.1 404.5Z" fill="#5b5b5b" stroke="#5b5b5b" stroke-width=".5"/><path d="M474.3 395.9L476.1 404.5L482.3 401.7Z" fill="#565656" stroke="#565656" stroke-width=".5"/><path d="M474.3 395.9L482.3 401.7L482.3 392.0Z" fill="#595959" stroke="#595959" stroke-width=".5"/><path d="M474.3 395.9L482.3 392.0L475.1 387.6Z" fill="#656565" stroke="#656565" stroke-width=".5"/><path d="M474.3 395.9L475.1 387.6L469.0 390.7Z" fill="#6d6d6d" stroke="#6d6d6d" stroke-width=".5"/><polygon points="469.0,390.7 467.0,401.0 476.1,404.5 482.3,401.7 482.3,392.0 475.1,387.6" fill="none" stroke="#3a3a3a" stroke-width=".8" stroke-opacity=".35"/><path d="M490.4 395.8L482.3 392.0L482.3 401.7Z" fill="#626262" stroke="#626262" stroke-width=".5"/><path d="M490.4 395.8L482.3 401.7L490.1 406.1Z" fill="#575757" stroke="#575757" stroke-width=".5"/><path d="M490.4 395.8L490.1 406.1L497.8 398.9Z" fill="#515151" stroke="#515151" stroke-width=".5"/><path d="M490.4 395.8L497.8 398.9L495.0 390.2Z" fill="#575757" stroke="#575757" stroke-width=".5"/><path d="M490.4 395.8L495.0 390.2L489.7 387.2Z" fill="#646464" stroke="#646464" stroke-width=".5"/><path d="M490.4 395.8L489.7 387.2L482.3 392.0Z" fill="#686868" stroke="#686868" stroke-width=".5"/><polygon points="482.3,392.0 482.3,401.7 490.1,406.1 497.8,398.9 495.0,390.2 489.7,387.2" fill="none" stroke="#3a3a3a" stroke-width=".8" stroke-opacity=".35"/><path d="M502.0 392.0L497.8 398.9L499.0 399.1Z" fill="#585858" stroke="#585858" stroke-width=".5"/><path d="M502.0 392.0L499.0 399.1L499.0 388.1Z" fill="#5f5f5f" stroke="#5f5f5f" stroke-width=".5"/><path d="M502.0 392.0L499.0 388.1L495.0 390.2Z" fill="#686868" stroke="#686868" stroke-width=".5"/><path d="M502.0 392.0L495.0 390.2L497.8 398.9Z" fill="#606060" stroke="#606060" stroke-width=".5"/><polygon points="497.8,398.9 499.0,399.1 499.0,388.1 495.0,390.2" fill="none" stroke="#3a3a3a" stroke-width=".8" stroke-opacity=".35"/><path d="M274.0 410.1L281.1 406.2L273.8 402.6Z" fill="#656565" stroke="#656565" stroke-width=".5"/><path d="M274.0 410.1L273.8 402.6L268.0 404.4Z" fill="#6c6c6c" stroke="#6c6c6c" stroke-width=".5"/><path d="M274.0 410.1L268.0 404.4L268.0 415.3Z" fill="#686868" stroke="#686868" stroke-width=".5"/><path d="M274.0 410.1L268.0 415.3L272.5 416.1Z" fill="#5d5d5d" stroke="#5d5d5d" stroke-width=".5"/><path d="M274.0 410.1L272.5 416.1L280.6 411.6Z" fill="#555555" stroke="#555555" stroke-width=".5"/><path d="M274.0 410.1L280.6 411.6L281.1 406.2Z" fill="#5b5b5b" stroke="#5b5b5b" stroke-width=".5"/><polygon points="281.1,406.2 273.8,402.6 268.0,404.4 268.0,415.3 272.5,416.1 280.6,411.6" fill="none" stroke="#3a3a3a" stroke-width=".8" stroke-opacity=".35"/><path d="M287.4 411.3L296.8 414.2L294.9 406.8Z" fill="#7b7b7b" stroke="#7b7b7b" stroke-width=".5"/><path d="M287.4 411.3L294.9 406.8L288.8 401.8Z" fill="#868686" stroke="#868686" stroke-width=".5"/><path d="M287.4 411.3L288.8 401.8L281.1 406.2Z" fill="#8d8d8d" stroke="#8d8d8d" stroke-width=".5"/><path d="M287.4 411.3L281.1 406.2L280.6 411.6Z" fill="#8c8c8c" stroke="#8c8c8c" stroke-width=".5"/><path d="M287.4 411.3L280.6 411.6L287.4 420.5Z" fill="#7e7e7e" stroke="#7e7e7e" stroke-width=".5"/><path d="M287.4 411.3L287.4 420.5L296.8 414.2Z" fill="#767676" stroke="#767676" stroke-width=".5"/><polygon points="296.8,414.2 294.9,406.8 288.8,401.8 281.1,406.2 280.6,411.6 287.4,420.5" fill="none" stroke="#3a3a3a" stroke-width=".8" stroke-opacity=".35"/><path d="M303.6 407.2L311.2 403.7L302.8 401.5Z" fill="#818181" stroke="#818181" stroke-width=".5"/><path d="M303.6 407.2L302.8 401.5L294.9 406.8Z" fill="#898989" stroke="#898989" stroke-width=".5"/><path d="M303.6 407.2L294.9 406.8L296.8 414.2Z" fill="#808080" stroke="#808080" stroke-width=".5"/><path d="M303.6 407.2L296.8 414.2L297.8 414.7Z" fill="#7b7b7b" stroke="#7b7b7b" stroke-width=".5"/><path d="M303.6 407.2L297.8 414.7L311.7 409.4Z" fill="#737373" stroke="#737373" stroke-width=".5"/><path d="M303.6 407.2L311.7 409.4L311.2 403.7Z" fill="#777777" stroke="#777777" stroke-width=".5"/><polygon points="311.2,403.7 302.8,401.5 294.9,406.8 296.8,414.2 297.8,414.7 311.7,409.4" fill="none" stroke="#3a3a3a" stroke-width=".8" stroke-opacity=".35"/><path d="M319.2 405.9L311.2 403.7L311.7 409.4Z" fill="#7e7e7e" stroke="#7e7e7e" stroke-width=".5"/><path d="M319.2 405.9L311.7 409.4L314.8 413.0Z" fill="#767676" stroke="#767676" stroke-width=".5"/><path d="M319.2 405.9L314.8 413.0L324.9 409.8Z" fill="#6d6d6d" stroke="#6d6d6d" stroke-width=".5"/><path d="M319.2 405.9L324.9 409.8L327.6 402.9Z" fill="#707070" stroke="#707070" stroke-width=".5"/><path d="M319.2 405.9L327.6 402.9L316.7 395.6Z" fill="#7d7d7d" stroke="#7d7d7d" stroke-width=".5"/><path d="M319.2 405.9L316.7 395.6L311.2 403.7Z" fill="#838383" stroke="#838383" stroke-width=".5"/><polygon points="311.2,403.7 311.7,409.4 314.8,413.0 324.9,409.8 327.6,402.9 316.7,395.6" fill="none" stroke="#3a3a3a" stroke-width=".8" stroke-opacity=".35"/><path d="M331.8 410.8L337.7 405.9L327.9 402.9Z" fill="#878787" stroke="#878787" stroke-width=".5"/><path d="M331.8 410.8L327.9 402.9L327.6 402.9Z" fill="#8a8a8a" stroke="#8a8a8a" stroke-width=".5"/><path d="M331.8 410.8L327.6 402.9L324.9 409.8Z" fill="#8a8a8a" stroke="#8a8a8a" stroke-width=".5"/><path d="M331.8 410.8L324.9 409.8L329.9 418.2Z" fill="#7f7f7f" stroke="#7f7f7f" stroke-width=".5"/><path d="M331.8 410.8L329.9 418.2L339.8 412.6Z" fill="#737373" stroke="#737373" stroke-width=".5"/><path d="M331.8 410.8L339.8 412.6L337.7 405.9Z" fill="#7a7a7a" stroke="#7a7a7a" stroke-width=".5"/><polygon points="337.7,405.9 327.9,402.9 327.6,402.9 324.9,409.8 329.9,418.2 339.8,412.6" fill="none" stroke="#3a3a3a" stroke-width=".8" stroke-opacity=".35"/><path d="M345.3 406.6L343.5 414.7L349.9 411.0Z" fill="#5e5e5e" stroke="#5e5e5e" stroke-width=".5"/><path d="M345.3 406.6L349.9 411.0L351.5 402.6Z" fill="#616161" stroke="#616161" stroke-width=".5"/><path d="M345.3 406.6L351.5 402.6L343.7 398.7Z" fill="#6f6f6f" stroke="#6f6f6f" stroke-width=".5"/><path d="M345.3 406.6L343.7 398.7L337.7 405.9Z" fill="#747474" stroke="#747474" stroke-width=".5"/><path d="M345.3 406.6L337.7 405.9L339.8 412.6Z" fill="#6c6c6c" stroke="#6c6c6c" stroke-width=".5"/><path d="M345.3 406.6L339.8 412.6L343.5 414.7Z" fill="#636363" stroke="#636363" stroke-width=".5"/><polygon points="343.5,414.7 349.9,411.0 351.5,402.6 343.7,398.7 337.7,405.9 339.8,412.6" fill="none" stroke="#3a3a3a" stroke-width=".8" stroke-opacity=".35"/><path d="M355.8 408.6L349.9 411.0L359.0 415.5Z" fill="#5d5d5d" stroke="#5d5d5d" stroke-width=".5"/><path d="M355.8 408.6L359.0 415.5L363.7 413.3Z" fill="#595959" stroke="#595959" stroke-width=".5"/><path d="M355.8 408.6L363.7 413.3L362.5 402.2Z" fill="#5e5e5e" stroke="#5e5e5e" stroke-width=".5"/><path d="M355.8 408.6L362.5 402.2L359.8 399.6Z" fill="#686868" stroke="#686868" stroke-width=".5"/><path d="M355.8 408.6L359.8 399.6L351.5 402.6Z" fill="#6e6e6e" stroke="#6e6e6e" stroke-width=".5"/><path d="M355.8 408.6L351.5 402.6L349.9 411.0Z" fill="#6f6f6f" stroke="#6f6f6f" stroke-width=".5"/><polygon points="349.9,411.0 359.0,415.5 363.7,413.3 362.5,402.2 359.8,399.6 351.5,402.6" fill="none" stroke="#3a3a3a" stroke-width=".8" stroke-opacity=".35"/><path d="M370.5 407.0L362.5 402.2L363.7 413.3Z" fill="#848484" stroke="#848484" stroke-width=".5"/><path d="M370.5 407.0L363.7 413.3L370.2 416.8Z" fill="#787878" stroke="#787878" stroke-width=".5"/><path d="M370.5 407.0L370.2 416.8L378.4 411.0Z" fill="#727272" stroke="#727272" stroke-width=".5"/><path d="M370.5 407.0L378.4 411.0L380.4 403.7Z" fill="#767676" stroke="#767676" stroke-width=".5"/><path d="M370.5 407.0L380.4 403.7L374.0 400.3Z" fill="#7d7d7d" stroke="#7d7d7d" stroke-width=".5"/><path d="M370.5 407.0L374.0 400.3L362.5 402.2Z" fill="#898989" stroke="#898989" stroke-width=".5"/><polygon points="362.5,402.2 363.7,413.3 370.2,416.8 378.4,411.0 380.4,403.7 374.0,400.3" fill="none" stroke="#3a3a3a" stroke-width=".8" stroke-opacity=".35"/><path d="M387.3 411.5L383.6 402.0L380.4 403.7Z" fill="#7f7f7f" stroke="#7f7f7f" stroke-width=".5"/><path d="M387.3 411.5L380.4 403.7L378.4 411.0Z" fill="#7e7e7e" stroke="#7e7e7e" stroke-width=".5"/><path d="M387.3 411.5L378.4 411.0L386.9 418.9Z" fill="#747474" stroke="#747474" stroke-width=".5"/><path d="M387.3 411.5L386.9 418.9L395.6 413.2Z" fill="#686868" stroke="#686868" stroke-width=".5"/><path d="M387.3 411.5L395.6 413.2L394.0 406.1Z" fill="#6f6f6f" stroke="#6f6f6f" stroke-width=".5"/><path d="M387.3 411.5L394.0 406.1L383.6 402.0Z" fill="#7c7c7c" stroke="#7c7c7c" stroke-width=".5"/><polygon points="383.6,402.0 380.4,403.7 378.4,411.0 386.9,418.9 395.6,413.2 394.0,406.1" fill="none" stroke="#3a3a3a" stroke-width=".8" stroke-opacity=".35"/><path d="M402.4 408.2L409.9 405.6L399.7 400.9Z" fill="#858585" stroke="#858585" stroke-width=".5"/><path d="M402.4 408.2L399.7 400.9L394.0 406.1Z" fill="#8b8b8b" stroke="#8b8b8b" stroke-width=".5"/><path d="M402.4 408.2L394.0 406.1L395.6 413.2Z" fill="#858585" stroke="#858585" stroke-width=".5"/><path d="M402.4 408.2L395.6 413.2L402.8 417.8Z" fill="#7a7a7a" stroke="#7a7a7a" stroke-width=".5"/><path d="M402.4 408.2L402.8 417.8L410.7 413.0Z" fill="#747474" stroke="#747474" stroke-width=".5"/><path d="M402.4 408.2L410.7 413.0L409.9 405.6Z" fill="#777777" stroke="#777777" stroke-width=".5"/><polygon points="409.9,405.6 399.7,400.9 394.0,406.1 395.6,413.2 402.8,417.8 410.7,413.0" fill="none" stroke="#3a3a3a" stroke-width=".8" stroke-opacity=".35"/><path d="M417.9 406.5L414.2 400.0L409.9 405.6Z" fill="#757575" stroke="#757575" stroke-width=".5"/><path d="M417.9 406.5L409.9 405.6L410.7 413.0Z" fill="#6d6d6d" stroke="#6d6d6d" stroke-width=".5"/><path d="M417.9 406.5L410.7 413.0L415.8 415.1Z" fill="#656565" stroke="#656565" stroke-width=".5"/><path d="M417.9 406.5L415.8 415.1L421.8 412.1Z" fill="#5f5f5f" stroke="#5f5f5f" stroke-width=".5"/><path d="M417.9 406.5L421.8 412.1L425.1 400.6Z" fill="#626262" stroke="#626262" stroke-width=".5"/><path d="M417.9 406.5L425.1 400.6L414.2 400.0Z" fill="#717171" stroke="#717171" stroke-width=".5"/><polygon points="414.2,400.0 409.9,405.6 410.7,413.0 415.8,415.1 421.8,412.1 425.1,400.6" fill="none" stroke="#3a3a3a" stroke-width=".8" stroke-opacity=".35"/><path d="M428.1 409.4L421.8 412.1L428.0 415.0Z" fill="#686868" stroke="#686868" stroke-width=".5"/><path d="M428.1 409.4L428.0 415.0L436.1 409.2Z" fill="#606060" stroke="#606060" stroke-width=".5"/><path d="M428.1 409.4L436.1 409.2L435.0 404.2Z" fill="#686868" stroke="#686868" stroke-width=".5"/><path d="M428.1 409.4L435.0 404.2L427.3 399.2Z" fill="#727272" stroke="#727272" stroke-width=".5"/><path d="M428.1 409.4L427.3 399.2L425.1 400.6Z" fill="#767676" stroke="#767676" stroke-width=".5"/><path d="M428.1 409.4L425.1 400.6L421.8 412.1Z" fill="#777777" stroke="#777777" stroke-width=".5"/><polygon points="421.8,412.1 428.0,415.0 436.1,409.2 435.0,404.2 427.3,399.2 425.1,400.6" fill="none" stroke="#3a3a3a" stroke-width=".8" stroke-opacity=".35"/><path d="M443.4 405.8L449.1 410.3L450.5 406.5Z" fill="#6d6d6d" stroke="#6d6d6d" stroke-width=".5"/><path d="M443.4 405.8L450.5 406.5L443.1 398.9Z" fill="#797979" stroke="#797979" stroke-width=".5"/><path d="M443.4 405.8L443.1 398.9L435.0 404.2Z" fill="#838383" stroke="#838383" stroke-width=".5"/><path d="M443.4 405.8L435.0 404.2L436.1 409.2Z" fill="#7e7e7e" stroke="#7e7e7e" stroke-width=".5"/><path d="M443.4 405.8L436.1 409.2L443.1 415.6Z" fill="#737373" stroke="#737373" stroke-width=".5"/><path d="M443.4 405.8L443.1 415.6L449.1 410.3Z" fill="#6c6c6c" stroke="#6c6c6c" stroke-width=".5"/><polygon points="449.1,410.3 450.5,406.5 443.1,398.9 435.0,404.2 436.1,409.2 443.1,415.6" fill="none" stroke="#3a3a3a" stroke-width=".8" stroke-opacity=".35"/><path d="M456.3 410.6L463.0 415.3L462.1 403.0Z" fill="#7a7a7a" stroke="#7a7a7a" stroke-width=".5"/><path d="M456.3 410.6L462.1 403.0L458.8 401.9Z" fill="#848484" stroke="#848484" stroke-width=".5"/><path d="M456.3 410.6L458.8 401.9L450.5 406.5Z" fill="#8a8a8a" stroke="#8a8a8a" stroke-width=".5"/><path d="M456.3 410.6L450.5 406.5L449.1 410.3Z" fill="#888888" stroke="#888888" stroke-width=".5"/><path d="M456.3 410.6L449.1 410.3L460.4 416.9Z" fill="#797979" stroke="#797979" stroke-width=".5"/><path d="M456.3 410.6L460.4 416.9L463.0 415.3Z" fill="#737373" stroke="#737373" stroke-width=".5"/><polygon points="463.0,415.3 462.1,403.0 458.8,401.9 450.5,406.5 449.1,410.3 460.4,416.9" fill="none" stroke="#3a3a3a" stroke-width=".8" stroke-opacity=".35"/><path d="M468.9 409.6L469.2 417.3L474.8 412.7Z" fill="#565656" stroke="#565656" stroke-width=".5"/><path d="M468.9 409.6L474.8 412.7L476.1 404.5Z" fill="#5c5c5c" stroke="#5c5c5c" stroke-width=".5"/><path d="M468.9 409.6L476.1 404.5L467.0 401.0Z" fill="#686868" stroke="#686868" stroke-width=".5"/><path d="M468.9 409.6L467.0 401.0L462.1 403.0Z" fill="#6d6d6d" stroke="#6d6d6d" stroke-width=".5"/><path d="M468.9 409.6L462.1 403.0L463.0 415.3Z" fill="#696969" stroke="#696969" stroke-width=".5"/><path d="M468.9 409.6L463.0 415.3L469.2 417.3Z" fill="#5c5c5c" stroke="#5c5c5c" stroke-width=".5"/><polygon points="469.2,417.3 474.8,412.7 476.1,404.5 467.0,401.0 462.1,403.0 463.0,415.3" fill="none" stroke="#3a3a3a" stroke-width=".8" stroke-opacity=".35"/><path d="M481.4 411.6L484.7 419.0L491.9 412.9Z" fill="#5a5a5a" stroke="#5a5a5a" stroke-width=".5"/><path d="M481.4 411.6L491.9 412.9L490.1 406.1Z" fill="#616161" stroke="#616161" stroke-width=".5"/><path d="M481.4 411.6L490.1 406.1L482.3 401.7Z" fill="#6a6a6a" stroke="#6a6a6a" stroke-width=".5"/><path d="M481.4 411.6L482.3 401.7L476.1 404.5Z" fill="#717171" stroke="#717171" stroke-width=".5"/><path d="M481.4 411.6L476.1 404.5L474.8 412.7Z" fill="#707070" stroke="#707070" stroke-width=".5"/><path d="M481.4 411.6L474.8 412.7L484.7 419.0Z" fill="#5f5f5f" stroke="#5f5f5f" stroke-width=".5"/><polygon points="484.7,419.0 491.9,412.9 490.1,406.1 482.3,401.7 476.1,404.5 474.8,412.7" fill="none" stroke="#3a3a3a" stroke-width=".8" stroke-opacity=".35"/><path d="M500.5 406.6L490.1 406.1L491.9 412.9Z" fill="#606060" stroke="#606060" stroke-width=".5"/><path d="M500.5 406.6L491.9 412.9L499.0 416.7Z" fill="#575757" stroke="#575757" stroke-width=".5"/><path d="M500.5 406.6L499.0 416.7L499.0 399.1Z" fill="#5b5b5b" stroke="#5b5b5b" stroke-width=".5"/><path d="M500.5 406.6L499.0 399.1L497.8 398.9Z" fill="#676767" stroke="#676767" stroke-width=".5"/><path d="M500.5 406.6L497.8 398.9L490.1 406.1Z" fill="#676767" stroke="#676767" stroke-width=".5"/><polygon points="490.1,406.1 491.9,412.9 499.0,416.7 499.0,399.1 497.8,398.9" fill="none" stroke="#3a3a3a" stroke-width=".8" stroke-opacity=".35"/><path d="M271.9 422.4L279.3 428.5L279.9 427.4Z" fill="#666666" stroke="#666666" stroke-width=".5"/><path d="M271.9 422.4L279.9 427.4L272.5 416.1Z" fill="#6c6c6c" stroke="#6c6c6c" stroke-width=".5"/><path d="M271.9 422.4L272.5 416.1L268.0 415.3Z" fill="#7d7d7d" stroke="#7d7d7d" stroke-width=".5"/><path d="M271.9 422.4L268.0 415.3L268.0 427.9Z" fill="#7a7a7a" stroke="#7a7a7a" stroke-width=".5"/><path d="M271.9 422.4L268.0 427.9L279.3 428.5Z" fill="#666666" stroke="#666666" stroke-width=".5"/><polygon points="279.3,428.5 279.9,427.4 272.5,416.1 268.0,415.3 268.0,427.9" fill="none" stroke="#3a3a3a" stroke-width=".8" stroke-opacity=".35"/><path d="M278.5 418.0L280.6 411.6L272.5 416.1Z" fill="#8b8b8b" stroke="#8b8b8b" stroke-width=".5"/><path d="M278.5 418.0L272.5 416.1L279.9 427.4Z" fill="#7b7b7b" stroke="#7b7b7b" stroke-width=".5"/><path d="M278.5 418.0L279.9 427.4L286.8 422.1Z" fill="#747474" stroke="#747474" stroke-width=".5"/><path d="M278.5 418.0L286.8 422.1L287.4 420.5Z" fill="#757575" stroke="#757575" stroke-width=".5"/><path d="M278.5 418.0L287.4 420.5L280.6 411.6Z" fill="#7c7c7c" stroke="#7c7c7c" stroke-width=".5"/><polygon points="280.6,411.6 272.5,416.1 279.9,427.4 286.8,422.1 287.4,420.5" fill="none" stroke="#3a3a3a" stroke-width=".8" stroke-opacity=".35"/><path d="M295.9 424.0L304.8 425.0L297.8 414.7Z" fill="#727272" stroke="#727272" stroke-width=".5"/><path d="M295.9 424.0L297.8 414.7L296.8 414.2Z" fill="#7a7a7a" stroke="#7a7a7a" stroke-width=".5"/><path d="M295.9 424.0L296.8 414.2L287.4 420.5Z" fill="#7d7d7d" stroke="#7d7d7d" stroke-width=".5"/><path d="M295.9 424.0L287.4 420.5L286.8 422.1Z" fill="#7b7b7b" stroke="#7b7b7b" stroke-width=".5"/><path d="M295.9 424.0L286.8 422.1L296.6 432.0Z" fill="#727272" stroke="#727272" stroke-width=".5"/><path d="M295.9 424.0L296.6 432.0L297.6 432.0Z" fill="#676767" stroke="#676767" stroke-width=".5"/><path d="M295.9 424.0L297.6 432.0L304.8 425.0Z" fill="#666666" stroke="#666666" stroke-width=".5"/><polygon points="304.8,425.0 297.8,414.7 296.8,414.2 287.4,420.5 286.8,422.1 296.6,432.0 297.6,432.0" fill="none" stroke="#3a3a3a" stroke-width=".8" stroke-opacity=".35"/><path d="M307.1 416.4L311.7 409.4L297.8 414.7Z" fill="#6c6c6c" stroke="#6c6c6c" stroke-width=".5"/><path d="M307.1 416.4L297.8 414.7L304.8 425.0Z" fill="#626262" stroke="#626262" stroke-width=".5"/><path d="M307.1 416.4L304.8 425.0L312.9 425.7Z" fill="#565656" stroke="#565656" stroke-width=".5"/><path d="M307.1 416.4L312.9 425.7L314.8 424.3Z" fill="#555555" stroke="#555555" stroke-width=".5"/><path d="M307.1 416.4L314.8 424.3L314.8 413.0Z" fill="#575757" stroke="#575757" stroke-width=".5"/><path d="M307.1 416.4L314.8 413.0L311.7 409.4Z" fill="#616161" stroke="#616161" stroke-width=".5"/><polygon points="311.7,409.4 297.8,414.7 304.8,425.0 312.9,425.7 314.8,424.3 314.8,413.0" fill="none" stroke="#3a3a3a" stroke-width=".8" stroke-opacity=".35"/><path d="M322.5 416.4L324.9 409.8L314.8 413.0Z" fill="#828282" stroke="#828282" stroke-width=".5"/><path d="M322.5 416.4L314.8 413.0L314.8 424.3Z" fill="#7b7b7b" stroke="#7b7b7b" stroke-width=".5"/><path d="M322.5 416.4L314.8 424.3L326.0 425.7Z" fill="#6f6f6f" stroke="#6f6f6f" stroke-width=".5"/><path d="M322.5 416.4L326.0 425.7L328.4 423.9Z" fill="#6b6b6b" stroke="#6b6b6b" stroke-width=".5"/><path d="M322.5 416.4L328.4 423.9L329.9 418.2Z" fill="#6b6b6b" stroke="#6b6b6b" stroke-width=".5"/><path d="M322.5 416.4L329.9 418.2L324.9 409.8Z" fill="#747474" stroke="#747474" stroke-width=".5"/><polygon points="324.9,409.8 314.8,413.0 314.8,424.3 326.0,425.7 328.4,423.9 329.9,418.2" fill="none" stroke="#3a3a3a" stroke-width=".8" stroke-opacity=".35"/><path d="M337.3 420.3L329.9 418.2L328.4 423.9Z" fill="#7b7b7b" stroke="#7b7b7b" stroke-width=".5"/><path d="M337.3 420.3L328.4 423.9L341.3 427.3Z" fill="#6f6f6f" stroke="#6f6f6f" stroke-width=".5"/><path d="M337.3 420.3L341.3 427.3L345.7 424.7Z" fill="#696969" stroke="#696969" stroke-width=".5"/><path d="M337.3 420.3L345.7 424.7L343.5 414.7Z" fill="#6e6e6e" stroke="#6e6e6e" stroke-width=".5"/><path d="M337.3 420.3L343.5 414.7L339.8 412.6Z" fill="#797979" stroke="#797979" stroke-width=".5"/><path d="M337.3 420.3L339.8 412.6L329.9 418.2Z" fill="#808080" stroke="#808080" stroke-width=".5"/><polygon points="329.9,418.2 328.4,423.9 341.3,427.3 345.7,424.7 343.5,414.7 339.8,412.6" fill="none" stroke="#3a3a3a" stroke-width=".8" stroke-opacity=".35"/><path d="M351.5 417.1L345.7 424.7L349.9 426.2Z" fill="#5a5a5a" stroke="#5a5a5a" stroke-width=".5"/><path d="M351.5 417.1L349.9 426.2L355.2 423.0Z" fill="#555555" stroke="#555555" stroke-width=".5"/><path d="M351.5 417.1L355.2 423.0L359.0 415.5Z" fill="#555555" stroke="#555555" stroke-width=".5"/><path d="M351.5 417.1L359.0 415.5L349.9 411.0Z" fill="#636363" stroke="#636363" stroke-width=".5"/><path d="M351.5 417.1L349.9 411.0L343.5 414.7Z" fill="#6b6b6b" stroke="#6b6b6b" stroke-width=".5"/><path d="M351.5 417.1L343.5 414.7L345.7 424.7Z" fill="#636363" stroke="#636363" stroke-width=".5"/><polygon points="345.7,424.7 349.9,426.2 355.2,423.0 359.0,415.5 349.9,411.0 343.5,414.7" fill="none" stroke="#3a3a3a" stroke-width=".8" stroke-opacity=".35"/><path d="M362.2 422.4L363.7 413.3L359.0 415.5Z" fill="#8a8a8a" stroke="#8a8a8a" stroke-width=".5"/><path d="M362.2 422.4L359.0 415.5L355.2 423.0Z" fill="#8b8b8b" stroke="#8b8b8b" stroke-width=".5"/><path d="M362.2 422.4L355.2 423.0L367.2 429.4Z" fill="#787878" stroke="#787878" stroke-width=".5"/><path d="M362.2 422.4L367.2 429.4L371.5 425.4Z" fill="#747474" stroke="#747474" stroke-width=".5"/><path d="M362.2 422.4L371.5 425.4L370.2 416.8Z" fill="#7a7a7a" stroke="#7a7a7a" stroke-width=".5"/><path d="M362.2 422.4L370.2 416.8L363.7 413.3Z" fill="#848484" stroke="#848484" stroke-width=".5"/><polygon points="363.7,413.3 359.0,415.5 355.2,423.0 367.2,429.4 371.5,425.4 370.2,416.8" fill="none" stroke="#3a3a3a" stroke-width=".8" stroke-opacity=".35"/><path d="M379.5 419.8L370.2 416.8L371.5 425.4Z" fill="#7b7b7b" stroke="#7b7b7b" stroke-width=".5"/><path d="M379.5 419.8L371.5 425.4L380.7 429.0Z" fill="#707070" stroke="#707070" stroke-width=".5"/><path d="M379.5 419.8L380.7 429.0L386.5 422.5Z" fill="#6a6a6a" stroke="#6a6a6a" stroke-width=".5"/><path d="M379.5 419.8L386.5 422.5L386.9 418.9Z" fill="#6d6d6d" stroke="#6d6d6d" stroke-width=".5"/><path d="M379.5 419.8L386.9 418.9L378.4 411.0Z" fill="#7a7a7a" stroke="#7a7a7a" stroke-width=".5"/><path d="M379.5 419.8L378.4 411.0L370.2 416.8Z" fill="#818181" stroke="#818181" stroke-width=".5"/><polygon points="370.2,416.8 371.5,425.4 380.7,429.0 386.5,422.5 386.9,418.9 378.4,411.0" fill="none" stroke="#3a3a3a" stroke-width=".8" stroke-opacity=".35"/><path d="M393.8 421.5L386.9 418.9L386.5 422.5Z" fill="#777777" stroke="#777777" stroke-width=".5"/><path d="M393.8 421.5L386.5 422.5L395.2 426.9Z" fill="#6c6c6c" stroke="#6c6c6c" stroke-width=".5"/><path d="M393.8 421.5L395.2 426.9L402.6 421.5Z" fill="#646464" stroke="#646464" stroke-width=".5"/><path d="M393.8 421.5L402.6 421.5L402.8 417.8Z" fill="#696969" stroke="#696969" stroke-width=".5"/><path d="M393.8 421.5L402.8 417.8L395.6 413.2Z" fill="#717171" stroke="#717171" stroke-width=".5"/><path d="M393.8 421.5L395.6 413.2L386.9 418.9Z" fill="#7a7a7a" stroke="#7a7a7a" stroke-width=".5"/><polygon points="386.9,418.9 386.5,422.5 395.2,426.9 402.6,421.5 402.8,417.8 395.6,413.2" fill="none" stroke="#3a3a3a" stroke-width=".8" stroke-opacity=".35"/><path d="M411.2 422.6L402.8 417.8L402.6 421.5Z" fill="#727272" stroke="#727272" stroke-width=".5"/><path d="M411.2 422.6L402.6 421.5L408.1 430.0Z" fill="#6a6a6a" stroke="#6a6a6a" stroke-width=".5"/><path d="M411.2 422.6L408.1 430.0L419.2 427.8Z" fill="#5d5d5d" stroke="#5d5d5d" stroke-width=".5"/><path d="M411.2 422.6L419.2 427.8L419.5 427.1Z" fill="#5d5d5d" stroke="#5d5d5d" stroke-width=".5"/><path d="M411.2 422.6L419.5 427.1L415.8 415.1Z" fill="#646464" stroke="#646464" stroke-width=".5"/><path d="M411.2 422.6L415.8 415.1L410.7 413.0Z" fill="#707070" stroke="#707070" stroke-width=".5"/><path d="M411.2 422.6L410.7 413.0L402.8 417.8Z" fill="#747474" stroke="#747474" stroke-width=".5"/><polygon points="402.8,417.8 402.6,421.5 408.1,430.0 419.2,427.8 419.5,427.1 415.8,415.1 410.7,413.0" fill="none" stroke="#3a3a3a" stroke-width=".8" stroke-opacity=".35"/><path d="M423.8 418.7L419.5 427.1L429.7 423.2Z" fill="#575757" stroke="#575757" stroke-width=".5"/><path d="M423.8 418.7L429.7 423.2L428.0 415.0Z" fill="#5a5a5a" stroke="#5a5a5a" stroke-width=".5"/><path d="M423.8 418.7L428.0 415.0L421.8 412.1Z" fill="#696969" stroke="#696969" stroke-width=".5"/><path d="M423.8 418.7L421.8 412.1L415.8 415.1Z" fill="#6d6d6d" stroke="#6d6d6d" stroke-width=".5"/><path d="M423.8 418.7L415.8 415.1L419.5 427.1Z" fill="#656565" stroke="#656565" stroke-width=".5"/><polygon points="419.5,427.1 429.7,423.2 428.0,415.0 421.8,412.1 415.8,415.1" fill="none" stroke="#3a3a3a" stroke-width=".8" stroke-opacity=".35"/><path d="M433.4 416.7L443.1 415.6L436.1 409.2Z" fill="#6d6d6d" stroke="#6d6d6d" stroke-width=".5"/><path d="M433.4 416.7L436.1 409.2L428.0 415.0Z" fill="#797979" stroke="#797979" stroke-width=".5"/><path d="M433.4 416.7L428.0 415.0L429.7 423.2Z" fill="#6f6f6f" stroke="#6f6f6f" stroke-width=".5"/><path d="M433.4 416.7L429.7 423.2L435.2 425.2Z" fill="#656565" stroke="#656565" stroke-width=".5"/><path d="M433.4 416.7L435.2 425.2L443.2 421.0Z" fill="#626262" stroke="#626262" stroke-width=".5"/><path d="M433.4 416.7L443.2 421.0L443.1 415.6Z" fill="#656565" stroke="#656565" stroke-width=".5"/><polygon points="443.1,415.6 436.1,409.2 428.0,415.0 429.7,423.2 435.2,425.2 443.2,421.0" fill="none" stroke="#3a3a3a" stroke-width=".8" stroke-opacity=".35"/><path d="M452.9 416.5L449.5 425.9L456.8 423.1Z" fill="#606060" stroke="#606060" stroke-width=".5"/><path d="M452.9 416.5L456.8 423.1L460.4 416.9Z" fill="#5e5e5e" stroke="#5e5e5e" stroke-width=".5"/><path d="M452.9 416.5L460.4 416.9L449.1 410.3Z" fill="#6e6e6e" stroke="#6e6e6e" stroke-width=".5"/><path d="M452.9 416.5L449.1 410.3L443.1 415.6Z" fill="#747474" stroke="#747474" stroke-width=".5"/><path d="M452.9 416.5L443.1 415.6L443.2 421.0Z" fill="#6f6f6f" stroke="#6f6f6f" stroke-width=".5"/><path d="M452.9 416.5L443.2 421.0L449.5 425.9Z" fill="#676767" stroke="#676767" stroke-width=".5"/><polygon points="449.5,425.9 456.8,423.1 460.4,416.9 449.1,410.3 443.1,415.6 443.2,421.0" fill="none" stroke="#3a3a3a" stroke-width=".8" stroke-opacity=".35"/><path d="M464.6 423.3L469.2 417.3L463.0 415.3Z" fill="#6c6c6c" stroke="#6c6c6c" stroke-width=".5"/><path d="M464.6 423.3L463.0 415.3L460.4 416.9Z" fill="#707070" stroke="#707070" stroke-width=".5"/><path d="M464.6 423.3L460.4 416.9L456.8 423.1Z" fill="#6f6f6f" stroke="#6f6f6f" stroke-width=".5"/><path d="M464.6 423.3L456.8 423.1L463.3 428.5Z" fill="#666666" stroke="#666666" stroke-width=".5"/><path d="M464.6 423.3L463.3 428.5L471.4 423.6Z" fill="#595959" stroke="#595959" stroke-width=".5"/><path d="M464.6 423.3L471.4 423.6L469.2 417.3Z" fill="#626262" stroke="#626262" stroke-width=".5"/><polygon points="469.2,417.3 463.0,415.3 460.4,416.9 456.8,423.1 463.3,428.5 471.4,423.6" fill="none" stroke="#3a3a3a" stroke-width=".8" stroke-opacity=".35"/><path d="M476.6 419.1L477.4 428.2L482.5 426.1Z" fill="#696969" stroke="#696969" stroke-width=".5"/><path d="M476.6 419.1L482.5 426.1L484.7 419.0Z" fill="#6a6a6a" stroke="#6a6a6a" stroke-width=".5"/><path d="M476.6 419.1L484.7 419.0L474.8 412.7Z" fill="#767676" stroke="#767676" stroke-width=".5"/><path d="M476.6 419.1L474.8 412.7L469.2 417.3Z" fill="#808080" stroke="#808080" stroke-width=".5"/><path d="M476.6 419.1L469.2 417.3L471.4 423.6Z" fill="#7a7a7a" stroke="#7a7a7a" stroke-width=".5"/><path d="M476.6 419.1L471.4 423.6L477.4 428.2Z" fill="#6e6e6e" stroke="#6e6e6e" stroke-width=".5"/><polygon points="477.4,428.2 482.5,426.1 484.7,419.0 474.8,412.7 469.2,417.3 471.4,423.6" fill="none" stroke="#3a3a3a" stroke-width=".8" stroke-opacity=".35"/><path d="M491.3 423.6L491.9 412.9L484.7 419.0Z" fill="#818181" stroke="#818181" stroke-width=".5"/><path d="M491.3 423.6L484.7 419.0L482.5 426.1Z" fill="#7e7e7e" stroke="#7e7e7e" stroke-width=".5"/><path d="M491.3 423.6L482.5 426.1L489.4 430.9Z" fill="#747474" stroke="#747474" stroke-width=".5"/><path d="M491.3 423.6L489.4 430.9L499.0 426.3Z" fill="#6a6a6a" stroke="#6a6a6a" stroke-width=".5"/><path d="M491.3 423.6L499.0 426.3L499.0 416.7Z" fill="#717171" stroke="#717171" stroke-width=".5"/><path d="M491.3 423.6L499.0 416.7L491.9 412.9Z" fill="#7b7b7b" stroke="#7b7b7b" stroke-width=".5"/><polygon points="491.9,412.9 484.7,419.0 482.5,426.1 489.4,430.9 499.0,426.3 499.0,416.7" fill="none" stroke="#3a3a3a" stroke-width=".8" stroke-opacity=".35"/><path d="M271.3 433.8L279.3 428.5L268.0 427.9Z" fill="#888888" stroke="#888888" stroke-width=".5"/><path d="M271.3 433.8L268.0 427.9L268.0 432.0Z" fill="#8d8d8d" stroke="#8d8d8d" stroke-width=".5"/><path d="M271.3 433.8L268.0 432.0L279.9 432.0Z" fill="#818181" stroke="#818181" stroke-width=".5"/><path d="M271.3 433.8L279.9 432.0L279.3 428.5Z" fill="#7f7f7f" stroke="#7f7f7f" stroke-width=".5"/><polygon points="279.3,428.5 268.0,427.9 268.0,432.0 279.9,432.0" fill="none" stroke="#3a3a3a" stroke-width=".8" stroke-opacity=".35"/><path d="M288.6 431.2L286.8 422.1L279.9 427.4Z" fill="#8d8d8d" stroke="#8d8d8d" stroke-width=".5"/><path d="M288.6 431.2L279.9 427.4L279.3 428.5Z" fill="#8c8c8c" stroke="#8c8c8c" stroke-width=".5"/><path d="M288.6 431.2L279.3 428.5L279.9 432.0Z" fill="#8a8a8a" stroke="#8a8a8a" stroke-width=".5"/><path d="M288.6 431.2L279.9 432.0L296.6 432.0Z" fill="#7c7c7c" stroke="#7c7c7c" stroke-width=".5"/><path d="M288.6 431.2L296.6 432.0L286.8 422.1Z" fill="#858585" stroke="#858585" stroke-width=".5"/><polygon points="286.8,422.1 279.9,427.4 279.3,428.5 279.9,432.0 296.6,432.0" fill="none" stroke="#3a3a3a" stroke-width=".8" stroke-opacity=".35"/><path d="M305.5 433.9L312.9 425.7L304.8 425.0Z" fill="#747474" stroke="#747474" stroke-width=".5"/><path d="M305.5 433.9L304.8 425.0L297.6 432.0Z" fill="#797979" stroke="#797979" stroke-width=".5"/><path d="M305.5 433.9L297.6 432.0L312.9 432.0Z" fill="#787878" stroke="#787878" stroke-width=".5"/><path d="M305.5 433.9L312.9 432.0L312.9 425.7Z" fill="#6d6d6d" stroke="#6d6d6d" stroke-width=".5"/><polygon points="312.9,425.7 304.8,425.0 297.6,432.0 312.9,432.0" fill="none" stroke="#3a3a3a" stroke-width=".8" stroke-opacity=".35"/><path d="M320.3 433.9L314.8 424.3L312.9 425.7Z" fill="#838383" stroke="#838383" stroke-width=".5"/><path d="M320.3 433.9L312.9 425.7L312.9 432.0Z" fill="#838383" stroke="#838383" stroke-width=".5"/><path d="M320.3 433.9L312.9 432.0L327.2 432.0Z" fill="#828282" stroke="#828282" stroke-width=".5"/><path d="M320.3 433.9L327.2 432.0L326.0 425.7Z" fill="#787878" stroke="#787878" stroke-width=".5"/><path d="M320.3 433.9L326.0 425.7L314.8 424.3Z" fill="#818181" stroke="#818181" stroke-width=".5"/><polygon points="314.8,424.3 312.9,425.7 312.9,432.0 327.2,432.0 326.0,425.7" fill="none" stroke="#3a3a3a" stroke-width=".8" stroke-opacity=".35"/><path d="M334.3 431.4L341.3 427.3L328.4 423.9Z" fill="#737373" stroke="#737373" stroke-width=".5"/><path d="M334.3 431.4L328.4 423.9L326.0 425.7Z" fill="#767676" stroke="#767676" stroke-width=".5"/><path d="M334.3 431.4L326.0 425.7L327.2 432.0Z" fill="#747474" stroke="#747474" stroke-width=".5"/><path d="M334.3 431.4L327.2 432.0L340.1 432.0Z" fill="#6a6a6a" stroke="#6a6a6a" stroke-width=".5"/><path d="M334.3 431.4L340.1 432.0L341.3 427.3Z" fill="#666666" stroke="#666666" stroke-width=".5"/><polygon points="341.3,427.3 328.4,423.9 326.0,425.7 327.2,432.0 340.1,432.0" fill="none" stroke="#3a3a3a" stroke-width=".8" stroke-opacity=".35"/><path d="M345.4 434.3L340.1 432.0L352.2 432.0Z" fill="#747474" stroke="#747474" stroke-width=".5"/><path d="M345.4 434.3L352.2 432.0L349.9 426.2Z" fill="#6e6e6e" stroke="#6e6e6e" stroke-width=".5"/><path d="M345.4 434.3L349.9 426.2L345.7 424.7Z" fill="#747474" stroke="#747474" stroke-width=".5"/><path d="M345.4 434.3L345.7 424.7L341.3 427.3Z" fill="#777777" stroke="#777777" stroke-width=".5"/><path d="M345.4 434.3L341.3 427.3L340.1 432.0Z" fill="#787878" stroke="#787878" stroke-width=".5"/><polygon points="340.1,432.0 352.2,432.0 349.9,426.2 345.7,424.7 341.3,427.3" fill="none" stroke="#3a3a3a" stroke-width=".8" stroke-opacity=".35"/><path d="M358.6 429.1L367.2 429.4L355.2 423.0Z" fill="#747474" stroke="#747474" stroke-width=".5"/><path d="M358.6 429.1L355.2 423.0L349.9 426.2Z" fill="#7d7d7d" stroke="#7d7d7d" stroke-width=".5"/><path d="M358.6 429.1L349.9 426.2L352.2 432.0Z" fill="#797979" stroke="#797979" stroke-width=".5"/><path d="M358.6 429.1L352.2 432.0L366.2 432.0Z" fill="#676767" stroke="#676767" stroke-width=".5"/><path d="M358.6 429.1L366.2 432.0L367.2 429.4Z" fill="#696969" stroke="#696969" stroke-width=".5"/><polygon points="367.2,429.4 355.2,423.0 349.9,426.2 352.2,432.0 366.2,432.0" fill="none" stroke="#3a3a3a" stroke-width=".8" stroke-opacity=".35"/><path d="M373.7 435.0L366.2 432.0L381.8 432.0Z" fill="#8b8b8b" stroke="#8b8b8b" stroke-width=".5"/><path d="M373.7 435.0L381.8 432.0L380.7 429.0Z" fill="#818181" stroke="#818181" stroke-width=".5"/><path d="M373.7 435.0L380.7 429.0L371.5 425.4Z" fill="#8a8a8a" stroke="#8a8a8a" stroke-width=".5"/><path d="M373.7 435.0L371.5 425.4L367.2 429.4Z" fill="#8e8e8e" stroke="#8e8e8e" stroke-width=".5"/><path d="M373.7 435.0L367.2 429.4L366.2 432.0Z" fill="#8e8e8e" stroke="#8e8e8e" stroke-width=".5"/><polygon points="366.2,432.0 381.8,432.0 380.7,429.0 371.5,425.4 367.2,429.4" fill="none" stroke="#3a3a3a" stroke-width=".8" stroke-opacity=".35"/><path d="M390.0 429.0L380.7 429.0L381.8 432.0Z" fill="#626262" stroke="#626262" stroke-width=".5"/><path d="M390.0 429.0L381.8 432.0L394.8 432.0Z" fill="#585858" stroke="#585858" stroke-width=".5"/><path d="M390.0 429.0L394.8 432.0L395.2 426.9Z" fill="#545454" stroke="#545454" stroke-width=".5"/><path d="M390.0 429.0L395.2 426.9L386.5 422.5Z" fill="#646464" stroke="#646464" stroke-width=".5"/><path d="M390.0 429.0L386.5 422.5L380.7 429.0Z" fill="#676767" stroke="#676767" stroke-width=".5"/><polygon points="380.7,429.0 381.8,432.0 394.8,432.0 395.2,426.9 386.5,422.5" fill="none" stroke="#3a3a3a" stroke-width=".8" stroke-opacity=".35"/><path d="M400.0 429.8L394.8 432.0L407.2 432.0Z" fill="#626262" stroke="#626262" stroke-width=".5"/><path d="M400.0 429.8L407.2 432.0L408.1 430.0Z" fill="#656565" stroke="#656565" stroke-width=".5"/><path d="M400.0 429.8L408.1 430.0L402.6 421.5Z" fill="#6e6e6e" stroke="#6e6e6e" stroke-width=".5"/><path d="M400.0 429.8L402.6 421.5L395.2 426.9Z" fill="#787878" stroke="#787878" stroke-width=".5"/><path d="M400.0 429.8L395.2 426.9L394.8 432.0Z" fill="#757575" stroke="#757575" stroke-width=".5"/><polygon points="394.8,432.0 407.2,432.0 408.1,430.0 402.6,421.5 395.2,426.9" fill="none" stroke="#3a3a3a" stroke-width=".8" stroke-opacity=".35"/><path d="M413.7 435.7L419.2 427.8L408.1 430.0Z" fill="#727272" stroke="#727272" stroke-width=".5"/><path d="M413.7 435.7L408.1 430.0L407.2 432.0Z" fill="#747474" stroke="#747474" stroke-width=".5"/><path d="M413.7 435.7L407.2 432.0L420.7 432.0Z" fill="#727272" stroke="#727272" stroke-width=".5"/><path d="M413.7 435.7L420.7 432.0L419.2 427.8Z" fill="#6a6a6a" stroke="#6a6a6a" stroke-width=".5"/><polygon points="419.2,427.8 408.1,430.0 407.2,432.0 420.7,432.0" fill="none" stroke="#3a3a3a" stroke-width=".8" stroke-opacity=".35"/><path d="M428.4 430.5L419.5 427.1L419.2 427.8Z" fill="#858585" stroke="#858585" stroke-width=".5"/><path d="M428.4 430.5L419.2 427.8L420.7 432.0Z" fill="#838383" stroke="#838383" stroke-width=".5"/><path d="M428.4 430.5L420.7 432.0L434.7 432.0Z" fill="#767676" stroke="#767676" stroke-width=".5"/><path d="M428.4 430.5L434.7 432.0L435.2 425.2Z" fill="#777777" stroke="#777777" stroke-width=".5"/><path d="M428.4 430.5L435.2 425.2L429.7 423.2Z" fill="#808080" stroke="#808080" stroke-width=".5"/><path d="M428.4 430.5L429.7 423.2L419.5 427.1Z" fill="#878787" stroke="#878787" stroke-width=".5"/><polygon points="419.5,427.1 419.2,427.8 420.7,432.0 434.7,432.0 435.2,425.2 429.7,423.2" fill="none" stroke="#3a3a3a" stroke-width=".8" stroke-opacity=".35"/><path d="M441.2 431.5L449.5 425.9L443.2 421.0Z" fill="#868686" stroke="#868686" stroke-width=".5"/><path d="M441.2 431.5L443.2 421.0L435.2 425.2Z" fill="#8c8c8c" stroke="#8c8c8c" stroke-width=".5"/><path d="M441.2 431.5L435.2 425.2L434.7 432.0Z" fill="#8c8c8c" stroke="#8c8c8c" stroke-width=".5"/><path d="M441.2 431.5L434.7 432.0L449.8 432.0Z" fill="#777777" stroke="#777777" stroke-width=".5"/><path d="M441.2 431.5L449.8 432.0L449.5 425.9Z" fill="#7d7d7d" stroke="#7d7d7d" stroke-width=".5"/><polygon points="449.5,425.9 443.2,421.0 435.2,425.2 434.7,432.0 449.8,432.0" fill="none" stroke="#3a3a3a" stroke-width=".8" stroke-opacity=".35"/><path d="M458.4 430.7L456.8 423.1L449.5 425.9Z" fill="#797979" stroke="#797979" stroke-width=".5"/><path d="M458.4 430.7L449.5 425.9L449.8 432.0Z" fill="#767676" stroke="#767676" stroke-width=".5"/><path d="M458.4 430.7L449.8 432.0L463.6 432.0Z" fill="#6d6d6d" stroke="#6d6d6d" stroke-width=".5"/><path d="M458.4 430.7L463.6 432.0L463.3 428.5Z" fill="#676767" stroke="#676767" stroke-width=".5"/><path d="M458.4 430.7L463.3 428.5L456.8 423.1Z" fill="#747474" stroke="#747474" stroke-width=".5"/><polygon points="456.8,423.1 449.5,425.9 449.8,432.0 463.6,432.0 463.3,428.5" fill="none" stroke="#3a3a3a" stroke-width=".8" stroke-opacity=".35"/><path d="M468.5 429.8L463.3 428.5L463.6 432.0Z" fill="#656565" stroke="#656565" stroke-width=".5"/><path d="M468.5 429.8L463.6 432.0L476.0 432.0Z" fill="#535353" stroke="#535353" stroke-width=".5"/><path d="M468.5 429.8L476.0 432.0L477.4 428.2Z" fill="#575757" stroke="#575757" stroke-width=".5"/><path d="M468.5 429.8L477.4 428.2L471.4 423.6Z" fill="#5e5e5e" stroke="#5e5e5e" stroke-width=".5"/><path d="M468.5 429.8L471.4 423.6L463.3 428.5Z" fill="#6a6a6a" stroke="#6a6a6a" stroke-width=".5"/><polygon points="463.3,428.5 463.6,432.0 476.0,432.0 477.4,428.2 471.4,423.6" fill="none" stroke="#3a3a3a" stroke-width=".8" stroke-opacity=".35"/><path d="M483.1 435.2L489.4 430.9L482.5 426.1Z" fill="#797979" stroke="#797979" stroke-width=".5"/><path d="M483.1 435.2L482.5 426.1L477.4 428.2Z" fill="#7e7e7e" stroke="#7e7e7e" stroke-width=".5"/><path d="M483.1 435.2L477.4 428.2L476.0 432.0Z" fill="#7e7e7e" stroke="#7e7e7e" stroke-width=".5"/><path d="M483.1 435.2L476.0 432.0L489.5 432.0Z" fill="#7d7d7d" stroke="#7d7d7d" stroke-width=".5"/><path d="M483.1 435.2L489.5 432.0L489.4 430.9Z" fill="#717171" stroke="#717171" stroke-width=".5"/><polygon points="489.4,430.9 482.5,426.1 477.4,428.2 476.0,432.0 489.5,432.0" fill="none" stroke="#3a3a3a" stroke-width=".8" stroke-opacity=".35"/><path d="M496.4 434.0L489.5 432.0L499.0 432.0Z" fill="#7e7e7e" stroke="#7e7e7e" stroke-width=".5"/><path d="M496.4 434.0L499.0 432.0L499.0 426.3Z" fill="#777777" stroke="#777777" stroke-width=".5"/><path d="M496.4 434.0L499.0 426.3L489.4 430.9Z" fill="#7e7e7e" stroke="#7e7e7e" stroke-width=".5"/><path d="M496.4 434.0L489.4 430.9L489.5 432.0Z" fill="#7d7d7d" stroke="#7d7d7d" stroke-width=".5"/><polygon points="489.5,432.0 499.0,432.0 499.0,426.3 489.4,430.9" fill="none" stroke="#3a3a3a" stroke-width=".8" stroke-opacity=".35"/><path d="M268 403L330 403L306 432L268 432Z" fill="#808080" opacity=".7"/><path d="M449 397L499 395L499 421L459 421Z" fill="#6a6a6a" opacity=".7"/><path d="M399 366L429 366L414 393Z" fill="#8a8a8a" opacity=".7"/><circle cx="299" cy="379" r="5" fill="rgb(60,60,60)"/><circle cx="287" cy="375" r="3" fill="rgb(88,88,88)"/><circle cx="343" cy="374" r="3" fill="rgb(96,96,96)"/><circle cx="399" cy="414" r="5" fill="rgb(68,68,68)"/><circle cx="387" cy="404" r="4" fill="rgb(88,88,88)"/><circle cx="453" cy="392" r="3" fill="rgb(88,88,88)"/><circle cx="471" cy="402" r="4" fill="rgb(92,92,92)"/><use href="#U" transform="matrix(6.80 0 0 6.80 284.0 361.0)" fill="#9c9c9c"/><use href="#U" transform="matrix(8.50 0 0 8.50 303.0 360.0)" fill="#acacac"/><use href="#D" transform="matrix(6.80 0 0 6.80 313.0 359.0)" fill="#9c9c9c"/><use href="#D" transform="matrix(5.95 0 0 5.95 323.0 367.0)" fill="#949494"/><use href="#D" transform="matrix(8.50 0 0 8.50 337.0 364.0)" fill="#9c9c9c"/><use href="#H" transform="matrix(6.80 0 0 6.80 351.0 361.0)" fill="#9c9c9c"/><use href="#H" transform="matrix(8.50 0 0 8.50 362.0 364.0)" fill="#b4b4b4"/><use href="#H" transform="matrix(6.80 0 0 6.80 375.0 360.0)" fill="#a4a4a4"/><use href="#D" transform="matrix(11.05 0 0 11.05 316.0 375.0)" fill="#cccccc"/><use href="#H" transform="matrix(8.50 0 0 8.50 329.0 380.0)" fill="#b4b4b4"/><use href="#U" transform="matrix(9.35 0 0 9.35 352.0 378.0)" fill="#c4c4c4"/><use href="#U" transform="matrix(6.80 0 0 6.80 371.0 375.0)" fill="#9c9c9c"/><use href="#U" transform="matrix(7.65 0 0 7.65 281.0 385.0)" fill="#a4a4a4"/><use href="#U" transform="matrix(10.20 0 0 10.20 299.0 392.0)" fill="#b4b4b4"/><use href="#H" transform="matrix(10.20 0 0 10.20 320.0 393.0)" fill="#bcbcbc"/><use href="#U" transform="matrix(6.80 0 0 6.80 344.0 388.0)" fill="#949494"/><use href="#H" transform="matrix(6.80 0 0 6.80 357.0 392.0)" fill="#949494"/><use href="#H" transform="matrix(6.80 0 0 6.80 281.0 398.0)" fill="#a4a4a4"/><use href="#U" transform="matrix(6.80 0 0 6.80 301.0 400.0)" fill="#9c9c9c"/><use href="#D" transform="matrix(8.50 0 0 8.50 333.0 405.0)" fill="#acacac"/><use href="#H" transform="matrix(8.50 0 0 8.50 357.0 408.0)" fill="#b4b4b4"/><use href="#U" transform="matrix(8.50 0 0 8.50 369.0 414.0)" fill="#b4b4b4"/><use href="#H" transform="matrix(6.80 0 0 6.80 381.0 406.0)" fill="#a4a4a4"/><use href="#U" transform="matrix(5.10 0 0 5.10 279.0 421.0)" fill="#c4c4c4"/><use href="#H" transform="matrix(6.80 0 0 6.80 323.0 412.0)" fill="#9c9c9c"/><use href="#H" transform="matrix(10.20 0 0 10.20 345.0 416.0)" fill="#bcbcbc"/><use href="#D" transform="matrix(6.80 0 0 6.80 363.0 421.0)" fill="#a4a4a4"/><use href="#D" transform="matrix(6.80 0 0 6.80 389.0 359.0)" fill="#9c9c9c"/><use href="#D" transform="matrix(6.80 0 0 6.80 409.0 357.0)" fill="#9c9c9c"/><use href="#U" transform="matrix(10.20 0 0 10.20 437.0 363.0)" fill="#b4b4b4"/><use href="#U" transform="matrix(7.65 0 0 7.65 443.0 371.0)" fill="#a4a4a4"/><use href="#H" transform="matrix(6.80 0 0 6.80 455.0 358.0)" fill="#949494"/><use href="#U" transform="matrix(6.80 0 0 6.80 476.0 357.0)" fill="#a4a4a4"/><use href="#U" transform="matrix(8.50 0 0 8.50 485.0 368.0)" fill="#b4b4b4"/><use href="#H" transform="matrix(8.50 0 0 8.50 405.0 390.0)" fill="#9c9c9c"/><use href="#H" transform="matrix(10.20 0 0 10.20 433.0 390.0)" fill="#acacac"/><use href="#U" transform="matrix(6.80 0 0 6.80 441.0 379.0)" fill="#9c9c9c"/><use href="#U" transform="matrix(6.80 0 0 6.80 457.0 378.0)" fill="#a4a4a4"/><use href="#H" transform="matrix(8.50 0 0 8.50 469.0 375.0)" fill="#a4a4a4"/><use href="#U" transform="matrix(8.50 0 0 8.50 471.0 387.0)" fill="#b4b4b4"/><use href="#D" transform="matrix(8.50 0 0 8.50 481.0 388.0)" fill="#acacac"/><use href="#H" transform="matrix(6.80 0 0 6.80 488.0 395.0)" fill="#c4c4c4"/><use href="#U" transform="matrix(8.50 0 0 8.50 403.0 405.0)" fill="#acacac"/><use href="#H" transform="matrix(6.80 0 0 6.80 429.0 401.0)" fill="#9c9c9c"/><use href="#D" transform="matrix(6.80 0 0 6.80 463.0 412.0)" fill="#949494"/><use href="#U" transform="matrix(8.50 0 0 8.50 443.0 414.0)" fill="#a4a4a4"/></g></g>
<rect x="494" y="249.4" width="14.5" height="70.79999999999998" fill="url(#cb)"/>
<rect x="273.5" y="248.4" width="235.1" height="72.79999999999998" fill="none" stroke="#000" stroke-width="2"/>
<path d="M493.2 248.4V321.2" stroke="#000" stroke-width="1.6"/>
<path d="M509 248.4h3.5M509 286h3.5M509 321.2h3.5" stroke="#000" stroke-width="1.6"/>
<rect x="494" y="354.0" width="14.5" height="70.60000000000002" fill="url(#cb)"/>
<rect x="273.5" y="353.0" width="235.1" height="72.60000000000002" fill="none" stroke="#000" stroke-width="2"/>
<path d="M493.2 353.0V425.6" stroke="#000" stroke-width="1.6"/>
<path d="M509 353.0h3.5M509 390.7h3.5M509 425.6h3.5" stroke="#000" stroke-width="1.6"/>
<text x="516.5" y="259.8" font-size="10.3" text-anchor="start" fill="#000" transform="matrix(1.12 0 0 1.0 -61.98 0.00)">10 nm</text>
<text x="522.5" y="296.2" font-size="10.3" text-anchor="start" fill="#000" transform="matrix(1.1 0 0 1.0 -52.25 0.00)">5</text>
<text x="522.5" y="318.6" font-size="10.3" text-anchor="start" fill="#000" transform="matrix(1.1 0 0 1.0 -52.25 0.00)">0</text>
<text x="516.5" y="364.6" font-size="10.3" text-anchor="start" fill="#000" transform="matrix(1.12 0 0 1.0 -61.98 0.00)">10 nm</text>
<text x="522.5" y="401.0" font-size="10.3" text-anchor="start" fill="#000" transform="matrix(1.1 0 0 1.0 -52.25 0.00)">5</text>
<text x="522.5" y="423.3" font-size="10.3" text-anchor="start" fill="#000" transform="matrix(1.1 0 0 1.0 -52.25 0.00)">0</text>
<path d="M434.7 316.9H491.5M434.7 314.29999999999995V319.5M491.5 314.29999999999995V319.5" stroke="#fff" stroke-width="4.6" fill="none"/>
<path d="M434.7 316.9H491.5M434.7 314.29999999999995V319.5M491.5 314.29999999999995V319.5" stroke="#000" stroke-width="2.0" fill="none"/>
<text x="463.1" y="309.8" font-size="10.8" text-anchor="middle" fill="#fff" stroke="#fff" stroke-width="3.2" stroke-linejoin="round" transform="matrix(1.13 0 0 1 -60.20 0)">500 nm</text>
<text x="463.1" y="309.8" font-size="10.8" text-anchor="middle" fill="#000" stroke="#000" stroke-width="0.45" stroke-linejoin="round" transform="matrix(1.13 0 0 1 -60.20 0)">500 nm</text>
<path d="M380.6 421.7H491.7M380.6 419.09999999999997V424.3M491.7 419.09999999999997V424.3" stroke="#fff" stroke-width="4.6" fill="none"/>
<path d="M380.6 421.7H491.7M380.6 419.09999999999997V424.3M491.7 419.09999999999997V424.3" stroke="#000" stroke-width="2.0" fill="none"/>
<text x="435.6" y="415.1" font-size="10.8" text-anchor="middle" fill="#fff" stroke="#fff" stroke-width="3.2" stroke-linejoin="round" transform="matrix(1.13 0 0 1 -56.63 0)">500 nm</text>
<text x="435.6" y="415.1" font-size="10.8" text-anchor="middle" fill="#000" stroke="#000" stroke-width="0.45" stroke-linejoin="round" transform="matrix(1.13 0 0 1 -56.63 0)">500 nm</text></svg>
</body></html>
